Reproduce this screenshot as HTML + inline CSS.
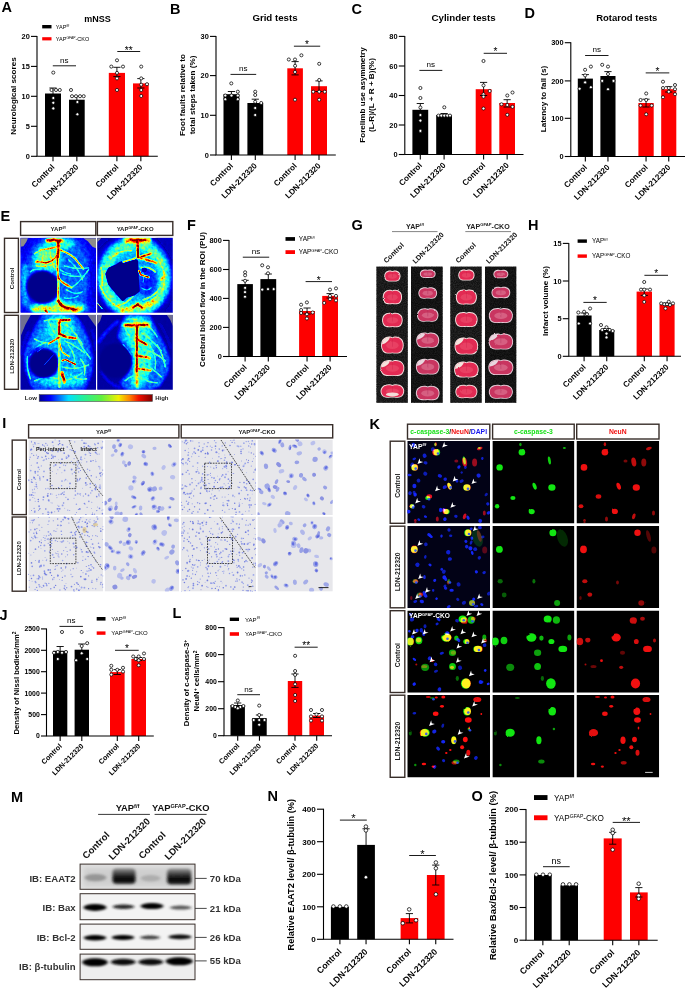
<!DOCTYPE html>
<html lang="en"><head><meta charset="utf-8"><title>Figure</title>
<style>
html,body{margin:0;padding:0;background:#fff;}
svg{display:block;}
svg text{font-family:"Liberation Sans",sans-serif;}
</style></head><body>
<svg width="685" height="990" viewBox="0 0 685 990">
<rect width="685" height="990" fill="#fff"/>
<defs>
<filter id="b03" filterUnits="userSpaceOnUse" x="-20" y="-20" width="740" height="1040"><feGaussianBlur stdDeviation="0.3"/></filter>
<filter id="b05" filterUnits="userSpaceOnUse" x="-20" y="-20" width="740" height="1040"><feGaussianBlur stdDeviation="0.45"/></filter>
<filter id="b08" filterUnits="userSpaceOnUse" x="-20" y="-20" width="740" height="1040"><feGaussianBlur stdDeviation="0.7"/></filter>
<filter id="b1" filterUnits="userSpaceOnUse" x="-20" y="-20" width="740" height="1040"><feGaussianBlur stdDeviation="1"/></filter>
<filter id="b12" filterUnits="userSpaceOnUse" x="-20" y="-20" width="740" height="1040"><feGaussianBlur stdDeviation="1.4 1.0"/></filter>
<filter id="b2" filterUnits="userSpaceOnUse" x="-20" y="-20" width="740" height="1040"><feGaussianBlur stdDeviation="2"/></filter>
<filter id="b3" filterUnits="userSpaceOnUse" x="-20" y="-20" width="740" height="1040"><feGaussianBlur stdDeviation="3.5"/></filter>
<filter id="jetmap" filterUnits="userSpaceOnUse" x="0" y="0" width="76" height="75" color-interpolation-filters="sRGB">
<feTurbulence type="fractalNoise" baseFrequency="0.33" numOctaves="2" seed="3" result="n"/>
<feColorMatrix in="n" type="matrix" values="1 0 0 0 0  1 0 0 0 0  1 0 0 0 0  0 0 0 0 1" result="ng"/>
<feComposite in="SourceGraphic" in2="ng" operator="arithmetic" k1="0.8" k2="0.61" k3="0" k4="0" result="m"/>
<feComponentTransfer in="m">
<feFuncR type="table" tableValues="0 0 0 0 0.5 1 1 1 0.5"/>
<feFuncG type="table" tableValues="0 0 0.5 1 1 1 0.5 0 0"/>
<feFuncB type="table" tableValues="0.55 1 1 1 0.5 0 0 0 0"/>
</feComponentTransfer>
</filter>
<filter id="speck" filterUnits="userSpaceOnUse" x="370" y="260" width="150" height="150" color-interpolation-filters="sRGB">
<feTurbulence type="fractalNoise" baseFrequency="0.9" numOctaves="2" seed="5" result="n"/>
<feColorMatrix in="n" type="matrix" values="0 0 0 0 0  0 0 0 0 0  0 0 0 0 0  2.2 0 0 0 -0.6"/>
<feComposite in2="SourceGraphic" operator="in"/>
</filter>
<linearGradient id="jet" x1="0" x2="1" y1="0" y2="0">
<stop offset="0" stop-color="#000090"/><stop offset="0.10" stop-color="#0000ff"/><stop offset="0.26" stop-color="#00e0ff"/>
<stop offset="0.38" stop-color="#20f0a0"/><stop offset="0.55" stop-color="#60f040"/><stop offset="0.70" stop-color="#f0f000"/>
<stop offset="0.80" stop-color="#ff8000"/><stop offset="0.88" stop-color="#f01000"/><stop offset="1" stop-color="#800000"/>
</linearGradient>
<filter id="cellf" filterUnits="userSpaceOnUse" x="-10" y="-10" width="110" height="110" color-interpolation-filters="sRGB">
<feGaussianBlur in="SourceGraphic" stdDeviation="0.7" result="bl"/>
<feTurbulence type="fractalNoise" baseFrequency="0.18" numOctaves="1" seed="8" result="t"/>
<feDisplacementMap in="bl" in2="t" scale="2.0" xChannelSelector="R" yChannelSelector="G"/>
</filter>
<filter id="slicef" filterUnits="userSpaceOnUse" x="370" y="260" width="150" height="150">
<feTurbulence type="fractalNoise" baseFrequency="0.3" numOctaves="2" seed="4" result="t"/>
<feDisplacementMap in="SourceGraphic" in2="t" scale="1.8" xChannelSelector="R" yChannelSelector="G" result="d"/>
<feGaussianBlur in="d" stdDeviation="0.35"/>
</filter>
<linearGradient id="eaat" x1="0" x2="0" y1="0" y2="1"><stop offset="0" stop-color="#9a9a9a"/><stop offset="0.35" stop-color="#3c3c3c"/><stop offset="0.6" stop-color="#0a0a0a"/><stop offset="0.82" stop-color="#080808"/><stop offset="1" stop-color="#555"/></linearGradient>
<linearGradient id="strip0" x1="0" x2="1" y1="0" y2="1"><stop offset="0" stop-color="#3a3a3a"/><stop offset="0.5" stop-color="#101010"/><stop offset="1" stop-color="#2a2a2a"/></linearGradient>
<linearGradient id="strip1" x1="0" x2="1" y1="0" y2="1"><stop offset="0" stop-color="#101010"/><stop offset="0.5" stop-color="#222"/><stop offset="1" stop-color="#080808"/></linearGradient>
</defs>
<text x="1.50" y="12.20" font-size="14.5" font-weight="bold" text-anchor="start" fill="#000">A</text>
<text x="97.50" y="21.60" font-size="9.0" font-weight="bold" text-anchor="middle" fill="#000">mNSS</text>
<rect x="42.20" y="25.00" width="9.30" height="3.40" fill="#000"/>
<rect x="42.20" y="37.20" width="9.30" height="3.20" fill="#fe0000"/>
<text x="55.80" y="28.68" font-size="5.5" font-weight="normal" text-anchor="start" fill="#000">YAP<tspan font-size="3.41" dy="-1.98">f/f</tspan></text>
<text x="55.80" y="40.78" font-size="5.5" font-weight="normal" text-anchor="start" fill="#000">YAP<tspan font-size="3.41" dy="-1.98">GFAP</tspan><tspan dy="1.98">-CKO</tspan></text>
<text x="16.24" y="96.00" font-size="8.1" font-weight="bold" text-anchor="middle" fill="#000" transform="rotate(-90 16.24 96.00)">Neurological scores</text>
<rect x="45.00" y="93.50" width="16.00" height="62.80" fill="#000"/>
<rect x="69.00" y="99.70" width="15.70" height="56.60" fill="#000"/>
<rect x="108.80" y="72.90" width="16.20" height="83.40" fill="#fe0000"/>
<rect x="133.00" y="83.40" width="15.70" height="72.90" fill="#fe0000"/>
<path d="M53.00 88.00V99.00M49.40 88.00H56.60M49.40 99.00H56.60" stroke="#000" stroke-width="0.9" fill="none"/>
<path d="M76.85 96.50V103.00M73.25 96.50H80.45M73.25 103.00H80.45" stroke="#000" stroke-width="0.9" fill="none"/>
<path d="M116.90 67.30V76.60M113.30 67.30H120.50M113.30 76.60H120.50" stroke="#000" stroke-width="0.9" fill="none"/>
<path d="M140.85 78.60V88.00M137.25 78.60H144.45M137.25 88.00H144.45" stroke="#000" stroke-width="0.9" fill="none"/>
<path d="M37.00 35.90V156.30H157.80" stroke="#000" stroke-width="1.1" fill="none"/>
<path d="M31.00 36.40H37.00" stroke="#000" stroke-width="1.1"/>
<text x="29.80" y="39.06" font-size="7.4" font-weight="bold" text-anchor="end" fill="#000">20</text>
<path d="M31.00 66.40H37.00" stroke="#000" stroke-width="1.1"/>
<text x="29.80" y="69.06" font-size="7.4" font-weight="bold" text-anchor="end" fill="#000">15</text>
<path d="M31.00 96.30H37.00" stroke="#000" stroke-width="1.1"/>
<text x="29.80" y="98.96" font-size="7.4" font-weight="bold" text-anchor="end" fill="#000">10</text>
<path d="M31.00 126.30H37.00" stroke="#000" stroke-width="1.1"/>
<text x="29.80" y="128.96" font-size="7.4" font-weight="bold" text-anchor="end" fill="#000">5</text>
<path d="M31.00 156.30H37.00" stroke="#000" stroke-width="1.1"/>
<text x="29.80" y="158.96" font-size="7.4" font-weight="bold" text-anchor="end" fill="#000">0</text>
<path d="M53.00 156.30v5" stroke="#000" stroke-width="1.1"/>
<text x="55.20" y="167.60" font-size="8.1" font-weight="bold" text-anchor="end" fill="#000" transform="rotate(-45 55.20 167.60)">Control</text>
<path d="M76.85 156.30v5" stroke="#000" stroke-width="1.1"/>
<text x="79.05" y="167.60" font-size="8.1" font-weight="bold" text-anchor="end" fill="#000" transform="rotate(-45 79.05 167.60)">LDN-212320</text>
<path d="M116.90 156.30v5" stroke="#000" stroke-width="1.1"/>
<text x="119.10" y="167.60" font-size="8.1" font-weight="bold" text-anchor="end" fill="#000" transform="rotate(-45 119.10 167.60)">Control</text>
<path d="M140.85 156.30v5" stroke="#000" stroke-width="1.1"/>
<text x="143.05" y="167.60" font-size="8.1" font-weight="bold" text-anchor="end" fill="#000" transform="rotate(-45 143.05 167.60)">LDN-212320</text>
<circle cx="53.30" cy="72.60" r="1.55" fill="#fff" stroke="#000" stroke-width="0.75"/>
<circle cx="51.50" cy="90.00" r="1.55" fill="#fff" stroke="#000" stroke-width="0.75"/>
<circle cx="56.00" cy="90.00" r="1.55" fill="#fff" stroke="#000" stroke-width="0.75"/>
<circle cx="59.80" cy="90.00" r="1.55" fill="#fff" stroke="#000" stroke-width="0.75"/>
<circle cx="53.30" cy="98.00" r="1.55" fill="#fff" stroke="#000" stroke-width="0.75"/>
<circle cx="53.30" cy="102.80" r="1.55" fill="#fff" stroke="#000" stroke-width="0.75"/>
<circle cx="53.30" cy="108.40" r="1.55" fill="#fff" stroke="#000" stroke-width="0.75"/>
<circle cx="71.00" cy="90.00" r="1.55" fill="#fff" stroke="#000" stroke-width="0.75"/>
<circle cx="72.00" cy="96.20" r="1.55" fill="#fff" stroke="#000" stroke-width="0.75"/>
<circle cx="76.00" cy="96.20" r="1.55" fill="#fff" stroke="#000" stroke-width="0.75"/>
<circle cx="80.00" cy="96.20" r="1.55" fill="#fff" stroke="#000" stroke-width="0.75"/>
<circle cx="83.70" cy="96.20" r="1.55" fill="#fff" stroke="#000" stroke-width="0.75"/>
<circle cx="77.40" cy="102.00" r="1.55" fill="#fff" stroke="#000" stroke-width="0.75"/>
<circle cx="77.40" cy="114.30" r="1.55" fill="#fff" stroke="#000" stroke-width="0.75"/>
<circle cx="117.00" cy="60.30" r="1.55" fill="#fff" stroke="#000" stroke-width="0.75"/>
<circle cx="111.30" cy="66.60" r="1.55" fill="#fff" stroke="#000" stroke-width="0.75"/>
<circle cx="123.00" cy="66.60" r="1.55" fill="#fff" stroke="#000" stroke-width="0.75"/>
<circle cx="117.00" cy="72.90" r="1.55" fill="#fff" stroke="#000" stroke-width="0.75"/>
<circle cx="117.00" cy="78.40" r="1.55" fill="#fff" stroke="#000" stroke-width="0.75"/>
<circle cx="117.00" cy="90.00" r="1.55" fill="#fff" stroke="#000" stroke-width="0.75"/>
<circle cx="141.20" cy="66.60" r="1.55" fill="#fff" stroke="#000" stroke-width="0.75"/>
<circle cx="141.20" cy="78.40" r="1.55" fill="#fff" stroke="#000" stroke-width="0.75"/>
<circle cx="147.00" cy="84.20" r="1.55" fill="#fff" stroke="#000" stroke-width="0.75"/>
<circle cx="141.20" cy="84.70" r="1.55" fill="#fff" stroke="#000" stroke-width="0.75"/>
<circle cx="141.20" cy="90.00" r="1.55" fill="#fff" stroke="#000" stroke-width="0.75"/>
<circle cx="141.20" cy="96.00" r="1.55" fill="#fff" stroke="#000" stroke-width="0.75"/>
<path d="M52.80 65.80H76.00" stroke="#000" stroke-width="0.9"/>
<text x="64.40" y="62.60" font-size="8.1" font-weight="normal" text-anchor="middle" fill="#000">ns</text>
<path d="M117.30 51.50H140.20" stroke="#000" stroke-width="0.9"/>
<text x="128.75" y="53.50" font-size="10.125" font-weight="normal" text-anchor="middle" fill="#000">**</text>
<text x="170.00" y="13.80" font-size="14.5" font-weight="bold" text-anchor="start" fill="#000">B</text>
<text x="275.00" y="20.80" font-size="9.7" font-weight="bold" text-anchor="middle" fill="#000">Grid tests</text>
<text x="184.74" y="95.00" font-size="8.1" font-weight="bold" text-anchor="middle" fill="#000" transform="rotate(-90 184.74 95.00)">Foot faults relative to</text>
<text x="194.53" y="95.00" font-size="8.1" font-weight="bold" text-anchor="middle" fill="#000" transform="rotate(-90 194.53 95.00)">total steps taken (%)</text>
<rect x="223.50" y="94.20" width="15.80" height="60.80" fill="#000"/>
<rect x="247.40" y="103.00" width="15.80" height="52.00" fill="#000"/>
<rect x="287.30" y="68.30" width="15.60" height="86.70" fill="#fe0000"/>
<rect x="311.00" y="86.20" width="16.00" height="68.80" fill="#fe0000"/>
<path d="M231.40 91.50V97.00M227.80 91.50H235.00M227.80 97.00H235.00" stroke="#000" stroke-width="0.9" fill="none"/>
<path d="M255.30 99.20V107.00M251.70 99.20H258.90M251.70 107.00H258.90" stroke="#000" stroke-width="0.9" fill="none"/>
<path d="M295.10 61.60V74.90M291.50 61.60H298.70M291.50 74.90H298.70" stroke="#000" stroke-width="0.9" fill="none"/>
<path d="M319.00 80.90V91.50M315.40 80.90H322.60M315.40 91.50H322.60" stroke="#000" stroke-width="0.9" fill="none"/>
<path d="M216.00 35.90V155.00H335.80" stroke="#000" stroke-width="1.1" fill="none"/>
<path d="M210.00 36.40H216.00" stroke="#000" stroke-width="1.1"/>
<text x="208.80" y="39.06" font-size="7.4" font-weight="bold" text-anchor="end" fill="#000">30</text>
<path d="M210.00 75.60H216.00" stroke="#000" stroke-width="1.1"/>
<text x="208.80" y="78.26" font-size="7.4" font-weight="bold" text-anchor="end" fill="#000">20</text>
<path d="M210.00 115.30H216.00" stroke="#000" stroke-width="1.1"/>
<text x="208.80" y="117.96" font-size="7.4" font-weight="bold" text-anchor="end" fill="#000">10</text>
<path d="M210.00 155.00H216.00" stroke="#000" stroke-width="1.1"/>
<text x="208.80" y="157.66" font-size="7.4" font-weight="bold" text-anchor="end" fill="#000">0</text>
<path d="M231.40 155.00v5" stroke="#000" stroke-width="1.1"/>
<text x="233.60" y="166.30" font-size="8.1" font-weight="bold" text-anchor="end" fill="#000" transform="rotate(-45 233.60 166.30)">Control</text>
<path d="M255.30 155.00v5" stroke="#000" stroke-width="1.1"/>
<text x="257.50" y="166.30" font-size="8.1" font-weight="bold" text-anchor="end" fill="#000" transform="rotate(-45 257.50 166.30)">LDN-212320</text>
<path d="M295.10 155.00v5" stroke="#000" stroke-width="1.1"/>
<text x="297.30" y="166.30" font-size="8.1" font-weight="bold" text-anchor="end" fill="#000" transform="rotate(-45 297.30 166.30)">Control</text>
<path d="M319.00 155.00v5" stroke="#000" stroke-width="1.1"/>
<text x="321.20" y="166.30" font-size="8.1" font-weight="bold" text-anchor="end" fill="#000" transform="rotate(-45 321.20 166.30)">LDN-212320</text>
<circle cx="231.30" cy="83.40" r="1.55" fill="#fff" stroke="#000" stroke-width="0.75"/>
<circle cx="237.80" cy="91.70" r="1.55" fill="#fff" stroke="#000" stroke-width="0.75"/>
<circle cx="225.30" cy="95.50" r="1.55" fill="#fff" stroke="#000" stroke-width="0.75"/>
<circle cx="231.50" cy="95.50" r="1.55" fill="#fff" stroke="#000" stroke-width="0.75"/>
<circle cx="237.80" cy="95.50" r="1.55" fill="#fff" stroke="#000" stroke-width="0.75"/>
<circle cx="225.30" cy="99.20" r="1.55" fill="#fff" stroke="#000" stroke-width="0.75"/>
<circle cx="237.80" cy="99.20" r="1.55" fill="#fff" stroke="#000" stroke-width="0.75"/>
<circle cx="255.20" cy="91.70" r="1.55" fill="#fff" stroke="#000" stroke-width="0.75"/>
<circle cx="255.20" cy="95.00" r="1.55" fill="#fff" stroke="#000" stroke-width="0.75"/>
<circle cx="255.20" cy="101.80" r="1.55" fill="#fff" stroke="#000" stroke-width="0.75"/>
<circle cx="261.20" cy="103.00" r="1.55" fill="#fff" stroke="#000" stroke-width="0.75"/>
<circle cx="255.20" cy="108.00" r="1.55" fill="#fff" stroke="#000" stroke-width="0.75"/>
<circle cx="255.20" cy="115.00" r="1.55" fill="#fff" stroke="#000" stroke-width="0.75"/>
<circle cx="301.40" cy="55.30" r="1.55" fill="#fff" stroke="#000" stroke-width="0.75"/>
<circle cx="288.80" cy="59.50" r="1.55" fill="#fff" stroke="#000" stroke-width="0.75"/>
<circle cx="295.00" cy="59.50" r="1.55" fill="#fff" stroke="#000" stroke-width="0.75"/>
<circle cx="295.10" cy="65.80" r="1.55" fill="#fff" stroke="#000" stroke-width="0.75"/>
<circle cx="295.00" cy="72.00" r="1.55" fill="#fff" stroke="#000" stroke-width="0.75"/>
<circle cx="295.00" cy="99.70" r="1.55" fill="#fff" stroke="#000" stroke-width="0.75"/>
<circle cx="319.20" cy="63.80" r="1.55" fill="#fff" stroke="#000" stroke-width="0.75"/>
<circle cx="319.20" cy="80.00" r="1.55" fill="#fff" stroke="#000" stroke-width="0.75"/>
<circle cx="313.20" cy="91.70" r="1.55" fill="#fff" stroke="#000" stroke-width="0.75"/>
<circle cx="319.20" cy="91.70" r="1.55" fill="#fff" stroke="#000" stroke-width="0.75"/>
<circle cx="324.80" cy="91.70" r="1.55" fill="#fff" stroke="#000" stroke-width="0.75"/>
<circle cx="319.20" cy="99.70" r="1.55" fill="#fff" stroke="#000" stroke-width="0.75"/>
<path d="M230.50 74.40H256.20" stroke="#000" stroke-width="0.9"/>
<text x="243.35" y="71.20" font-size="8.1" font-weight="normal" text-anchor="middle" fill="#000">ns</text>
<path d="M293.90 46.20H320.20" stroke="#000" stroke-width="0.9"/>
<text x="307.05" y="48.20" font-size="10.125" font-weight="normal" text-anchor="middle" fill="#000">*</text>
<text x="351.50" y="14.20" font-size="14.5" font-weight="bold" text-anchor="start" fill="#000">C</text>
<text x="463.60" y="20.80" font-size="9.7" font-weight="bold" text-anchor="middle" fill="#000">Cylinder tests</text>
<text x="364.54" y="95.00" font-size="8.1" font-weight="bold" text-anchor="middle" fill="#000" transform="rotate(-90 364.54 95.00)">Forelimb use asymmetry</text>
<text x="374.13" y="95.00" font-size="8.1" font-weight="bold" text-anchor="middle" fill="#000" transform="rotate(-90 374.13 95.00)">(L-R)/(L + R + B)(%)</text>
<rect x="412.40" y="109.80" width="15.80" height="44.70" fill="#000"/>
<rect x="436.20" y="115.00" width="15.80" height="39.50" fill="#000"/>
<rect x="475.70" y="89.20" width="15.80" height="65.30" fill="#fe0000"/>
<rect x="499.30" y="103.00" width="15.70" height="51.50" fill="#fe0000"/>
<path d="M420.30 103.50V116.00M416.70 103.50H423.90M416.70 116.00H423.90" stroke="#000" stroke-width="0.9" fill="none"/>
<path d="M444.10 113.50V116.50M440.50 113.50H447.70M440.50 116.50H447.70" stroke="#000" stroke-width="0.9" fill="none"/>
<path d="M483.60 82.40V95.50M480.00 82.40H487.20M480.00 95.50H487.20" stroke="#000" stroke-width="0.9" fill="none"/>
<path d="M507.15 99.70V107.00M503.55 99.70H510.75M503.55 107.00H510.75" stroke="#000" stroke-width="0.9" fill="none"/>
<path d="M404.80 35.90V154.50H523.50" stroke="#000" stroke-width="1.1" fill="none"/>
<path d="M398.80 36.40H404.80" stroke="#000" stroke-width="1.1"/>
<text x="397.60" y="39.06" font-size="7.4" font-weight="bold" text-anchor="end" fill="#000">80</text>
<path d="M398.80 66.00H404.80" stroke="#000" stroke-width="1.1"/>
<text x="397.60" y="68.66" font-size="7.4" font-weight="bold" text-anchor="end" fill="#000">60</text>
<path d="M398.80 95.50H404.80" stroke="#000" stroke-width="1.1"/>
<text x="397.60" y="98.16" font-size="7.4" font-weight="bold" text-anchor="end" fill="#000">40</text>
<path d="M398.80 125.00H404.80" stroke="#000" stroke-width="1.1"/>
<text x="397.60" y="127.66" font-size="7.4" font-weight="bold" text-anchor="end" fill="#000">20</text>
<path d="M398.80 154.50H404.80" stroke="#000" stroke-width="1.1"/>
<text x="397.60" y="157.16" font-size="7.4" font-weight="bold" text-anchor="end" fill="#000">0</text>
<path d="M420.30 154.50v5" stroke="#000" stroke-width="1.1"/>
<text x="422.50" y="165.80" font-size="8.1" font-weight="bold" text-anchor="end" fill="#000" transform="rotate(-45 422.50 165.80)">Control</text>
<path d="M444.10 154.50v5" stroke="#000" stroke-width="1.1"/>
<text x="446.30" y="165.80" font-size="8.1" font-weight="bold" text-anchor="end" fill="#000" transform="rotate(-45 446.30 165.80)">LDN-212320</text>
<path d="M483.60 154.50v5" stroke="#000" stroke-width="1.1"/>
<text x="485.80" y="165.80" font-size="8.1" font-weight="bold" text-anchor="end" fill="#000" transform="rotate(-45 485.80 165.80)">Control</text>
<path d="M507.15 154.50v5" stroke="#000" stroke-width="1.1"/>
<text x="509.35" y="165.80" font-size="8.1" font-weight="bold" text-anchor="end" fill="#000" transform="rotate(-45 509.35 165.80)">LDN-212320</text>
<circle cx="420.40" cy="88.00" r="1.55" fill="#fff" stroke="#000" stroke-width="0.75"/>
<circle cx="420.40" cy="98.00" r="1.55" fill="#fff" stroke="#000" stroke-width="0.75"/>
<circle cx="420.40" cy="107.50" r="1.55" fill="#fff" stroke="#000" stroke-width="0.75"/>
<circle cx="420.40" cy="115.00" r="1.55" fill="#fff" stroke="#000" stroke-width="0.75"/>
<circle cx="420.40" cy="120.60" r="1.55" fill="#fff" stroke="#000" stroke-width="0.75"/>
<circle cx="420.40" cy="130.90" r="1.55" fill="#fff" stroke="#000" stroke-width="0.75"/>
<circle cx="444.30" cy="107.30" r="1.55" fill="#fff" stroke="#000" stroke-width="0.75"/>
<circle cx="438.50" cy="115.60" r="1.55" fill="#fff" stroke="#000" stroke-width="0.75"/>
<circle cx="441.30" cy="115.60" r="1.55" fill="#fff" stroke="#000" stroke-width="0.75"/>
<circle cx="444.30" cy="115.60" r="1.55" fill="#fff" stroke="#000" stroke-width="0.75"/>
<circle cx="447.30" cy="115.60" r="1.55" fill="#fff" stroke="#000" stroke-width="0.75"/>
<circle cx="450.00" cy="115.60" r="1.55" fill="#fff" stroke="#000" stroke-width="0.75"/>
<circle cx="483.50" cy="61.00" r="1.55" fill="#fff" stroke="#000" stroke-width="0.75"/>
<circle cx="483.50" cy="85.40" r="1.55" fill="#fff" stroke="#000" stroke-width="0.75"/>
<circle cx="489.70" cy="91.00" r="1.55" fill="#fff" stroke="#000" stroke-width="0.75"/>
<circle cx="483.50" cy="94.20" r="1.55" fill="#fff" stroke="#000" stroke-width="0.75"/>
<circle cx="483.50" cy="96.70" r="1.55" fill="#fff" stroke="#000" stroke-width="0.75"/>
<circle cx="483.50" cy="108.50" r="1.55" fill="#fff" stroke="#000" stroke-width="0.75"/>
<circle cx="507.30" cy="95.50" r="1.55" fill="#fff" stroke="#000" stroke-width="0.75"/>
<circle cx="512.50" cy="92.50" r="1.55" fill="#fff" stroke="#000" stroke-width="0.75"/>
<circle cx="501.50" cy="104.30" r="1.55" fill="#fff" stroke="#000" stroke-width="0.75"/>
<circle cx="507.30" cy="105.00" r="1.55" fill="#fff" stroke="#000" stroke-width="0.75"/>
<circle cx="512.50" cy="106.80" r="1.55" fill="#fff" stroke="#000" stroke-width="0.75"/>
<circle cx="507.30" cy="114.80" r="1.55" fill="#fff" stroke="#000" stroke-width="0.75"/>
<path d="M419.40 70.40H442.30" stroke="#000" stroke-width="0.9"/>
<text x="430.85" y="67.20" font-size="8.1" font-weight="normal" text-anchor="middle" fill="#000">ns</text>
<path d="M483.70 53.30H507.00" stroke="#000" stroke-width="0.9"/>
<text x="495.35" y="55.30" font-size="10.125" font-weight="normal" text-anchor="middle" fill="#000">*</text>
<text x="524.50" y="17.60" font-size="14.5" font-weight="bold" text-anchor="start" fill="#000">D</text>
<text x="626.80" y="20.80" font-size="9.5" font-weight="bold" text-anchor="middle" fill="#000">Rotarod tests</text>
<text x="545.64" y="99.00" font-size="8.1" font-weight="bold" text-anchor="middle" fill="#000" transform="rotate(-90 545.64 99.00)">Latency to fall (s)</text>
<rect x="577.80" y="78.60" width="15.10" height="77.90" fill="#000"/>
<rect x="600.40" y="76.00" width="15.10" height="80.50" fill="#000"/>
<rect x="638.40" y="103.00" width="15.30" height="53.50" fill="#fe0000"/>
<rect x="661.20" y="89.20" width="15.10" height="67.30" fill="#fe0000"/>
<path d="M585.35 74.60V83.00M581.75 74.60H588.95M581.75 83.00H588.95" stroke="#000" stroke-width="0.9" fill="none"/>
<path d="M607.95 71.60V80.50M604.35 71.60H611.55M604.35 80.50H611.55" stroke="#000" stroke-width="0.9" fill="none"/>
<path d="M646.05 99.20V107.00M642.45 99.20H649.65M642.45 107.00H649.65" stroke="#000" stroke-width="0.9" fill="none"/>
<path d="M668.75 86.70V92.00M665.15 86.70H672.35M665.15 92.00H672.35" stroke="#000" stroke-width="0.9" fill="none"/>
<path d="M570.80 42.20V156.50H686.00" stroke="#000" stroke-width="1.1" fill="none"/>
<path d="M564.80 42.70H570.80" stroke="#000" stroke-width="1.1"/>
<text x="563.60" y="45.36" font-size="7.4" font-weight="bold" text-anchor="end" fill="#000">300</text>
<path d="M564.80 80.90H570.80" stroke="#000" stroke-width="1.1"/>
<text x="563.60" y="83.56" font-size="7.4" font-weight="bold" text-anchor="end" fill="#000">200</text>
<path d="M564.80 118.30H570.80" stroke="#000" stroke-width="1.1"/>
<text x="563.60" y="120.96" font-size="7.4" font-weight="bold" text-anchor="end" fill="#000">100</text>
<path d="M564.80 156.50H570.80" stroke="#000" stroke-width="1.1"/>
<text x="563.60" y="159.16" font-size="7.4" font-weight="bold" text-anchor="end" fill="#000">0</text>
<path d="M585.35 156.50v5" stroke="#000" stroke-width="1.1"/>
<text x="587.55" y="167.80" font-size="8.1" font-weight="bold" text-anchor="end" fill="#000" transform="rotate(-45 587.55 167.80)">Control</text>
<path d="M607.95 156.50v5" stroke="#000" stroke-width="1.1"/>
<text x="610.15" y="167.80" font-size="8.1" font-weight="bold" text-anchor="end" fill="#000" transform="rotate(-45 610.15 167.80)">LDN-212320</text>
<path d="M646.05 156.50v5" stroke="#000" stroke-width="1.1"/>
<text x="648.25" y="167.80" font-size="8.1" font-weight="bold" text-anchor="end" fill="#000" transform="rotate(-45 648.25 167.80)">Control</text>
<path d="M668.75 156.50v5" stroke="#000" stroke-width="1.1"/>
<text x="670.95" y="167.80" font-size="8.1" font-weight="bold" text-anchor="end" fill="#000" transform="rotate(-45 670.95 167.80)">LDN-212320</text>
<circle cx="590.90" cy="66.60" r="1.55" fill="#fff" stroke="#000" stroke-width="0.75"/>
<circle cx="585.10" cy="69.80" r="1.55" fill="#fff" stroke="#000" stroke-width="0.75"/>
<circle cx="585.10" cy="75.40" r="1.55" fill="#fff" stroke="#000" stroke-width="0.75"/>
<circle cx="585.10" cy="82.40" r="1.55" fill="#fff" stroke="#000" stroke-width="0.75"/>
<circle cx="579.60" cy="88.70" r="1.55" fill="#fff" stroke="#000" stroke-width="0.75"/>
<circle cx="590.90" cy="87.20" r="1.55" fill="#fff" stroke="#000" stroke-width="0.75"/>
<circle cx="602.20" cy="64.80" r="1.55" fill="#fff" stroke="#000" stroke-width="0.75"/>
<circle cx="608.00" cy="66.60" r="1.55" fill="#fff" stroke="#000" stroke-width="0.75"/>
<circle cx="608.00" cy="74.00" r="1.55" fill="#fff" stroke="#000" stroke-width="0.75"/>
<circle cx="602.20" cy="80.90" r="1.55" fill="#fff" stroke="#000" stroke-width="0.75"/>
<circle cx="613.50" cy="80.90" r="1.55" fill="#fff" stroke="#000" stroke-width="0.75"/>
<circle cx="608.00" cy="89.20" r="1.55" fill="#fff" stroke="#000" stroke-width="0.75"/>
<circle cx="646.20" cy="93.50" r="1.55" fill="#fff" stroke="#000" stroke-width="0.75"/>
<circle cx="640.60" cy="100.00" r="1.55" fill="#fff" stroke="#000" stroke-width="0.75"/>
<circle cx="646.20" cy="100.00" r="1.55" fill="#fff" stroke="#000" stroke-width="0.75"/>
<circle cx="640.60" cy="105.50" r="1.55" fill="#fff" stroke="#000" stroke-width="0.75"/>
<circle cx="651.70" cy="105.50" r="1.55" fill="#fff" stroke="#000" stroke-width="0.75"/>
<circle cx="646.20" cy="114.30" r="1.55" fill="#fff" stroke="#000" stroke-width="0.75"/>
<circle cx="663.00" cy="81.70" r="1.55" fill="#fff" stroke="#000" stroke-width="0.75"/>
<circle cx="675.00" cy="85.00" r="1.55" fill="#fff" stroke="#000" stroke-width="0.75"/>
<circle cx="663.00" cy="88.00" r="1.55" fill="#fff" stroke="#000" stroke-width="0.75"/>
<circle cx="668.80" cy="88.00" r="1.55" fill="#fff" stroke="#000" stroke-width="0.75"/>
<circle cx="675.00" cy="89.20" r="1.55" fill="#fff" stroke="#000" stroke-width="0.75"/>
<circle cx="668.80" cy="91.70" r="1.55" fill="#fff" stroke="#000" stroke-width="0.75"/>
<circle cx="675.00" cy="94.20" r="1.55" fill="#fff" stroke="#000" stroke-width="0.75"/>
<circle cx="663.00" cy="97.20" r="1.55" fill="#fff" stroke="#000" stroke-width="0.75"/>
<path d="M585.10 55.50H608.50" stroke="#000" stroke-width="0.9"/>
<text x="596.80" y="52.30" font-size="8.1" font-weight="normal" text-anchor="middle" fill="#000">ns</text>
<path d="M645.70 72.90H669.30" stroke="#000" stroke-width="0.9"/>
<text x="657.50" y="74.90" font-size="10.125" font-weight="normal" text-anchor="middle" fill="#000">*</text>
<text x="187.00" y="229.50" font-size="14.5" font-weight="bold" text-anchor="start" fill="#000">F</text>
<rect x="285.50" y="237.10" width="9.50" height="3.70" fill="#000"/>
<rect x="285.50" y="250.20" width="9.50" height="3.80" fill="#fe0000"/>
<text x="298.80" y="241.29" font-size="6.5" font-weight="normal" text-anchor="start" fill="#000">YAP<tspan font-size="4.03" dy="-2.34">f/f</tspan></text>
<text x="298.80" y="254.44" font-size="6.5" font-weight="normal" text-anchor="start" fill="#000">YAP<tspan font-size="4.03" dy="-2.34">GFAP</tspan><tspan dy="2.34">-CKO</tspan></text>
<text x="204.53" y="299.50" font-size="8.1" font-weight="bold" text-anchor="middle" fill="#000" transform="rotate(-90 204.53 299.50)">Cerebral blood flow in the ROI (PU)</text>
<rect x="237.30" y="284.10" width="15.60" height="72.40" fill="#000"/>
<rect x="260.40" y="279.10" width="15.80" height="77.40" fill="#000"/>
<rect x="299.10" y="311.00" width="15.90" height="45.50" fill="#fe0000"/>
<rect x="322.20" y="295.90" width="15.80" height="60.60" fill="#fe0000"/>
<path d="M245.10 280.30V288.00M241.50 280.30H248.70M241.50 288.00H248.70" stroke="#000" stroke-width="0.9" fill="none"/>
<path d="M268.30 274.00V284.00M264.70 274.00H271.90M264.70 284.00H271.90" stroke="#000" stroke-width="0.9" fill="none"/>
<path d="M307.05 308.00V314.00M303.45 308.00H310.65M303.45 314.00H310.65" stroke="#000" stroke-width="0.9" fill="none"/>
<path d="M330.10 293.60V298.00M326.50 293.60H333.70M326.50 298.00H333.70" stroke="#000" stroke-width="0.9" fill="none"/>
<path d="M229.00 239.90V356.50H347.00" stroke="#000" stroke-width="1.1" fill="none"/>
<path d="M223.00 240.40H229.00" stroke="#000" stroke-width="1.1"/>
<text x="221.80" y="243.06" font-size="7.4" font-weight="bold" text-anchor="end" fill="#000">800</text>
<path d="M223.00 269.50H229.00" stroke="#000" stroke-width="1.1"/>
<text x="221.80" y="272.16" font-size="7.4" font-weight="bold" text-anchor="end" fill="#000">600</text>
<path d="M223.00 298.40H229.00" stroke="#000" stroke-width="1.1"/>
<text x="221.80" y="301.06" font-size="7.4" font-weight="bold" text-anchor="end" fill="#000">400</text>
<path d="M223.00 327.40H229.00" stroke="#000" stroke-width="1.1"/>
<text x="221.80" y="330.06" font-size="7.4" font-weight="bold" text-anchor="end" fill="#000">200</text>
<path d="M223.00 356.50H229.00" stroke="#000" stroke-width="1.1"/>
<text x="221.80" y="359.16" font-size="7.4" font-weight="bold" text-anchor="end" fill="#000">0</text>
<path d="M245.10 356.50v5" stroke="#000" stroke-width="1.1"/>
<text x="247.30" y="367.80" font-size="8.1" font-weight="bold" text-anchor="end" fill="#000" transform="rotate(-45 247.30 367.80)">Control</text>
<path d="M268.30 356.50v5" stroke="#000" stroke-width="1.1"/>
<text x="270.50" y="367.80" font-size="8.1" font-weight="bold" text-anchor="end" fill="#000" transform="rotate(-45 270.50 367.80)">LDN-212320</text>
<path d="M307.05 356.50v5" stroke="#000" stroke-width="1.1"/>
<text x="309.25" y="367.80" font-size="8.1" font-weight="bold" text-anchor="end" fill="#000" transform="rotate(-45 309.25 367.80)">Control</text>
<path d="M330.10 356.50v5" stroke="#000" stroke-width="1.1"/>
<text x="332.30" y="367.80" font-size="8.1" font-weight="bold" text-anchor="end" fill="#000" transform="rotate(-45 332.30 367.80)">LDN-212320</text>
<circle cx="245.10" cy="272.30" r="1.55" fill="#fff" stroke="#000" stroke-width="0.75"/>
<circle cx="245.10" cy="275.30" r="1.55" fill="#fff" stroke="#000" stroke-width="0.75"/>
<circle cx="245.10" cy="280.80" r="1.55" fill="#fff" stroke="#000" stroke-width="0.75"/>
<circle cx="245.10" cy="287.90" r="1.55" fill="#fff" stroke="#000" stroke-width="0.75"/>
<circle cx="245.00" cy="292.10" r="1.55" fill="#fff" stroke="#000" stroke-width="0.75"/>
<circle cx="245.00" cy="296.70" r="1.55" fill="#fff" stroke="#000" stroke-width="0.75"/>
<circle cx="262.20" cy="265.30" r="1.55" fill="#fff" stroke="#000" stroke-width="0.75"/>
<circle cx="268.00" cy="267.30" r="1.55" fill="#fff" stroke="#000" stroke-width="0.75"/>
<circle cx="268.00" cy="273.30" r="1.55" fill="#fff" stroke="#000" stroke-width="0.75"/>
<circle cx="262.20" cy="289.60" r="1.55" fill="#fff" stroke="#000" stroke-width="0.75"/>
<circle cx="268.00" cy="289.10" r="1.55" fill="#fff" stroke="#000" stroke-width="0.75"/>
<circle cx="273.70" cy="289.10" r="1.55" fill="#fff" stroke="#000" stroke-width="0.75"/>
<circle cx="306.90" cy="302.40" r="1.55" fill="#fff" stroke="#000" stroke-width="0.75"/>
<circle cx="301.10" cy="304.70" r="1.55" fill="#fff" stroke="#000" stroke-width="0.75"/>
<circle cx="301.10" cy="310.00" r="1.55" fill="#fff" stroke="#000" stroke-width="0.75"/>
<circle cx="301.10" cy="313.00" r="1.55" fill="#fff" stroke="#000" stroke-width="0.75"/>
<circle cx="306.90" cy="314.20" r="1.55" fill="#fff" stroke="#000" stroke-width="0.75"/>
<circle cx="312.70" cy="312.50" r="1.55" fill="#fff" stroke="#000" stroke-width="0.75"/>
<circle cx="306.90" cy="318.50" r="1.55" fill="#fff" stroke="#000" stroke-width="0.75"/>
<circle cx="330.00" cy="289.60" r="1.55" fill="#fff" stroke="#000" stroke-width="0.75"/>
<circle cx="336.00" cy="288.40" r="1.55" fill="#fff" stroke="#000" stroke-width="0.75"/>
<circle cx="330.00" cy="295.90" r="1.55" fill="#fff" stroke="#000" stroke-width="0.75"/>
<circle cx="336.00" cy="295.90" r="1.55" fill="#fff" stroke="#000" stroke-width="0.75"/>
<circle cx="324.20" cy="302.90" r="1.55" fill="#fff" stroke="#000" stroke-width="0.75"/>
<circle cx="330.00" cy="299.20" r="1.55" fill="#fff" stroke="#000" stroke-width="0.75"/>
<circle cx="336.00" cy="300.40" r="1.55" fill="#fff" stroke="#000" stroke-width="0.75"/>
<path d="M242.80 257.20H269.20" stroke="#000" stroke-width="0.9"/>
<text x="256.00" y="254.00" font-size="8.1" font-weight="normal" text-anchor="middle" fill="#000">ns</text>
<path d="M305.60 281.60H332.00" stroke="#000" stroke-width="0.9"/>
<text x="318.80" y="283.60" font-size="10.125" font-weight="normal" text-anchor="middle" fill="#000">*</text>
<text x="528.00" y="229.50" font-size="14.5" font-weight="bold" text-anchor="start" fill="#000">H</text>
<rect x="577.60" y="239.40" width="9.30" height="3.40" fill="#000"/>
<rect x="577.60" y="254.40" width="9.30" height="3.40" fill="#fe0000"/>
<text x="592.10" y="243.37" font-size="6.3" font-weight="normal" text-anchor="start" fill="#000">YAP<tspan font-size="3.91" dy="-2.27">f/f</tspan></text>
<text x="592.10" y="258.37" font-size="6.3" font-weight="normal" text-anchor="start" fill="#000">YAP<tspan font-size="3.91" dy="-2.27">GFAP</tspan><tspan dy="2.27">-CKO</tspan></text>
<text x="548.34" y="301.00" font-size="8.1" font-weight="bold" text-anchor="middle" fill="#000" transform="rotate(-90 548.34 301.00)">Infarct volume (%)</text>
<rect x="576.60" y="315.50" width="15.00" height="40.80" fill="#000"/>
<rect x="599.20" y="330.00" width="15.10" height="26.30" fill="#000"/>
<rect x="636.60" y="291.60" width="15.40" height="64.70" fill="#fe0000"/>
<rect x="659.50" y="304.20" width="15.10" height="52.10" fill="#fe0000"/>
<path d="M584.10 313.00V318.00M580.50 313.00H587.70M580.50 318.00H587.70" stroke="#000" stroke-width="0.9" fill="none"/>
<path d="M606.75 328.50V331.50M603.15 328.50H610.35M603.15 331.50H610.35" stroke="#000" stroke-width="0.9" fill="none"/>
<path d="M644.30 289.00V295.40M640.70 289.00H647.90M640.70 295.40H647.90" stroke="#000" stroke-width="0.9" fill="none"/>
<path d="M667.05 303.00V305.50M663.45 303.00H670.65M663.45 305.50H670.65" stroke="#000" stroke-width="0.9" fill="none"/>
<path d="M568.80 242.90V356.30H681.00" stroke="#000" stroke-width="1.1" fill="none"/>
<path d="M562.80 243.40H568.80" stroke="#000" stroke-width="1.1"/>
<text x="561.60" y="246.06" font-size="7.4" font-weight="bold" text-anchor="end" fill="#000">15</text>
<path d="M562.80 281.00H568.80" stroke="#000" stroke-width="1.1"/>
<text x="561.60" y="283.66" font-size="7.4" font-weight="bold" text-anchor="end" fill="#000">10</text>
<path d="M562.80 318.70H568.80" stroke="#000" stroke-width="1.1"/>
<text x="561.60" y="321.36" font-size="7.4" font-weight="bold" text-anchor="end" fill="#000">5</text>
<path d="M562.80 356.30H568.80" stroke="#000" stroke-width="1.1"/>
<text x="561.60" y="358.96" font-size="7.4" font-weight="bold" text-anchor="end" fill="#000">0</text>
<path d="M584.10 356.30v5" stroke="#000" stroke-width="1.1"/>
<text x="586.30" y="367.60" font-size="8.1" font-weight="bold" text-anchor="end" fill="#000" transform="rotate(-45 586.30 367.60)">Control</text>
<path d="M606.75 356.30v5" stroke="#000" stroke-width="1.1"/>
<text x="608.95" y="367.60" font-size="8.1" font-weight="bold" text-anchor="end" fill="#000" transform="rotate(-45 608.95 367.60)">LDN-212320</text>
<path d="M644.30 356.30v5" stroke="#000" stroke-width="1.1"/>
<text x="646.50" y="367.60" font-size="8.1" font-weight="bold" text-anchor="end" fill="#000" transform="rotate(-45 646.50 367.60)">Control</text>
<path d="M667.05 356.30v5" stroke="#000" stroke-width="1.1"/>
<text x="669.25" y="367.60" font-size="8.1" font-weight="bold" text-anchor="end" fill="#000" transform="rotate(-45 669.25 367.60)">LDN-212320</text>
<circle cx="590.10" cy="308.50" r="1.55" fill="#fff" stroke="#000" stroke-width="0.75"/>
<circle cx="578.30" cy="312.50" r="1.55" fill="#fff" stroke="#000" stroke-width="0.75"/>
<circle cx="584.10" cy="311.70" r="1.55" fill="#fff" stroke="#000" stroke-width="0.75"/>
<circle cx="587.00" cy="314.20" r="1.55" fill="#fff" stroke="#000" stroke-width="0.75"/>
<circle cx="578.80" cy="323.50" r="1.55" fill="#fff" stroke="#000" stroke-width="0.75"/>
<circle cx="590.10" cy="323.50" r="1.55" fill="#fff" stroke="#000" stroke-width="0.75"/>
<circle cx="601.00" cy="325.00" r="1.55" fill="#fff" stroke="#000" stroke-width="0.75"/>
<circle cx="606.50" cy="327.30" r="1.55" fill="#fff" stroke="#000" stroke-width="0.75"/>
<circle cx="602.20" cy="330.00" r="1.55" fill="#fff" stroke="#000" stroke-width="0.75"/>
<circle cx="609.70" cy="330.00" r="1.55" fill="#fff" stroke="#000" stroke-width="0.75"/>
<circle cx="612.70" cy="331.00" r="1.55" fill="#fff" stroke="#000" stroke-width="0.75"/>
<circle cx="606.50" cy="333.60" r="1.55" fill="#fff" stroke="#000" stroke-width="0.75"/>
<circle cx="606.50" cy="337.40" r="1.55" fill="#fff" stroke="#000" stroke-width="0.75"/>
<circle cx="644.20" cy="282.00" r="1.55" fill="#fff" stroke="#000" stroke-width="0.75"/>
<circle cx="641.00" cy="289.60" r="1.55" fill="#fff" stroke="#000" stroke-width="0.75"/>
<circle cx="644.20" cy="289.60" r="1.55" fill="#fff" stroke="#000" stroke-width="0.75"/>
<circle cx="650.00" cy="289.60" r="1.55" fill="#fff" stroke="#000" stroke-width="0.75"/>
<circle cx="644.20" cy="295.40" r="1.55" fill="#fff" stroke="#000" stroke-width="0.75"/>
<circle cx="644.20" cy="301.90" r="1.55" fill="#fff" stroke="#000" stroke-width="0.75"/>
<circle cx="668.80" cy="301.70" r="1.55" fill="#fff" stroke="#000" stroke-width="0.75"/>
<circle cx="661.20" cy="303.40" r="1.55" fill="#fff" stroke="#000" stroke-width="0.75"/>
<circle cx="664.30" cy="304.20" r="1.55" fill="#fff" stroke="#000" stroke-width="0.75"/>
<circle cx="667.00" cy="304.20" r="1.55" fill="#fff" stroke="#000" stroke-width="0.75"/>
<circle cx="670.00" cy="305.00" r="1.55" fill="#fff" stroke="#000" stroke-width="0.75"/>
<circle cx="673.00" cy="303.40" r="1.55" fill="#fff" stroke="#000" stroke-width="0.75"/>
<circle cx="665.50" cy="308.50" r="1.55" fill="#fff" stroke="#000" stroke-width="0.75"/>
<path d="M583.40 302.40H606.70" stroke="#000" stroke-width="0.9"/>
<text x="595.05" y="304.40" font-size="10.125" font-weight="normal" text-anchor="middle" fill="#000">*</text>
<path d="M644.40 275.30H668.00" stroke="#000" stroke-width="0.9"/>
<text x="656.20" y="277.30" font-size="10.125" font-weight="normal" text-anchor="middle" fill="#000">*</text>
<text x="-0.50" y="619.80" font-size="14.5" font-weight="bold" text-anchor="start" fill="#000">J</text>
<rect x="96.70" y="617.00" width="8.80" height="3.60" fill="#000"/>
<rect x="96.70" y="631.40" width="8.80" height="3.40" fill="#fe0000"/>
<text x="111.30" y="620.96" font-size="6.0" font-weight="normal" text-anchor="start" fill="#000">YAP<tspan font-size="3.72" dy="-2.16">f/f</tspan></text>
<text x="111.30" y="635.26" font-size="6.0" font-weight="normal" text-anchor="start" fill="#000">YAP<tspan font-size="3.72" dy="-2.16">GFAP</tspan><tspan dy="2.16">-CKO</tspan></text>
<text x="18.80" y="683.00" font-size="7.7" font-weight="bold" text-anchor="middle" fill="#000" transform="rotate(-90 18.80 683.00)">Density of Nissl bodies/mm<tspan font-size="5" dy="-2.5">2</tspan></text>
<rect x="53.00" y="650.80" width="14.30" height="85.20" fill="#000"/>
<rect x="74.60" y="649.70" width="14.40" height="86.30" fill="#000"/>
<rect x="110.00" y="672.10" width="14.60" height="63.90" fill="#fe0000"/>
<rect x="131.40" y="659.00" width="14.60" height="77.00" fill="#fe0000"/>
<path d="M60.15 646.50V655.00M56.55 646.50H63.75M56.55 655.00H63.75" stroke="#000" stroke-width="0.9" fill="none"/>
<path d="M81.80 644.00V655.00M78.20 644.00H85.40M78.20 655.00H85.40" stroke="#000" stroke-width="0.9" fill="none"/>
<path d="M117.30 669.60V674.50M113.70 669.60H120.90M113.70 674.50H120.90" stroke="#000" stroke-width="0.9" fill="none"/>
<path d="M138.70 657.50V660.50M135.10 657.50H142.30M135.10 660.50H142.30" stroke="#000" stroke-width="0.9" fill="none"/>
<path d="M46.50 628.40V736.00H153.80" stroke="#000" stroke-width="1.1" fill="none"/>
<path d="M41.00 628.90H46.50" stroke="#000" stroke-width="1.1"/>
<text x="39.80" y="631.38" font-size="6.9" font-weight="bold" text-anchor="end" fill="#000">2500</text>
<path d="M41.00 650.30H46.50" stroke="#000" stroke-width="1.1"/>
<text x="39.80" y="652.78" font-size="6.9" font-weight="bold" text-anchor="end" fill="#000">2000</text>
<path d="M41.00 671.70H46.50" stroke="#000" stroke-width="1.1"/>
<text x="39.80" y="674.18" font-size="6.9" font-weight="bold" text-anchor="end" fill="#000">1500</text>
<path d="M41.00 693.10H46.50" stroke="#000" stroke-width="1.1"/>
<text x="39.80" y="695.58" font-size="6.9" font-weight="bold" text-anchor="end" fill="#000">1000</text>
<path d="M41.00 714.60H46.50" stroke="#000" stroke-width="1.1"/>
<text x="39.80" y="717.08" font-size="6.9" font-weight="bold" text-anchor="end" fill="#000">500</text>
<path d="M41.00 736.00H46.50" stroke="#000" stroke-width="1.1"/>
<text x="39.80" y="738.48" font-size="6.9" font-weight="bold" text-anchor="end" fill="#000">0</text>
<path d="M60.15 736.00v5" stroke="#000" stroke-width="1.1"/>
<text x="62.35" y="746.60" font-size="7.2" font-weight="bold" text-anchor="end" fill="#000" transform="rotate(-45 62.35 746.60)">Control</text>
<path d="M81.80 736.00v5" stroke="#000" stroke-width="1.1"/>
<text x="84.00" y="746.60" font-size="7.2" font-weight="bold" text-anchor="end" fill="#000" transform="rotate(-45 84.00 746.60)">LDN-212320</text>
<path d="M117.30 736.00v5" stroke="#000" stroke-width="1.1"/>
<text x="119.50" y="746.60" font-size="7.2" font-weight="bold" text-anchor="end" fill="#000" transform="rotate(-45 119.50 746.60)">Control</text>
<path d="M138.70 736.00v5" stroke="#000" stroke-width="1.1"/>
<text x="140.90" y="746.60" font-size="7.2" font-weight="bold" text-anchor="end" fill="#000" transform="rotate(-45 140.90 746.60)">LDN-212320</text>
<circle cx="62.00" cy="632.00" r="1.55" fill="#fff" stroke="#000" stroke-width="0.75"/>
<circle cx="54.00" cy="652.80" r="1.55" fill="#fff" stroke="#000" stroke-width="0.75"/>
<circle cx="57.80" cy="652.00" r="1.55" fill="#fff" stroke="#000" stroke-width="0.75"/>
<circle cx="62.00" cy="652.80" r="1.55" fill="#fff" stroke="#000" stroke-width="0.75"/>
<circle cx="66.00" cy="652.00" r="1.55" fill="#fff" stroke="#000" stroke-width="0.75"/>
<circle cx="57.80" cy="659.00" r="1.55" fill="#fff" stroke="#000" stroke-width="0.75"/>
<circle cx="81.70" cy="632.00" r="1.55" fill="#fff" stroke="#000" stroke-width="0.75"/>
<circle cx="87.20" cy="643.20" r="1.55" fill="#fff" stroke="#000" stroke-width="0.75"/>
<circle cx="81.70" cy="646.00" r="1.55" fill="#fff" stroke="#000" stroke-width="0.75"/>
<circle cx="81.70" cy="653.30" r="1.55" fill="#fff" stroke="#000" stroke-width="0.75"/>
<circle cx="76.10" cy="660.30" r="1.55" fill="#fff" stroke="#000" stroke-width="0.75"/>
<circle cx="87.20" cy="659.00" r="1.55" fill="#fff" stroke="#000" stroke-width="0.75"/>
<circle cx="111.30" cy="665.80" r="1.55" fill="#fff" stroke="#000" stroke-width="0.75"/>
<circle cx="123.00" cy="667.80" r="1.55" fill="#fff" stroke="#000" stroke-width="0.75"/>
<circle cx="111.30" cy="669.80" r="1.55" fill="#fff" stroke="#000" stroke-width="0.75"/>
<circle cx="117.30" cy="669.80" r="1.55" fill="#fff" stroke="#000" stroke-width="0.75"/>
<circle cx="123.00" cy="671.60" r="1.55" fill="#fff" stroke="#000" stroke-width="0.75"/>
<circle cx="111.30" cy="674.60" r="1.55" fill="#fff" stroke="#000" stroke-width="0.75"/>
<circle cx="144.00" cy="653.50" r="1.55" fill="#fff" stroke="#000" stroke-width="0.75"/>
<circle cx="133.20" cy="656.50" r="1.55" fill="#fff" stroke="#000" stroke-width="0.75"/>
<circle cx="138.70" cy="656.50" r="1.55" fill="#fff" stroke="#000" stroke-width="0.75"/>
<circle cx="135.70" cy="659.00" r="1.55" fill="#fff" stroke="#000" stroke-width="0.75"/>
<circle cx="144.00" cy="659.00" r="1.55" fill="#fff" stroke="#000" stroke-width="0.75"/>
<circle cx="138.70" cy="660.30" r="1.55" fill="#fff" stroke="#000" stroke-width="0.75"/>
<circle cx="138.70" cy="665.30" r="1.55" fill="#fff" stroke="#000" stroke-width="0.75"/>
<path d="M59.50 626.40H82.90" stroke="#000" stroke-width="0.9"/>
<text x="71.20" y="623.20" font-size="8.1" font-weight="normal" text-anchor="middle" fill="#000">ns</text>
<path d="M115.00 650.30H138.70" stroke="#000" stroke-width="0.9"/>
<text x="126.85" y="652.30" font-size="10.125" font-weight="normal" text-anchor="middle" fill="#000">*</text>
<text x="172.50" y="617.80" font-size="14.5" font-weight="bold" text-anchor="start" fill="#000">L</text>
<rect x="229.80" y="617.60" width="9.20" height="3.40" fill="#000"/>
<rect x="229.80" y="632.20" width="9.20" height="3.60" fill="#fe0000"/>
<text x="244.90" y="621.50" font-size="6.1" font-weight="normal" text-anchor="start" fill="#000">YAP<tspan font-size="3.78" dy="-2.2">f/f</tspan></text>
<text x="244.90" y="636.20" font-size="6.1" font-weight="normal" text-anchor="start" fill="#000">YAP<tspan font-size="3.78" dy="-2.2">GFAP</tspan><tspan dy="2.2">-CKO</tspan></text>
<text x="189.39" y="683.00" font-size="7.7" font-weight="bold" text-anchor="middle" fill="#000" transform="rotate(-90 189.39 683.00)">Density of c-caspase-3<tspan font-size="5" dy="-2.5">+</tspan></text>
<text x="199.39" y="681.00" font-size="7.7" font-weight="bold" text-anchor="middle" fill="#000" transform="rotate(-90 199.39 681.00)">NeuN<tspan font-size="5" dy="-2.5">+</tspan><tspan dy="2.5"> cells/mm</tspan><tspan font-size="5" dy="-2.5">2</tspan></text>
<rect x="230.50" y="705.00" width="14.40" height="30.70" fill="#000"/>
<rect x="252.20" y="718.10" width="14.50" height="17.60" fill="#000"/>
<rect x="287.80" y="681.00" width="14.40" height="54.70" fill="#fe0000"/>
<rect x="309.40" y="715.60" width="14.60" height="20.10" fill="#fe0000"/>
<path d="M237.70 703.00V707.00M234.10 703.00H241.30M234.10 707.00H241.30" stroke="#000" stroke-width="0.9" fill="none"/>
<path d="M259.45 715.00V721.00M255.85 715.00H263.05M255.85 721.00H263.05" stroke="#000" stroke-width="0.9" fill="none"/>
<path d="M295.00 674.00V687.40M291.40 674.00H298.60M291.40 687.40H298.60" stroke="#000" stroke-width="0.9" fill="none"/>
<path d="M316.70 713.50V717.50M313.10 713.50H320.30M313.10 717.50H320.30" stroke="#000" stroke-width="0.9" fill="none"/>
<path d="M224.00 627.10V735.70H332.00" stroke="#000" stroke-width="1.1" fill="none"/>
<path d="M218.00 627.60H224.00" stroke="#000" stroke-width="1.1"/>
<text x="216.80" y="630.08" font-size="6.9" font-weight="bold" text-anchor="end" fill="#000">800</text>
<path d="M218.00 654.60H224.00" stroke="#000" stroke-width="1.1"/>
<text x="216.80" y="657.08" font-size="6.9" font-weight="bold" text-anchor="end" fill="#000">600</text>
<path d="M218.00 681.70H224.00" stroke="#000" stroke-width="1.1"/>
<text x="216.80" y="684.18" font-size="6.9" font-weight="bold" text-anchor="end" fill="#000">400</text>
<path d="M218.00 708.70H224.00" stroke="#000" stroke-width="1.1"/>
<text x="216.80" y="711.18" font-size="6.9" font-weight="bold" text-anchor="end" fill="#000">200</text>
<path d="M218.00 735.70H224.00" stroke="#000" stroke-width="1.1"/>
<text x="216.80" y="738.18" font-size="6.9" font-weight="bold" text-anchor="end" fill="#000">0</text>
<path d="M237.70 735.70v5" stroke="#000" stroke-width="1.1"/>
<text x="239.90" y="746.30" font-size="7.2" font-weight="bold" text-anchor="end" fill="#000" transform="rotate(-45 239.90 746.30)">Control</text>
<path d="M259.45 735.70v5" stroke="#000" stroke-width="1.1"/>
<text x="261.65" y="746.30" font-size="7.2" font-weight="bold" text-anchor="end" fill="#000" transform="rotate(-45 261.65 746.30)">LDN-212320</text>
<path d="M295.00 735.70v5" stroke="#000" stroke-width="1.1"/>
<text x="297.20" y="746.30" font-size="7.2" font-weight="bold" text-anchor="end" fill="#000" transform="rotate(-45 297.20 746.30)">Control</text>
<path d="M316.70 735.70v5" stroke="#000" stroke-width="1.1"/>
<text x="318.90" y="746.30" font-size="7.2" font-weight="bold" text-anchor="end" fill="#000" transform="rotate(-45 318.90 746.30)">LDN-212320</text>
<circle cx="237.80" cy="700.50" r="1.55" fill="#fff" stroke="#000" stroke-width="0.75"/>
<circle cx="232.50" cy="706.00" r="1.55" fill="#fff" stroke="#000" stroke-width="0.75"/>
<circle cx="243.40" cy="706.00" r="1.55" fill="#fff" stroke="#000" stroke-width="0.75"/>
<circle cx="235.30" cy="707.00" r="1.55" fill="#fff" stroke="#000" stroke-width="0.75"/>
<circle cx="240.30" cy="707.00" r="1.55" fill="#fff" stroke="#000" stroke-width="0.75"/>
<circle cx="237.80" cy="708.30" r="1.55" fill="#fff" stroke="#000" stroke-width="0.75"/>
<circle cx="259.20" cy="705.60" r="1.55" fill="#fff" stroke="#000" stroke-width="0.75"/>
<circle cx="259.20" cy="715.00" r="1.55" fill="#fff" stroke="#000" stroke-width="0.75"/>
<circle cx="253.70" cy="720.00" r="1.55" fill="#fff" stroke="#000" stroke-width="0.75"/>
<circle cx="259.20" cy="720.00" r="1.55" fill="#fff" stroke="#000" stroke-width="0.75"/>
<circle cx="264.50" cy="720.00" r="1.55" fill="#fff" stroke="#000" stroke-width="0.75"/>
<circle cx="259.20" cy="724.70" r="1.55" fill="#fff" stroke="#000" stroke-width="0.75"/>
<circle cx="295.10" cy="655.80" r="1.55" fill="#fff" stroke="#000" stroke-width="0.75"/>
<circle cx="295.10" cy="671.00" r="1.55" fill="#fff" stroke="#000" stroke-width="0.75"/>
<circle cx="295.10" cy="674.90" r="1.55" fill="#fff" stroke="#000" stroke-width="0.75"/>
<circle cx="295.10" cy="684.20" r="1.55" fill="#fff" stroke="#000" stroke-width="0.75"/>
<circle cx="295.10" cy="695.00" r="1.55" fill="#fff" stroke="#000" stroke-width="0.75"/>
<circle cx="295.10" cy="701.00" r="1.55" fill="#fff" stroke="#000" stroke-width="0.75"/>
<circle cx="311.00" cy="710.00" r="1.55" fill="#fff" stroke="#000" stroke-width="0.75"/>
<circle cx="322.00" cy="710.00" r="1.55" fill="#fff" stroke="#000" stroke-width="0.75"/>
<circle cx="316.50" cy="714.40" r="1.55" fill="#fff" stroke="#000" stroke-width="0.75"/>
<circle cx="311.00" cy="716.40" r="1.55" fill="#fff" stroke="#000" stroke-width="0.75"/>
<circle cx="322.00" cy="716.40" r="1.55" fill="#fff" stroke="#000" stroke-width="0.75"/>
<circle cx="311.00" cy="720.60" r="1.55" fill="#fff" stroke="#000" stroke-width="0.75"/>
<circle cx="322.00" cy="720.60" r="1.55" fill="#fff" stroke="#000" stroke-width="0.75"/>
<path d="M237.30 694.70H260.00" stroke="#000" stroke-width="0.9"/>
<text x="248.65" y="691.50" font-size="8.1" font-weight="normal" text-anchor="middle" fill="#000">ns</text>
<path d="M294.60 647.20H317.70" stroke="#000" stroke-width="0.9"/>
<text x="306.15" y="649.20" font-size="10.125" font-weight="normal" text-anchor="middle" fill="#000">**</text>
<text x="267.50" y="801.20" font-size="14.5" font-weight="bold" text-anchor="start" fill="#000">N</text>
<text x="293.72" y="874.70" font-size="9.2" font-weight="bold" text-anchor="middle" fill="#000" transform="rotate(-90 293.72 874.70)">Relative EAAT2 level/ &#946;-tubulin (%)</text>
<rect x="330.90" y="906.80" width="18.00" height="32.50" fill="#000"/>
<rect x="357.20" y="844.90" width="17.70" height="94.40" fill="#000"/>
<rect x="400.60" y="918.10" width="17.60" height="21.20" fill="#fe0000"/>
<rect x="426.90" y="875.00" width="17.70" height="64.30" fill="#fe0000"/>
<path d="M366.05 828.80V861.00M362.45 828.80H369.65M362.45 861.00H369.65" stroke="#000" stroke-width="0.9" fill="none"/>
<path d="M409.40 913.60V922.90M405.80 913.60H413.00M405.80 922.90H413.00" stroke="#000" stroke-width="0.9" fill="none"/>
<path d="M435.75 865.10V885.00M432.15 865.10H439.35M432.15 885.00H439.35" stroke="#000" stroke-width="0.9" fill="none"/>
<path d="M323.50 808.70V939.30H453.50" stroke="#000" stroke-width="1.1" fill="none"/>
<path d="M317.00 809.20H323.50" stroke="#000" stroke-width="1.1"/>
<text x="315.80" y="812.12" font-size="8.1" font-weight="bold" text-anchor="end" fill="#000">400</text>
<path d="M317.00 841.70H323.50" stroke="#000" stroke-width="1.1"/>
<text x="315.80" y="844.62" font-size="8.1" font-weight="bold" text-anchor="end" fill="#000">300</text>
<path d="M317.00 874.30H323.50" stroke="#000" stroke-width="1.1"/>
<text x="315.80" y="877.22" font-size="8.1" font-weight="bold" text-anchor="end" fill="#000">200</text>
<path d="M317.00 906.80H323.50" stroke="#000" stroke-width="1.1"/>
<text x="315.80" y="909.72" font-size="8.1" font-weight="bold" text-anchor="end" fill="#000">100</text>
<path d="M317.00 939.30H323.50" stroke="#000" stroke-width="1.1"/>
<text x="315.80" y="942.22" font-size="8.1" font-weight="bold" text-anchor="end" fill="#000">0</text>
<path d="M339.90 939.30v5" stroke="#000" stroke-width="1.1"/>
<text x="342.10" y="952.30" font-size="8.7" font-weight="bold" text-anchor="end" fill="#000" transform="rotate(-45 342.10 952.30)">Control</text>
<path d="M366.05 939.30v5" stroke="#000" stroke-width="1.1"/>
<text x="368.25" y="952.30" font-size="8.7" font-weight="bold" text-anchor="end" fill="#000" transform="rotate(-45 368.25 952.30)">LDN-212320</text>
<path d="M409.40 939.30v5" stroke="#000" stroke-width="1.1"/>
<text x="411.60" y="952.30" font-size="8.7" font-weight="bold" text-anchor="end" fill="#000" transform="rotate(-45 411.60 952.30)">Control</text>
<path d="M435.75 939.30v5" stroke="#000" stroke-width="1.1"/>
<text x="437.95" y="952.30" font-size="8.7" font-weight="bold" text-anchor="end" fill="#000" transform="rotate(-45 437.95 952.30)">LDN-212320</text>
<circle cx="333.40" cy="906.50" r="1.8" fill="#fff" stroke="#000" stroke-width="0.75"/>
<circle cx="339.90" cy="906.50" r="1.8" fill="#fff" stroke="#000" stroke-width="0.75"/>
<circle cx="346.30" cy="906.50" r="1.8" fill="#fff" stroke="#000" stroke-width="0.75"/>
<circle cx="365.90" cy="826.60" r="1.8" fill="#fff" stroke="#000" stroke-width="0.75"/>
<circle cx="365.90" cy="830.40" r="1.8" fill="#fff" stroke="#000" stroke-width="0.75"/>
<circle cx="365.90" cy="877.30" r="1.8" fill="#fff" stroke="#000" stroke-width="0.75"/>
<circle cx="409.20" cy="909.40" r="1.8" fill="#fff" stroke="#000" stroke-width="0.75"/>
<circle cx="402.80" cy="923.20" r="1.8" fill="#fff" stroke="#000" stroke-width="0.75"/>
<circle cx="416.00" cy="920.30" r="1.8" fill="#fff" stroke="#000" stroke-width="0.75"/>
<circle cx="435.90" cy="862.50" r="1.8" fill="#fff" stroke="#000" stroke-width="0.75"/>
<circle cx="435.90" cy="868.30" r="1.8" fill="#fff" stroke="#000" stroke-width="0.75"/>
<circle cx="435.90" cy="894.30" r="1.8" fill="#fff" stroke="#000" stroke-width="0.75"/>
<path d="M339.90 820.10H366.80" stroke="#000" stroke-width="0.9"/>
<text x="353.35" y="822.32" font-size="11.25" font-weight="normal" text-anchor="middle" fill="#000">*</text>
<path d="M409.20 855.50H435.90" stroke="#000" stroke-width="0.9"/>
<text x="422.55" y="857.72" font-size="11.25" font-weight="normal" text-anchor="middle" fill="#000">*</text>
<text x="471.50" y="801.20" font-size="14.5" font-weight="bold" text-anchor="start" fill="#000">O</text>
<rect x="534.00" y="795.10" width="13.50" height="4.90" fill="#000"/>
<rect x="534.00" y="815.30" width="13.50" height="4.90" fill="#fe0000"/>
<text x="554.00" y="800.50" font-size="8.2" font-weight="normal" text-anchor="start" fill="#000">YAP<tspan font-size="5.08" dy="-2.95">f/f</tspan></text>
<text x="554.00" y="820.70" font-size="8.2" font-weight="normal" text-anchor="start" fill="#000">YAP<tspan font-size="5.08" dy="-2.95">GFAP</tspan><tspan dy="2.95">-CKO</tspan></text>
<text x="496.32" y="875.50" font-size="9.5" font-weight="bold" text-anchor="middle" fill="#000" transform="rotate(-90 496.32 875.50)">Relative Bax/Bcl-2 level/ &#946;-tubulin (%)</text>
<rect x="534.00" y="875.00" width="17.70" height="65.20" fill="#000"/>
<rect x="560.40" y="885.30" width="17.60" height="54.90" fill="#000"/>
<rect x="603.70" y="838.40" width="18.00" height="101.80" fill="#fe0000"/>
<rect x="630.00" y="892.40" width="17.70" height="47.80" fill="#fe0000"/>
<path d="M612.70 832.30V844.20M609.10 832.30H616.30M609.10 844.20H616.30" stroke="#000" stroke-width="0.9" fill="none"/>
<path d="M638.85 887.60V897.00M635.25 887.60H642.45M635.25 897.00H642.45" stroke="#000" stroke-width="0.9" fill="none"/>
<path d="M526.00 809.00V940.20H657.70" stroke="#000" stroke-width="1.1" fill="none"/>
<path d="M519.50 809.50H526.00" stroke="#000" stroke-width="1.1"/>
<text x="518.30" y="812.42" font-size="8.1" font-weight="bold" text-anchor="end" fill="#000">200</text>
<path d="M519.50 842.20H526.00" stroke="#000" stroke-width="1.1"/>
<text x="518.30" y="845.12" font-size="8.1" font-weight="bold" text-anchor="end" fill="#000">150</text>
<path d="M519.50 874.90H526.00" stroke="#000" stroke-width="1.1"/>
<text x="518.30" y="877.82" font-size="8.1" font-weight="bold" text-anchor="end" fill="#000">100</text>
<path d="M519.50 907.50H526.00" stroke="#000" stroke-width="1.1"/>
<text x="518.30" y="910.42" font-size="8.1" font-weight="bold" text-anchor="end" fill="#000">50</text>
<path d="M519.50 940.20H526.00" stroke="#000" stroke-width="1.1"/>
<text x="518.30" y="943.12" font-size="8.1" font-weight="bold" text-anchor="end" fill="#000">0</text>
<path d="M542.85 940.20v5" stroke="#000" stroke-width="1.1"/>
<text x="545.05" y="953.20" font-size="8.7" font-weight="bold" text-anchor="end" fill="#000" transform="rotate(-45 545.05 953.20)">Control</text>
<path d="M569.20 940.20v5" stroke="#000" stroke-width="1.1"/>
<text x="571.40" y="953.20" font-size="8.7" font-weight="bold" text-anchor="end" fill="#000" transform="rotate(-45 571.40 953.20)">LDN-212320</text>
<path d="M612.70 940.20v5" stroke="#000" stroke-width="1.1"/>
<text x="614.90" y="953.20" font-size="8.7" font-weight="bold" text-anchor="end" fill="#000" transform="rotate(-45 614.90 953.20)">Control</text>
<path d="M638.85 940.20v5" stroke="#000" stroke-width="1.1"/>
<text x="641.05" y="953.20" font-size="8.7" font-weight="bold" text-anchor="end" fill="#000" transform="rotate(-45 641.05 953.20)">LDN-212320</text>
<circle cx="536.30" cy="874.70" r="1.8" fill="#fff" stroke="#000" stroke-width="0.75"/>
<circle cx="543.00" cy="874.70" r="1.8" fill="#fff" stroke="#000" stroke-width="0.75"/>
<circle cx="549.80" cy="874.70" r="1.8" fill="#fff" stroke="#000" stroke-width="0.75"/>
<circle cx="563.00" cy="884.40" r="1.8" fill="#fff" stroke="#000" stroke-width="0.75"/>
<circle cx="569.40" cy="884.40" r="1.8" fill="#fff" stroke="#000" stroke-width="0.75"/>
<circle cx="576.10" cy="884.40" r="1.8" fill="#fff" stroke="#000" stroke-width="0.75"/>
<circle cx="612.70" cy="829.80" r="1.8" fill="#fff" stroke="#000" stroke-width="0.75"/>
<circle cx="612.70" cy="833.00" r="1.8" fill="#fff" stroke="#000" stroke-width="0.75"/>
<circle cx="612.70" cy="849.70" r="1.8" fill="#fff" stroke="#000" stroke-width="0.75"/>
<circle cx="638.70" cy="883.70" r="1.8" fill="#fff" stroke="#000" stroke-width="0.75"/>
<circle cx="638.70" cy="895.60" r="1.8" fill="#fff" stroke="#000" stroke-width="0.75"/>
<circle cx="638.70" cy="898.80" r="1.8" fill="#fff" stroke="#000" stroke-width="0.75"/>
<path d="M543.00 866.70H569.70" stroke="#000" stroke-width="0.9"/>
<text x="556.35" y="863.50" font-size="9" font-weight="normal" text-anchor="middle" fill="#000">ns</text>
<path d="M612.70 822.40H640.00" stroke="#000" stroke-width="0.9"/>
<text x="626.35" y="824.62" font-size="11.25" font-weight="normal" text-anchor="middle" fill="#000">**</text>
<text x="0.50" y="220.90" font-size="14.5" font-weight="bold" text-anchor="start" fill="#000">E</text>
<rect x="20.60" y="221.60" width="75.20" height="13.80" fill="#fff" stroke="#382e2a" stroke-width="1.4"/>
<rect x="97.40" y="221.60" width="75.40" height="13.80" fill="#fff" stroke="#382e2a" stroke-width="1.4"/>
<text x="58.20" y="230.80" font-size="6.0" font-weight="bold" text-anchor="middle" fill="#222">YAP<tspan font-size="3.6" dy="-2.0">f/f</tspan></text>
<text x="135.10" y="230.80" font-size="6.0" font-weight="bold" text-anchor="middle" fill="#222">YAP<tspan font-size="3.6" dy="-2.0">GFAP</tspan><tspan dy="2.0">-CKO</tspan></text>
<rect x="4.50" y="238.30" width="13.90" height="74.20" fill="#fff" stroke="#382e2a" stroke-width="1.4"/>
<rect x="4.50" y="315.30" width="13.90" height="74.00" fill="#fff" stroke="#382e2a" stroke-width="1.4"/>
<text x="13.60" y="278.30" font-size="6.1" font-weight="bold" text-anchor="middle" fill="#222" transform="rotate(-90 13.60 278.30)">Control</text>
<text x="13.60" y="356.20" font-size="6.1" font-weight="bold" text-anchor="middle" fill="#222" transform="rotate(-90 13.60 356.20)">LDN-212320</text>
<svg x="20.4" y="237.8" width="75.6" height="75.0" viewBox="0 0 75.6 75.0" overflow="hidden">
<g filter="url(#jetmap)"><rect width="76" height="75" fill="#1f1f1f"/><ellipse cx="39" cy="38" rx="32" ry="42" fill="#383838" filter="url(#b3)"/><ellipse cx="27" cy="21" rx="13" ry="13" fill="#787878" filter="url(#b3)"/><path d="M5 26 Q2 46 6 68" stroke="#616161" stroke-width="4.5" fill="none" filter="url(#b2)"/><ellipse cx="38" cy="70" rx="30" ry="6" fill="#6b6b6b" filter="url(#b2)"/><ellipse cx="39" cy="6" rx="15" ry="6" fill="#6b6b6b" filter="url(#b2)"/><path d="M76 12 L69 30 L71 60 L76 75Z M0 0 L10 0 L0 16Z" fill="#121212" filter="url(#b2)"/><path d="M44 28 Q55 32 68 30" stroke="#6b6b6b" stroke-width="1.3" fill="none" stroke-linecap="round" stroke-linejoin="round" filter="url(#b05)"/><path d="M42 36 Q54 40 64 38" stroke="#6b6b6b" stroke-width="1.3" fill="none" stroke-linecap="round" stroke-linejoin="round" filter="url(#b05)"/><path d="M48 22 Q58 30 62 42" stroke="#6b6b6b" stroke-width="1.3" fill="none" stroke-linecap="round" stroke-linejoin="round" filter="url(#b05)"/><path d="M51 50 Q60 44 68 32" stroke="#6b6b6b" stroke-width="1.3" fill="none" stroke-linecap="round" stroke-linejoin="round" filter="url(#b05)"/><path d="M40 32 Q46 36 50 36" stroke="#6b6b6b" stroke-width="1.3" fill="none" stroke-linecap="round" stroke-linejoin="round" filter="url(#b05)"/><path d="M46 52 Q56 58 62 54" stroke="#6b6b6b" stroke-width="1.3" fill="none" stroke-linecap="round" stroke-linejoin="round" filter="url(#b05)"/><path d="M44 60 Q52 62 58 58" stroke="#6b6b6b" stroke-width="1.3" fill="none" stroke-linecap="round" stroke-linejoin="round" filter="url(#b05)"/><path d="M10 34 Q14 30 22 32" stroke="#6b6b6b" stroke-width="1.3" fill="none" stroke-linecap="round" stroke-linejoin="round" filter="url(#b05)"/><path d="M32 34 Q30 38 26 36" stroke="#6b6b6b" stroke-width="1.3" fill="none" stroke-linecap="round" stroke-linejoin="round" filter="url(#b05)"/><path d="M14 16 Q22 10 30 12" stroke="#999999" stroke-width="1.3" fill="none" stroke-linecap="round" stroke-linejoin="round" filter="url(#b05)"/><path d="M16 28 Q24 30 34 26" stroke="#999999" stroke-width="1.3" fill="none" stroke-linecap="round" stroke-linejoin="round" filter="url(#b05)"/><path d="M22 12 Q24 20 20 28" stroke="#999999" stroke-width="1.3" fill="none" stroke-linecap="round" stroke-linejoin="round" filter="url(#b05)"/><path d="M30 14 Q30 22 34 30" stroke="#999999" stroke-width="1.3" fill="none" stroke-linecap="round" stroke-linejoin="round" filter="url(#b05)"/><ellipse cx="22.3" cy="49.3" rx="16.2" ry="16.6" fill="#000000" filter="url(#b1)"/><path d="M14 72 Q26 69.5 38 71.5 T60 71.5" stroke="#999999" stroke-width="5.0" fill="none" stroke-linecap="round" stroke-linejoin="round" filter="url(#b1)"/><path d="M25 73 L27 74.5 M46 71 L57 72.5" stroke="#ebebeb" stroke-width="1.8" fill="none" stroke-linecap="round" stroke-linejoin="round" filter="url(#b05)"/><path d="M38 40 V64" stroke="#808080" stroke-width="2.8" fill="none" stroke-linecap="round" stroke-linejoin="round" filter="url(#b08)"/><path d="M38 40 V64" stroke="#a8a8a8" stroke-width="1.2" fill="none" stroke-linecap="round" stroke-linejoin="round" filter="url(#b03)"/><path d="M27 2.8 Q33 1.6 41 3 M37.8 3 Q38.6 12 37 20" stroke="#a8a8a8" stroke-width="4.0" fill="none" stroke-linecap="round" stroke-linejoin="round" filter="url(#b08)"/><path d="M37 20 Q36.5 30 38 40 Q40 44 50.5 49.5" stroke="#999999" stroke-width="2.6" fill="none" stroke-linecap="round" stroke-linejoin="round" filter="url(#b08)"/><path d="M37 9 Q30 11 20 12.5" stroke="#949494" stroke-width="2.2" fill="none" stroke-linecap="round" stroke-linejoin="round" filter="url(#b05)"/><path d="M37 17 Q33 24 25 25 L16 24" stroke="#9e9e9e" stroke-width="2.6" fill="none" stroke-linecap="round" stroke-linejoin="round" filter="url(#b05)"/><path d="M39.5 12 Q48 15 55 21 L63 31" stroke="#8c8c8c" stroke-width="2.0" fill="none" stroke-linecap="round" stroke-linejoin="round" filter="url(#b05)"/><path d="M38 63 Q40 68 46 70 L56 72" stroke="#adadad" stroke-width="4.8" fill="none" stroke-linecap="round" stroke-linejoin="round" filter="url(#b1)"/><path d="M27.5 2.6 Q33 1.8 40.5 2.8 M37.8 3 Q38.6 12 37 20" stroke="#ffffff" stroke-width="1.9" fill="none" stroke-linecap="round" stroke-linejoin="round" filter="url(#b03)"/><path d="M37 20 Q36.5 30 38 40 Q40 44 50.5 49.5" stroke="#e0e0e0" stroke-width="1.0" fill="none" stroke-linecap="round" stroke-linejoin="round" filter="url(#b03)"/><path d="M37 9 Q30 11 20 12.5" stroke="#d6d6d6" stroke-width="0.8" fill="none" stroke-linecap="round" stroke-linejoin="round" filter="url(#b03)"/><path d="M37 17 Q33 24 25 25 L17 24" stroke="#f5f5f5" stroke-width="1.1" fill="none" stroke-linecap="round" stroke-linejoin="round" filter="url(#b03)"/><path d="M39.5 12 Q48 15 55 21 L62 30" stroke="#cccccc" stroke-width="0.8" fill="none" stroke-linecap="round" stroke-linejoin="round" filter="url(#b03)"/><path d="M38 63 Q40 68 46 70 L55 71.8" stroke="#ffffff" stroke-width="2.4" fill="none" stroke-linecap="round" stroke-linejoin="round" filter="url(#b05)"/></g>
<path d="M0 0.5H7.5L6 4L3 8.5L0 9Z M63 0.5H76V10.5L72 9L67.5 3.5Z" fill="#8c8c8c"/>
</svg>
<svg x="97.2" y="237.8" width="75.6" height="75.0" viewBox="0 0 75.6 75.0" overflow="hidden">
<g filter="url(#jetmap)"><rect width="76" height="75" fill="#0d0d0d"/><ellipse cx="37" cy="39" rx="37" ry="41" fill="#4c4c4c" filter="url(#b2)"/><ellipse cx="37" cy="40" rx="30" ry="33" fill="none" stroke="#737373" stroke-width="9" filter="url(#b2)"/><ellipse cx="50" cy="44" rx="9.5" ry="15" fill="#262626" filter="url(#b2)"/><path d="M58 0H76V26Q70 10 58 0Z M66 75H76V58Q73 68 66 75Z M0 62V75H11Q4 70 0 62Z M0 1H15Q4 6 0 15Z" fill="#080808" filter="url(#b1)"/><path d="M3 48 Q8 62 22 70" stroke="#949494" stroke-width="1.7" fill="none" stroke-linecap="round" stroke-linejoin="round" filter="url(#b05)"/><path d="M60 20 Q70 34 66 52" stroke="#949494" stroke-width="1.7" fill="none" stroke-linecap="round" stroke-linejoin="round" filter="url(#b05)"/><path d="M14 20 Q24 11 34 13" stroke="#949494" stroke-width="1.7" fill="none" stroke-linecap="round" stroke-linejoin="round" filter="url(#b05)"/><path d="M46 62 Q56 60 63 50" stroke="#949494" stroke-width="1.7" fill="none" stroke-linecap="round" stroke-linejoin="round" filter="url(#b05)"/><path d="M44 30 Q52 28 58 34" stroke="#949494" stroke-width="1.7" fill="none" stroke-linecap="round" stroke-linejoin="round" filter="url(#b05)"/><path d="M20 68 Q30 66 36 58" stroke="#949494" stroke-width="1.7" fill="none" stroke-linecap="round" stroke-linejoin="round" filter="url(#b05)"/><path d="M4 30 Q6 40 5 48" stroke="#949494" stroke-width="1.7" fill="none" stroke-linecap="round" stroke-linejoin="round" filter="url(#b05)"/><path d="M48 66 Q56 64 60 58" stroke="#949494" stroke-width="1.7" fill="none" stroke-linecap="round" stroke-linejoin="round" filter="url(#b05)"/><path d="M0 65 L5 71" stroke="#9e9e9e" stroke-width="1.0" fill="none" stroke-linecap="round" stroke-linejoin="round" filter="url(#b05)"/><path d="M42 28 Q48 36 46 44" stroke="#575757" stroke-width="1.2" fill="none" stroke-linecap="round" stroke-linejoin="round" filter="url(#b05)"/><path d="M44 50 Q50 54 54 50" stroke="#575757" stroke-width="1.2" fill="none" stroke-linecap="round" stroke-linejoin="round" filter="url(#b05)"/><path d="M9.3 36.3 L12.1 30.7 L20 27.3 L23.4 25 L36.9 21.7 L39.7 23.4 L40.2 37.4 L41.4 53.1 L36.9 56.5 L29 58.8 L25.6 62.1 L17.8 53.1 L12.1 46.4Z" fill="#000000" stroke="#000000" stroke-width="2.4" stroke-linejoin="round" filter="url(#b08)"/><ellipse cx="47" cy="32" rx="2.6" ry="2.4" fill="#080808" filter="url(#b08)"/><path d="M30 2.5 H51" stroke="#b2b2b2" stroke-width="6.0" fill="none" stroke-linecap="round" stroke-linejoin="round" filter="url(#b1)"/><path d="M40.4 4 L40.8 19.5 M42 19.5 L53.5 16 M44 20.5 L59 25" stroke="#a8a8a8" stroke-width="3.0" fill="none" stroke-linecap="round" stroke-linejoin="round" filter="url(#b08)"/><path d="M38 20.5 L26 24" stroke="#9e9e9e" stroke-width="1.8" fill="none" stroke-linecap="round" stroke-linejoin="round" filter="url(#b05)"/><path d="M42 33 L43.5 37 L51.5 39.5 M64 42 L67 37.5" stroke="#a3a3a3" stroke-width="2.2" fill="none" stroke-linecap="round" stroke-linejoin="round" filter="url(#b05)"/><path d="M25 73.5 L36 70 L40.5 66 L45 70 L58 63" stroke="#a8a8a8" stroke-width="4.2" fill="none" stroke-linecap="round" stroke-linejoin="round" filter="url(#b1)"/><path d="M34 2.2 H48" stroke="#ffffff" stroke-width="2.6" fill="none" stroke-linecap="round" stroke-linejoin="round" filter="url(#b05)"/><path d="M40.4 3 L40.8 19.5" stroke="#ffffff" stroke-width="2.2" fill="none" stroke-linecap="round" stroke-linejoin="round" filter="url(#b03)"/><path d="M42 19.5 L53.5 16" stroke="#f2f2f2" stroke-width="1.0" fill="none" stroke-linecap="round" stroke-linejoin="round" filter="url(#b03)"/><path d="M44 20.5 L59 25" stroke="#d1d1d1" stroke-width="1.0" fill="none" stroke-linecap="round" stroke-linejoin="round" filter="url(#b03)"/><path d="M42 33 L43.5 37 L51.5 39.5" stroke="#ebebeb" stroke-width="1.1" fill="none" stroke-linecap="round" stroke-linejoin="round" filter="url(#b03)"/><path d="M36 70 L40.5 66.5 L45 70" stroke="#f2f2f2" stroke-width="2.0" fill="none" stroke-linecap="round" stroke-linejoin="round" filter="url(#b05)"/></g>
<path d="M0 0.5H4L0 4.5Z" fill="#8c8c8c"/>
</svg>
<svg x="20.4" y="314.8" width="75.6" height="75.0" viewBox="0 0 75.6 75.0" overflow="hidden">
<g filter="url(#jetmap)"><rect width="76" height="75" fill="#080808"/><path d="M1 40 Q3 26 9 16 M71 14 Q75 24 75.5 36" stroke="#1f1f1f" stroke-width="2" fill="none" filter="url(#b1)"/><path d="M22.5 -2 H54 L63 11 L70 28 L73 43 L72 58 L67.4 70 L63 78 H14.6 L10 70 L4.5 56 L3.4 39 L6.7 28 L14.6 11Z" fill="#333333" filter="url(#b1)"/><path d="M28 0 H50 L58 14 L65 32 L67 50 L62 68 H18 L10 54 L10 38 L18 18Z" fill="#4a4a4a" filter="url(#b2)"/><ellipse cx="40" cy="14" rx="13" ry="13" fill="#666666" filter="url(#b2)"/><ellipse cx="42" cy="66" rx="22" ry="6" fill="#5e5e5e" filter="url(#b2)"/><path d="M44 26 Q54 30 64 38" stroke="#787878" stroke-width="1.4" fill="none" stroke-linecap="round" stroke-linejoin="round" filter="url(#b05)"/><path d="M42 52 Q54 56 68 50" stroke="#787878" stroke-width="1.4" fill="none" stroke-linecap="round" stroke-linejoin="round" filter="url(#b05)"/><path d="M48 30 Q56 40 54 54" stroke="#787878" stroke-width="1.4" fill="none" stroke-linecap="round" stroke-linejoin="round" filter="url(#b05)"/><path d="M14 24 Q24 30 34 27" stroke="#787878" stroke-width="1.4" fill="none" stroke-linecap="round" stroke-linejoin="round" filter="url(#b05)"/><path d="M28 6 Q32 16 36 20" stroke="#787878" stroke-width="1.4" fill="none" stroke-linecap="round" stroke-linejoin="round" filter="url(#b05)"/><path d="M14 66 Q26 60 38 64" stroke="#787878" stroke-width="1.4" fill="none" stroke-linecap="round" stroke-linejoin="round" filter="url(#b05)"/><path d="M44 66 Q54 64 62 58" stroke="#787878" stroke-width="1.4" fill="none" stroke-linecap="round" stroke-linejoin="round" filter="url(#b05)"/><path d="M7 42 Q6 54 10 64" stroke="#787878" stroke-width="1.4" fill="none" stroke-linecap="round" stroke-linejoin="round" filter="url(#b05)"/><path d="M46 10 Q56 18 62 30" stroke="#787878" stroke-width="1.4" fill="none" stroke-linecap="round" stroke-linejoin="round" filter="url(#b05)"/><path d="M24 28 Q14 32 10 40" stroke="#787878" stroke-width="1.4" fill="none" stroke-linecap="round" stroke-linejoin="round" filter="url(#b05)"/><path d="M50 60 Q58 66 66 64" stroke="#787878" stroke-width="1.4" fill="none" stroke-linecap="round" stroke-linejoin="round" filter="url(#b05)"/><path d="M56 22 Q62 34 70 44" stroke="#787878" stroke-width="1.4" fill="none" stroke-linecap="round" stroke-linejoin="round" filter="url(#b05)"/><path d="M24 6 Q36 3 50 6" stroke="#787878" stroke-width="1.4" fill="none" stroke-linecap="round" stroke-linejoin="round" filter="url(#b05)"/><path d="M60 44 Q66 50 64 60" stroke="#787878" stroke-width="1.4" fill="none" stroke-linecap="round" stroke-linejoin="round" filter="url(#b05)"/><ellipse cx="23.3" cy="48.6" rx="15" ry="15" fill="#060606" filter="url(#b1)"/><path d="M9 40 Q12 34 20 33" stroke="#1f1f1f" stroke-width="3" fill="none" filter="url(#b1)"/><path d="M17 37 L27 30 M24 50 L33 40" stroke="#424242" stroke-width="0.9" fill="none" stroke-linecap="round" stroke-linejoin="round" filter="url(#b05)"/><path d="M38.8 6 V72" stroke="#858585" stroke-width="2.6" fill="none" stroke-linecap="round" stroke-linejoin="round" filter="url(#b08)"/><path d="M49 5 L40 6 L38.8 8 V19 L47 22.5 L55 23.6" stroke="#b2b2b2" stroke-width="3.0" fill="none" stroke-linecap="round" stroke-linejoin="round" filter="url(#b08)"/><path d="M49.5 5 L40 5.6 L38.8 8 V19 L47 22.5" stroke="#ffffff" stroke-width="1.6" fill="none" stroke-linecap="round" stroke-linejoin="round" filter="url(#b03)"/><path d="M47 22.5 L55 23.6" stroke="#d9d9d9" stroke-width="1.0" fill="none" stroke-linecap="round" stroke-linejoin="round" filter="url(#b03)"/><path d="M38.8 22.5 L28 29" stroke="#cccccc" stroke-width="1.8" fill="none" stroke-linecap="round" stroke-linejoin="round" filter="url(#b05)"/><path d="M39.3 29 L41.6 37 L48.3 41.6" stroke="#b2b2b2" stroke-width="1.5" fill="none" stroke-linecap="round" stroke-linejoin="round" filter="url(#b05)"/><path d="M41.6 46 Q45 43.5 49.4 47 L55 49.4" stroke="#dbdbdb" stroke-width="1.5" fill="none" stroke-linecap="round" stroke-linejoin="round" filter="url(#b05)"/><path d="M41.5 58 L44 67" stroke="#bdbdbd" stroke-width="3.6" fill="none" stroke-linecap="round" stroke-linejoin="round" filter="url(#b08)"/><path d="M42 59.5 L43.6 65.5" stroke="#f5f5f5" stroke-width="1.4" fill="none" stroke-linecap="round" stroke-linejoin="round" filter="url(#b05)"/></g>
<path d="M0 0H10.5L5 10L0 22Z M67 0H76V12.5Z" fill="#8c8c8c" opacity="0.8"/>
</svg>
<svg x="97.2" y="314.8" width="75.6" height="75.0" viewBox="0 0 75.6 75.0" overflow="hidden">
<g filter="url(#jetmap)"><rect width="76" height="75" fill="#060606"/><path d="M22 6 Q10 14 1 28" stroke="#292929" stroke-width="3.5" fill="none" filter="url(#b1)"/><path d="M4 56 Q10 70 24 73" stroke="#242424" stroke-width="2.5" fill="none" filter="url(#b1)"/><path d="M62 8 Q70 20 74 34" stroke="#1a1a1a" stroke-width="1.5" fill="none" filter="url(#b1)"/><path d="M28 0 H53 L60.7 17 L68.5 31.5 L73 45 L70.8 58.4 L63 72 L50 76 H28 L22.5 67.4 L28 60.7 L34.8 49.4 L33.7 39 L27 31.5 L20 22.5 L22.5 11Z" fill="#383838" filter="url(#b1)"/><path d="M32 2 H48 L54 18 L56 40 L52 62 L44 72 H34 L36 50 L34 34 L26 22Z" fill="#666666" filter="url(#b2)"/><path d="M44 18 Q54 24 64 36" stroke="#757575" stroke-width="1.4" fill="none" stroke-linecap="round" stroke-linejoin="round" filter="url(#b05)"/><path d="M44 34 Q56 36 68 46" stroke="#757575" stroke-width="1.4" fill="none" stroke-linecap="round" stroke-linejoin="round" filter="url(#b05)"/><path d="M44 48 Q54 52 64 62" stroke="#757575" stroke-width="1.4" fill="none" stroke-linecap="round" stroke-linejoin="round" filter="url(#b05)"/><path d="M28 14 Q32 22 38 26" stroke="#757575" stroke-width="1.4" fill="none" stroke-linecap="round" stroke-linejoin="round" filter="url(#b05)"/><path d="M28 66 Q34 60 40 62" stroke="#757575" stroke-width="1.4" fill="none" stroke-linecap="round" stroke-linejoin="round" filter="url(#b05)"/><path d="M30 5 Q34 3 38 5" stroke="#757575" stroke-width="1.4" fill="none" stroke-linecap="round" stroke-linejoin="round" filter="url(#b05)"/><path d="M46 8 Q54 12 60 22" stroke="#757575" stroke-width="1.4" fill="none" stroke-linecap="round" stroke-linejoin="round" filter="url(#b05)"/><path d="M34 40 Q30 34 26 30" stroke="#757575" stroke-width="1.4" fill="none" stroke-linecap="round" stroke-linejoin="round" filter="url(#b05)"/><path d="M44 62 Q50 68 60 68" stroke="#757575" stroke-width="1.4" fill="none" stroke-linecap="round" stroke-linejoin="round" filter="url(#b05)"/><path d="M52 30 Q60 40 58 54" stroke="#757575" stroke-width="1.4" fill="none" stroke-linecap="round" stroke-linejoin="round" filter="url(#b05)"/><path d="M60 30 Q66 40 68 52" stroke="#757575" stroke-width="1.4" fill="none" stroke-linecap="round" stroke-linejoin="round" filter="url(#b05)"/><ellipse cx="18" cy="46" rx="16.5" ry="17.5" fill="#000000" filter="url(#b1)"/><path d="M39.6 6 V72" stroke="#949494" stroke-width="3.2" fill="none" stroke-linecap="round" stroke-linejoin="round" filter="url(#b1)"/><path d="M39.6 58 V70" stroke="#b2b2b2" stroke-width="1.4" fill="none" stroke-linecap="round" stroke-linejoin="round" filter="url(#b05)"/><path d="M27.5 10.6 L51.5 10" stroke="#adadad" stroke-width="4.6" fill="none" stroke-linecap="round" stroke-linejoin="round" filter="url(#b1)"/><path d="M39.6 11 V58 M39.6 24 L49.5 30 M39.6 41 L52.5 43.2 M41 54 L53 55.6" stroke="#adadad" stroke-width="2.8" fill="none" stroke-linecap="round" stroke-linejoin="round" filter="url(#b08)"/><path d="M28.5 10.6 L50.5 10 M39.6 11 V57" stroke="#ffffff" stroke-width="1.7" fill="none" stroke-linecap="round" stroke-linejoin="round" filter="url(#b03)"/><path d="M39.6 24 L49 29.8" stroke="#ffffff" stroke-width="1.6" fill="none" stroke-linecap="round" stroke-linejoin="round" filter="url(#b03)"/><path d="M39.6 41 L49 42.6 M41 54 L48 55" stroke="#f2f2f2" stroke-width="1.1" fill="none" stroke-linecap="round" stroke-linejoin="round" filter="url(#b03)"/><path d="M49 42.6 L53 43.4 M48 55 L53 55.7" stroke="#c7c7c7" stroke-width="1.0" fill="none" stroke-linecap="round" stroke-linejoin="round" filter="url(#b03)"/></g>
<path d="M69.5 0H76V12L73 5Z M0 0H5L3 6L0 10Z" fill="#8c8c8c" opacity="0.8"/>
</svg>
<rect x="39.2" y="394.6" width="113.2" height="6.8" fill="url(#jet)" stroke="#444" stroke-width="0.6"/>
<text x="24.80" y="400.30" font-size="6.0" font-weight="bold" text-anchor="start" fill="#222">Low</text>
<text x="155.20" y="400.30" font-size="6.0" font-weight="bold" text-anchor="start" fill="#222">High</text>
<text x="351.50" y="229.50" font-size="14.5" font-weight="bold" text-anchor="start" fill="#000">G</text>
<text x="415.00" y="228.60" font-size="7.1" font-weight="bold" text-anchor="middle" fill="#222">YAP<tspan font-size="4.2" dy="-2.3">f/f</tspan></text>
<text x="488.00" y="228.60" font-size="7.1" font-weight="bold" text-anchor="middle" fill="#222">YAP<tspan font-size="4.2" dy="-2.3">GFAP</tspan><tspan dy="2.3">-CKO</tspan></text>
<path d="M392 231.6H437.5M465.3 231.6H511" stroke="#777" stroke-width="0.9"/>
<text x="386.50" y="263.50" font-size="7.1" font-weight="bold" text-anchor="start" fill="#111" transform="rotate(-45 386.50 263.50)">Control</text>
<text x="415.50" y="264.00" font-size="7.1" font-weight="bold" text-anchor="start" fill="#111" transform="rotate(-45 415.50 264.00)">LDN-212320</text>
<text x="458.50" y="263.50" font-size="7.1" font-weight="bold" text-anchor="start" fill="#111" transform="rotate(-45 458.50 263.50)">Control</text>
<text x="489.00" y="264.00" font-size="7.1" font-weight="bold" text-anchor="start" fill="#111" transform="rotate(-45 489.00 264.00)">LDN-212320</text>
<rect x="376.4" y="266.6" width="31.40" height="136.2" fill="#262626"/>
<rect x="376.4" y="266.6" width="31.40" height="136.2" fill="#000" filter="url(#speck)" opacity="0.55"/>
<g filter="url(#slicef)">
<path d="M392.40 271.06 C393.38 270.13 397.45 269.90 399.41 272.44 C401.04 274.56 400.96 278.19 399.08 280.37 C397.45 281.98 394.44 281.63 392.40 281.46 C390.36 281.63 387.35 281.98 385.72 280.37 C383.84 278.19 383.76 274.56 385.39 272.44 C387.35 269.90 391.42 270.13 392.40 271.06Z" fill="#f6e2e2"/>
<path d="M392.40 271.93 C393.27 271.15 396.90 270.96 398.64 273.09 C400.09 274.89 400.01 277.94 398.35 279.79 C396.90 281.14 394.21 280.85 392.40 280.71 C390.59 280.85 387.91 281.14 386.46 279.79 C384.79 277.94 384.72 274.89 386.17 273.09 C387.91 270.96 391.53 271.15 392.40 271.93Z" fill="#e22a52"/>
<ellipse cx="392.40" cy="276.30" rx="4.48" ry="2.42" fill="#f2647e" opacity="0.4"/>
<path d="M392.40 271.69V277.15" stroke="#c41c44" stroke-width="0.6" opacity="0.55"/>
<path d="M392.40 290.55 C393.56 289.35 398.38 289.05 400.70 292.35 C402.63 295.12 402.53 299.85 400.31 302.70 C398.38 304.80 394.81 304.35 392.40 304.12 C389.99 304.35 386.42 304.80 384.49 302.70 C382.27 299.85 382.17 295.12 384.10 292.35 C386.42 289.05 391.24 289.35 392.40 290.55Z" fill="#f6e2e2"/>
<path d="M392.40 291.42 C393.45 290.37 397.83 290.10 399.93 293.01 C401.68 295.45 401.59 299.61 399.58 302.12 C397.83 303.96 394.59 303.57 392.40 303.37 C390.21 303.57 386.98 303.96 385.23 302.12 C383.21 299.61 383.13 295.45 384.88 293.01 C386.98 290.10 391.35 290.37 392.40 291.42Z" fill="#e22a52"/>
<ellipse cx="392.40" cy="297.30" rx="5.31" ry="3.15" fill="#f2647e" opacity="0.4"/>
<path d="M392.40 291.38V298.50" stroke="#c41c44" stroke-width="0.6" opacity="0.55"/>
<path d="M392.40 313.55 C393.64 312.35 398.79 312.05 401.26 315.35 C403.32 318.12 403.22 322.85 400.85 325.70 C398.79 327.80 394.98 327.35 392.40 327.12 C389.83 327.35 386.01 327.80 383.95 325.70 C381.59 322.85 381.48 318.12 383.54 315.35 C386.01 312.05 391.16 312.35 392.40 313.55Z" fill="#f6e2e2"/>
<path d="M392.40 314.42 C393.53 313.37 398.23 313.10 400.48 316.01 C402.36 318.45 402.27 322.61 400.11 325.12 C398.23 326.96 394.75 326.57 392.40 326.37 C390.05 326.57 386.57 326.96 384.69 325.12 C382.53 322.61 382.44 318.45 384.32 316.01 C386.57 313.10 391.27 313.37 392.40 314.42Z" fill="#e22a52"/>
<ellipse cx="392.40" cy="320.30" rx="5.67" ry="3.15" fill="#f2647e" opacity="0.4"/>
<path d="M392.40 314.38V321.50" stroke="#c41c44" stroke-width="0.6" opacity="0.55"/>
<path d="M392.40 337.43 C393.76 336.02 399.41 335.67 402.12 339.54 C404.38 342.80 404.27 348.34 401.67 351.69 C399.41 354.15 395.23 353.62 392.40 353.36 C389.58 353.62 385.39 354.15 383.13 351.69 C380.54 348.34 380.42 342.80 382.68 339.54 C385.39 335.67 391.04 336.02 392.40 337.43Z" fill="#f6e2e2"/>
<path d="M392.40 338.31 C393.65 337.04 398.85 336.73 401.34 340.20 C403.42 343.12 403.32 348.10 400.93 351.10 C398.85 353.32 395.00 352.84 392.40 352.61 C389.80 352.84 385.95 353.32 383.87 351.10 C381.48 348.10 381.38 343.12 383.46 340.20 C385.95 336.73 391.15 337.04 392.40 338.31Z" fill="#e22a52"/>
<ellipse cx="392.40" cy="345.30" rx="6.22" ry="3.70" fill="#f2647e" opacity="0.4"/>
<path d="M392.40 338.40V346.76" stroke="#c41c44" stroke-width="0.6" opacity="0.55"/>
<path d="M381.90 344.50 Q382.30 337.40 389.90 336.80 Q389.40 342.36 381.90 344.50Z" fill="#f4e4de"/>
<path d="M392.40 360.99 C393.83 359.69 399.81 359.36 402.68 362.95 C405.07 365.96 404.95 371.10 402.20 374.19 C399.81 376.48 395.39 375.99 392.40 375.74 C389.41 375.99 384.99 376.48 382.60 374.19 C379.85 371.10 379.73 365.96 382.12 362.95 C384.99 359.36 390.97 359.69 392.40 360.99Z" fill="#f6e2e2"/>
<path d="M392.40 361.87 C393.73 360.71 399.25 360.42 401.90 363.61 C404.11 366.29 404.00 370.86 401.46 373.61 C399.25 375.64 395.16 375.21 392.40 374.99 C389.64 375.21 385.55 375.64 383.34 373.61 C380.80 370.86 380.69 366.29 382.90 363.61 C385.55 360.42 391.07 360.71 392.40 361.87Z" fill="#e22a52"/>
<ellipse cx="392.40" cy="368.30" rx="6.57" ry="3.42" fill="#f2647e" opacity="0.4"/>
<path d="M392.40 361.89V369.63" stroke="#c41c44" stroke-width="0.6" opacity="0.55"/>
<path d="M381.25 367.50 Q381.65 361.05 389.90 360.45 Q389.40 365.56 381.25 367.50Z" fill="#f4e4de"/>
<path d="M392.40 385.07 C393.82 383.96 399.72 383.69 402.55 386.72 C404.91 389.27 404.79 393.62 402.08 396.24 C399.72 398.18 395.35 397.76 392.40 397.56 C389.45 397.76 385.08 398.18 382.72 396.24 C380.01 393.62 379.89 389.27 382.25 386.72 C385.08 383.69 390.98 383.96 392.40 385.07Z" fill="#f6e2e2"/>
<path d="M392.40 385.94 C393.71 384.98 399.16 384.74 401.77 387.38 C403.95 389.60 403.85 393.38 401.34 395.66 C399.16 397.34 395.13 396.98 392.40 396.80 C389.68 396.98 385.64 397.34 383.46 395.66 C380.96 393.38 380.85 389.60 383.03 387.38 C385.64 384.74 391.09 384.98 392.40 385.94Z" fill="#e22a52"/>
<ellipse cx="392.40" cy="391.30" rx="6.49" ry="2.90" fill="#f2647e" opacity="0.4"/>
<path d="M392.40 385.82V392.38" stroke="#c41c44" stroke-width="0.6" opacity="0.55"/>
<ellipse cx="392.40" cy="394.40" rx="6.5" ry="2.0" fill="#f2dcd8"/>
</g>
<rect x="411" y="266.6" width="31.70" height="136.2" fill="#1b1b1b"/>
<rect x="411" y="266.6" width="31.70" height="136.2" fill="#000" filter="url(#speck)" opacity="0.55"/>
<g filter="url(#slicef)">
<path d="M427.75 269.92 C428.70 269.21 432.65 269.04 434.54 270.97 C436.12 272.60 436.05 275.37 434.23 277.04 C432.65 278.28 429.73 278.01 427.75 277.88 C425.77 278.01 422.85 278.28 421.27 277.04 C419.45 275.37 419.38 272.60 420.96 270.97 C422.85 269.04 426.80 269.21 427.75 269.92Z" fill="#e6d2dc"/>
<path d="M427.75 270.79 C428.59 270.23 432.09 270.09 433.77 271.63 C435.17 272.93 435.10 275.13 433.49 276.46 C432.09 277.44 429.50 277.23 427.75 277.12 C426.00 277.23 423.41 277.44 422.01 276.46 C420.40 275.13 420.33 272.93 421.73 271.63 C423.41 270.09 426.91 270.23 427.75 270.79Z" fill="#c93660"/>
<ellipse cx="427.75" cy="274.00" rx="4.35" ry="1.85" fill="#e0809c" opacity="0.55"/>
<path d="M427.75 270.40V274.58" stroke="#a82a54" stroke-width="0.6" opacity="0.55"/>
<path d="M427.75 287.93 C428.88 286.98 433.58 286.75 435.83 289.34 C437.71 291.52 437.62 295.24 435.46 297.48 C433.58 299.14 430.10 298.78 427.75 298.61 C425.40 298.78 421.92 299.14 420.04 297.48 C417.88 295.24 417.79 291.52 419.67 289.34 C421.92 286.75 426.62 286.98 427.75 287.93Z" fill="#e6d2dc"/>
<path d="M427.75 288.80 C428.77 288.00 433.02 287.80 435.06 290.00 C436.76 291.85 436.68 295.00 434.72 296.90 C433.02 298.30 429.88 298.00 427.75 297.85 C425.62 298.00 422.48 298.30 420.78 296.90 C418.82 295.00 418.74 291.85 420.44 290.00 C422.48 287.80 426.73 288.00 427.75 288.80Z" fill="#c93660"/>
<ellipse cx="427.75" cy="293.30" rx="5.17" ry="2.48" fill="#e0809c" opacity="0.55"/>
<path d="M427.75 288.57V294.18" stroke="#a82a54" stroke-width="0.6" opacity="0.55"/>
<path d="M427.75 309.07 C429.03 307.96 434.38 307.69 436.95 310.72 C439.09 313.27 438.99 317.62 436.52 320.24 C434.38 322.18 430.43 321.76 427.75 321.56 C425.07 321.76 421.12 322.18 418.98 320.24 C416.51 317.62 416.41 313.27 418.55 310.72 C421.12 307.69 426.47 307.96 427.75 309.07Z" fill="#e6d2dc"/>
<path d="M427.75 309.94 C428.93 308.98 433.83 308.74 436.18 311.38 C438.14 313.60 438.04 317.38 435.79 319.66 C433.83 321.34 430.20 320.98 427.75 320.80 C425.30 320.98 421.67 321.34 419.71 319.66 C417.46 317.38 417.36 313.60 419.32 311.38 C421.67 308.74 426.57 308.98 427.75 309.94Z" fill="#c93660"/>
<ellipse cx="427.75" cy="315.30" rx="5.88" ry="2.90" fill="#e0809c" opacity="0.55"/>
<path d="M427.75 309.82V316.38" stroke="#a82a54" stroke-width="0.6" opacity="0.55"/>
<path d="M427.75 333.49 C429.13 332.24 434.88 331.93 437.64 335.36 C439.94 338.25 439.82 343.16 437.18 346.13 C434.88 348.31 430.62 347.84 427.75 347.61 C424.88 347.84 420.62 348.31 418.32 346.13 C415.68 343.16 415.56 338.25 417.86 335.36 C420.62 331.93 426.37 332.24 427.75 333.49Z" fill="#e6d2dc"/>
<path d="M427.75 334.37 C429.02 333.26 434.32 332.99 436.87 336.02 C438.99 338.57 438.88 342.92 436.44 345.54 C434.32 347.48 430.40 347.06 427.75 346.86 C425.10 347.06 421.18 347.48 419.06 345.54 C416.62 342.92 416.51 338.57 418.63 336.02 C421.18 332.99 426.48 333.26 427.75 334.37Z" fill="#c93660"/>
<ellipse cx="427.75" cy="340.50" rx="6.33" ry="3.28" fill="#e0809c" opacity="0.55"/>
<path d="M427.75 334.35V341.76" stroke="#a82a54" stroke-width="0.6" opacity="0.55"/>
<path d="M417.05 339.70 Q417.45 333.60 425.25 333.00 Q424.75 337.86 417.05 339.70Z" fill="#e8d6de"/>
<path d="M427.75 359.59 C429.17 358.29 435.07 357.96 437.90 361.55 C440.26 364.56 440.14 369.70 437.43 372.79 C435.07 375.08 430.70 374.59 427.75 374.34 C424.80 374.59 420.43 375.08 418.07 372.79 C415.36 369.70 415.24 364.56 417.60 361.55 C420.43 357.96 426.33 358.29 427.75 359.59Z" fill="#e6d2dc"/>
<path d="M427.75 360.47 C429.06 359.31 434.51 359.02 437.12 362.21 C439.30 364.89 439.19 369.46 436.69 372.21 C434.51 374.24 430.48 373.81 427.75 373.59 C425.02 373.81 420.99 374.24 418.81 372.21 C416.31 369.46 416.20 364.89 418.38 362.21 C420.99 359.02 426.44 359.31 427.75 360.47Z" fill="#c93660"/>
<ellipse cx="427.75" cy="366.90" rx="6.49" ry="3.42" fill="#e0809c" opacity="0.55"/>
<path d="M427.75 360.49V368.23" stroke="#a82a54" stroke-width="0.6" opacity="0.55"/>
<path d="M416.75 366.10 Q417.15 359.65 425.25 359.05 Q424.75 364.16 416.75 366.10Z" fill="#e8d6de"/>
<path d="M427.75 386.55 C429.17 385.35 435.07 385.05 437.90 388.35 C440.26 391.12 440.14 395.85 437.43 398.70 C435.07 400.80 430.70 400.35 427.75 400.12 C424.80 400.35 420.43 400.80 418.07 398.70 C415.36 395.85 415.24 391.12 417.60 388.35 C420.43 385.05 426.33 385.35 427.75 386.55Z" fill="#e6d2dc"/>
<path d="M427.75 387.42 C429.06 386.37 434.51 386.10 437.12 389.01 C439.30 391.45 439.19 395.61 436.69 398.12 C434.51 399.96 430.48 399.57 427.75 399.37 C425.02 399.57 420.99 399.96 418.81 398.12 C416.31 395.61 416.20 391.45 418.38 389.01 C420.99 386.10 426.44 386.37 427.75 387.42Z" fill="#c93660"/>
<ellipse cx="427.75" cy="393.30" rx="6.49" ry="3.15" fill="#e0809c" opacity="0.55"/>
<path d="M427.75 387.38V394.50" stroke="#a82a54" stroke-width="0.6" opacity="0.55"/>
</g>
<rect x="450.3" y="266.6" width="31.40" height="136.2" fill="#262626"/>
<rect x="450.3" y="266.6" width="31.40" height="136.2" fill="#000" filter="url(#speck)" opacity="0.55"/>
<g filter="url(#slicef)">
<path d="M466.40 270.06 C467.38 269.13 471.45 268.90 473.41 271.44 C475.04 273.56 474.96 277.19 473.08 279.37 C471.45 280.98 468.44 280.63 466.40 280.46 C464.36 280.63 461.35 280.98 459.72 279.37 C457.84 277.19 457.76 273.56 459.39 271.44 C461.35 268.90 465.42 269.13 466.40 270.06Z" fill="#f6e2e2"/>
<path d="M466.40 270.93 C467.27 270.15 470.89 269.96 472.63 272.09 C474.08 273.89 474.01 276.94 472.34 278.79 C470.89 280.14 468.21 279.85 466.40 279.71 C464.59 279.85 461.90 280.14 460.45 278.79 C458.79 276.94 458.71 273.89 460.16 272.09 C461.90 269.96 465.53 270.15 466.40 270.93Z" fill="#e22a52"/>
<ellipse cx="466.40" cy="275.30" rx="4.48" ry="2.42" fill="#f2647e" opacity="0.4"/>
<path d="M466.40 270.69V276.15" stroke="#c41c44" stroke-width="0.6" opacity="0.55"/>
<path d="M466.40 290.33 C467.66 289.10 472.91 288.79 475.43 292.19 C477.53 295.06 477.42 299.94 475.01 302.89 C472.91 305.06 469.02 304.60 466.40 304.36 C463.77 304.60 459.89 305.06 457.79 302.89 C455.38 299.94 455.27 295.06 457.37 292.19 C459.89 288.79 465.14 289.10 466.40 290.33Z" fill="#f6e2e2"/>
<path d="M466.40 291.21 C467.55 290.11 472.35 289.84 474.66 292.85 C476.58 295.39 476.48 299.70 474.27 302.31 C472.35 304.22 468.80 303.81 466.40 303.61 C464.00 303.81 460.45 304.22 458.53 302.31 C456.32 299.70 456.22 295.39 458.14 292.85 C460.45 289.84 465.25 290.11 466.40 291.21Z" fill="#e22a52"/>
<ellipse cx="466.40" cy="297.30" rx="5.78" ry="3.25" fill="#f2647e" opacity="0.4"/>
<path d="M466.40 291.19V298.55" stroke="#c41c44" stroke-width="0.6" opacity="0.55"/>
<path d="M466.40 312.83 C467.75 311.60 473.38 311.29 476.07 314.69 C478.32 317.56 478.21 322.44 475.62 325.39 C473.38 327.56 469.21 327.10 466.40 326.86 C463.59 327.10 459.42 327.56 457.17 325.39 C454.59 322.44 454.47 317.56 456.72 314.69 C459.42 311.29 465.05 311.60 466.40 312.83Z" fill="#f6e2e2"/>
<path d="M466.40 313.71 C467.64 312.61 472.82 312.34 475.30 315.35 C477.37 317.89 477.27 322.20 474.89 324.81 C472.82 326.72 468.99 326.31 466.40 326.11 C463.81 326.31 459.98 326.72 457.91 324.81 C455.53 322.20 455.43 317.89 457.50 315.35 C459.98 312.34 465.16 312.61 466.40 313.71Z" fill="#e22a52"/>
<ellipse cx="466.40" cy="319.80" rx="6.19" ry="3.25" fill="#f2647e" opacity="0.4"/>
<path d="M466.40 313.69V321.05" stroke="#c41c44" stroke-width="0.6" opacity="0.55"/>
<path d="M466.40 338.43 C467.82 337.02 473.72 336.67 476.55 340.54 C478.91 343.80 478.79 349.34 476.08 352.69 C473.72 355.15 469.35 354.62 466.40 354.36 C463.45 354.62 459.08 355.15 456.72 352.69 C454.01 349.34 453.89 343.80 456.25 340.54 C459.08 336.67 464.98 337.02 466.40 338.43Z" fill="#f6e2e2"/>
<path d="M466.40 339.31 C467.71 338.04 473.16 337.73 475.77 341.20 C477.95 344.12 477.84 349.10 475.34 352.10 C473.16 354.32 469.12 353.84 466.40 353.61 C463.67 353.84 459.64 354.32 457.46 352.10 C454.95 349.10 454.85 344.12 457.03 341.20 C459.64 337.73 465.09 338.04 466.40 339.31Z" fill="#e22a52"/>
<ellipse cx="466.40" cy="346.30" rx="6.49" ry="3.70" fill="#f2647e" opacity="0.4"/>
<path d="M466.40 339.40V347.76" stroke="#c41c44" stroke-width="0.6" opacity="0.55"/>
<path d="M455.40 345.50 Q455.80 338.40 463.90 337.80 Q463.40 343.36 455.40 345.50Z" fill="#f4e4de"/>
<path d="M466.40 362.49 C467.87 361.19 474.00 360.86 476.94 364.45 C479.38 367.46 479.26 372.60 476.44 375.69 C474.00 377.98 469.46 377.49 466.40 377.24 C463.34 377.49 458.80 377.98 456.35 375.69 C453.54 372.60 453.41 367.46 455.86 364.45 C458.80 360.86 464.93 361.19 466.40 362.49Z" fill="#f6e2e2"/>
<path d="M466.40 363.37 C467.76 362.21 473.44 361.92 476.16 365.11 C478.43 367.79 478.32 372.36 475.71 375.11 C473.44 377.14 469.24 376.71 466.40 376.49 C463.56 376.71 459.36 377.14 457.09 375.11 C454.48 372.36 454.37 367.79 456.64 365.11 C459.36 361.92 465.04 362.21 466.40 363.37Z" fill="#e22a52"/>
<ellipse cx="466.40" cy="369.80" rx="6.74" ry="3.42" fill="#f2647e" opacity="0.4"/>
<path d="M466.40 363.39V371.13" stroke="#c41c44" stroke-width="0.6" opacity="0.55"/>
<path d="M454.95 369.00 Q455.35 362.55 463.90 361.95 Q463.40 367.06 454.95 369.00Z" fill="#f4e4de"/>
<path d="M466.40 385.57 C467.72 384.46 473.22 384.19 475.86 387.22 C478.06 389.77 477.95 394.12 475.42 396.74 C473.22 398.68 469.15 398.26 466.40 398.06 C463.65 398.26 459.58 398.68 457.38 396.74 C454.85 394.12 454.74 389.77 456.94 387.22 C459.58 384.19 465.08 384.46 466.40 385.57Z" fill="#f6e2e2"/>
<path d="M466.40 386.44 C467.61 385.48 472.66 385.24 475.09 387.88 C477.11 390.10 477.00 393.88 474.68 396.16 C472.66 397.84 468.92 397.48 466.40 397.30 C463.88 397.48 460.14 397.84 458.12 396.16 C455.79 393.88 455.69 390.10 457.71 387.88 C460.14 385.24 465.19 385.48 466.40 386.44Z" fill="#e22a52"/>
<ellipse cx="466.40" cy="391.80" rx="6.05" ry="2.90" fill="#f2647e" opacity="0.4"/>
<path d="M466.40 386.32V392.88" stroke="#c41c44" stroke-width="0.6" opacity="0.55"/>
</g>
<rect x="485" y="266.6" width="31.30" height="136.2" fill="#1b1b1b"/>
<rect x="485" y="266.6" width="31.30" height="136.2" fill="#000" filter="url(#speck)" opacity="0.55"/>
<g filter="url(#slicef)">
<path d="M500.85 270.22 C501.75 269.51 505.50 269.34 507.30 271.27 C508.80 272.90 508.72 275.67 507.00 277.34 C505.50 278.58 502.72 278.31 500.85 278.18 C498.97 278.31 496.20 278.58 494.70 277.34 C492.97 275.67 492.90 272.90 494.40 271.27 C496.20 269.34 499.95 269.51 500.85 270.22Z" fill="#e6d2dc"/>
<path d="M500.85 271.09 C501.64 270.53 504.94 270.39 506.53 271.93 C507.85 273.23 507.78 275.43 506.26 276.76 C504.94 277.74 502.50 277.53 500.85 277.43 C499.20 277.53 496.76 277.74 495.44 276.76 C493.92 275.43 493.85 273.23 495.17 271.93 C496.76 270.39 500.06 270.53 500.85 271.09Z" fill="#c93660"/>
<ellipse cx="500.85" cy="274.30" rx="4.12" ry="1.85" fill="#e0809c" opacity="0.55"/>
<path d="M500.85 270.70V274.88" stroke="#a82a54" stroke-width="0.6" opacity="0.55"/>
<path d="M500.85 287.33 C501.98 286.38 506.68 286.15 508.93 288.74 C510.81 290.92 510.72 294.64 508.56 296.88 C506.68 298.54 503.20 298.18 500.85 298.00 C498.50 298.18 495.02 298.54 493.14 296.88 C490.98 294.64 490.89 290.92 492.77 288.74 C495.02 286.15 499.72 286.38 500.85 287.33Z" fill="#e6d2dc"/>
<path d="M500.85 288.20 C501.87 287.40 506.12 287.20 508.16 289.40 C509.86 291.25 509.77 294.40 507.82 296.30 C506.12 297.70 502.97 297.40 500.85 297.25 C498.72 297.40 495.58 297.70 493.88 296.30 C491.92 294.40 491.84 291.25 493.54 289.40 C495.58 287.20 499.83 287.40 500.85 288.20Z" fill="#c93660"/>
<ellipse cx="500.85" cy="292.70" rx="5.17" ry="2.48" fill="#e0809c" opacity="0.55"/>
<path d="M500.85 287.97V293.58" stroke="#a82a54" stroke-width="0.6" opacity="0.55"/>
<path d="M500.85 308.83 C502.29 307.60 508.29 307.29 511.17 310.69 C513.57 313.56 513.45 318.44 510.69 321.39 C508.29 323.56 503.85 323.10 500.85 322.86 C497.85 323.10 493.41 323.56 491.01 321.39 C488.25 318.44 488.13 313.56 490.53 310.69 C493.41 307.29 499.41 307.60 500.85 308.83Z" fill="#e6d2dc"/>
<path d="M500.85 309.71 C502.18 308.61 507.73 308.34 510.40 311.35 C512.62 313.89 512.50 318.20 509.95 320.81 C507.73 322.72 503.62 322.31 500.85 322.11 C498.07 322.31 493.97 322.72 491.75 320.81 C489.19 318.20 489.08 313.89 491.30 311.35 C493.97 308.34 499.52 308.61 500.85 309.71Z" fill="#c93660"/>
<ellipse cx="500.85" cy="315.80" rx="6.60" ry="3.25" fill="#e0809c" opacity="0.55"/>
<path d="M500.85 309.69V317.05" stroke="#a82a54" stroke-width="0.6" opacity="0.55"/>
<path d="M500.85 334.40 C502.32 333.08 508.44 332.75 511.38 336.38 C513.83 339.44 513.71 344.63 510.89 347.77 C508.44 350.08 503.91 349.58 500.85 349.34 C497.79 349.58 493.25 350.08 490.80 347.77 C487.99 344.63 487.86 339.44 490.31 336.38 C493.25 332.75 499.38 333.08 500.85 334.40Z" fill="#e6d2dc"/>
<path d="M500.85 335.28 C502.21 334.10 507.89 333.81 510.61 337.04 C512.88 339.76 512.77 344.39 510.16 347.19 C507.89 349.24 503.69 348.80 500.85 348.58 C498.01 348.80 493.81 349.24 491.54 347.19 C488.93 344.39 488.82 339.76 491.09 337.04 C493.81 333.81 499.49 334.10 500.85 335.28Z" fill="#c93660"/>
<ellipse cx="500.85" cy="341.80" rx="6.74" ry="3.46" fill="#e0809c" opacity="0.55"/>
<path d="M500.85 335.31V343.15" stroke="#a82a54" stroke-width="0.6" opacity="0.55"/>
<path d="M489.40 341.00 Q489.80 334.45 498.35 333.85 Q497.85 339.02 489.40 341.00Z" fill="#e8d6de"/>
<path d="M500.85 360.42 C502.35 359.14 508.60 358.82 511.60 362.34 C514.10 365.30 513.97 370.34 511.10 373.38 C508.60 375.62 503.97 375.14 500.85 374.90 C497.72 375.14 493.10 375.62 490.60 373.38 C487.72 370.34 487.60 365.30 490.10 362.34 C493.10 358.82 499.35 359.14 500.85 360.42Z" fill="#e6d2dc"/>
<path d="M500.85 361.29 C502.24 360.16 508.04 359.87 510.83 363.00 C513.15 365.63 513.03 370.10 510.36 372.80 C508.04 374.78 503.75 374.36 500.85 374.15 C497.95 374.36 493.66 374.78 491.34 372.80 C488.67 370.10 488.55 365.63 490.87 363.00 C493.66 359.87 499.46 360.16 500.85 361.29Z" fill="#c93660"/>
<ellipse cx="500.85" cy="367.60" rx="6.88" ry="3.36" fill="#e0809c" opacity="0.55"/>
<path d="M500.85 361.30V368.90" stroke="#a82a54" stroke-width="0.6" opacity="0.55"/>
<path d="M489.15 366.80 Q489.55 360.50 498.35 359.90 Q497.85 364.90 489.15 366.80Z" fill="#e8d6de"/>
<path d="M500.85 385.46 C502.29 384.31 508.29 384.01 511.17 387.20 C513.57 389.89 513.45 394.45 510.69 397.21 C508.29 399.24 503.85 398.81 500.85 398.59 C497.85 398.81 493.41 399.24 491.01 397.21 C488.25 394.45 488.13 389.89 490.53 387.20 C493.41 384.01 499.41 384.31 500.85 385.46Z" fill="#e6d2dc"/>
<path d="M500.85 386.34 C502.18 385.32 507.73 385.07 510.40 387.86 C512.62 390.21 512.50 394.21 509.95 396.63 C507.73 398.40 503.62 398.02 500.85 397.83 C498.07 398.02 493.97 398.40 491.75 396.63 C489.19 394.21 489.08 390.21 491.30 387.86 C493.97 385.07 499.52 385.32 500.85 386.34Z" fill="#c93660"/>
<ellipse cx="500.85" cy="392.00" rx="6.60" ry="3.04" fill="#e0809c" opacity="0.55"/>
<path d="M500.85 386.26V393.15" stroke="#a82a54" stroke-width="0.6" opacity="0.55"/>
</g>
<text x="2.20" y="428.30" font-size="14.5" font-weight="bold" text-anchor="start" fill="#000">I</text>
<rect x="28.60" y="424.70" width="150.30" height="13.20" fill="#fff" stroke="#382e2a" stroke-width="1.4"/>
<rect x="181.20" y="424.70" width="151.50" height="13.20" fill="#fff" stroke="#382e2a" stroke-width="1.4"/>
<text x="103.70" y="433.50" font-size="6.0" font-weight="bold" text-anchor="middle" fill="#222">YAP<tspan font-size="3.6" dy="-2.0">f/f</tspan></text>
<text x="257.00" y="433.50" font-size="6.0" font-weight="bold" text-anchor="middle" fill="#222">YAP<tspan font-size="3.6" dy="-2.0">GFAP</tspan><tspan dy="2.0">-CKO</tspan></text>
<rect x="12.20" y="440.10" width="14.10" height="74.50" fill="#fff" stroke="#382e2a" stroke-width="1.4"/>
<rect x="12.20" y="517.00" width="14.10" height="74.20" fill="#fff" stroke="#382e2a" stroke-width="1.4"/>
<text x="21.40" y="479.70" font-size="6.0" font-weight="bold" text-anchor="middle" fill="#222" transform="rotate(-90 21.40 479.70)">Control</text>
<text x="21.40" y="558.40" font-size="6.0" font-weight="bold" text-anchor="middle" fill="#222" transform="rotate(-90 21.40 558.40)">LDN-212320</text>
<svg x="28.4" y="439.6" width="74.90" height="75.50" viewBox="0 0 74.90 75.50" overflow="hidden">
<rect width="74.90" height="75.50" fill="#e7e7eb"/>
<g opacity="0.72" filter="url(#b03)"><circle cx="24.3" cy="11.4" r="0.78" fill="#5868e0"/><circle cx="61.5" cy="7.1" r="0.74" fill="#7484e8"/><circle cx="16.1" cy="6.5" r="0.66" fill="#6a78e6"/><circle cx="6.8" cy="32.1" r="0.86" fill="#5868e0"/><circle cx="71.0" cy="47.6" r="0.74" fill="#5868e0"/><circle cx="43.2" cy="29.9" r="0.94" fill="#5868e0"/><circle cx="41.7" cy="10.1" r="0.66" fill="#7484e8"/><circle cx="8.8" cy="23.3" r="0.86" fill="#6a78e6"/><circle cx="7.7" cy="43.1" r="0.54" fill="#5868e0"/><circle cx="41.0" cy="4.7" r="0.48" fill="#6a78e6"/><circle cx="37.2" cy="40.1" r="0.84" fill="#8090ea"/><circle cx="43.9" cy="34.2" r="0.60" fill="#6a78e6"/><circle cx="52.4" cy="18.4" r="0.74" fill="#7484e8"/><circle cx="37.1" cy="25.9" r="0.67" fill="#7484e8"/><circle cx="73.4" cy="8.9" r="0.66" fill="#4858d8"/><circle cx="11.4" cy="36.9" r="0.47" fill="#5868e0"/><circle cx="57.3" cy="43.3" r="0.89" fill="#4858d8"/><circle cx="25.5" cy="26.4" r="0.70" fill="#8090ea"/><circle cx="5.2" cy="7.1" r="0.58" fill="#5868e0"/><circle cx="4.5" cy="53.0" r="0.77" fill="#8090ea"/><circle cx="21.3" cy="29.1" r="0.78" fill="#5868e0"/><circle cx="70.5" cy="26.8" r="0.76" fill="#8090ea"/><circle cx="4.4" cy="58.0" r="0.51" fill="#6a78e6"/><circle cx="29.8" cy="69.2" r="0.70" fill="#6a78e6"/><circle cx="33.6" cy="41.5" r="0.89" fill="#8090ea"/><circle cx="64.7" cy="21.0" r="0.66" fill="#4858d8"/><circle cx="51.1" cy="28.7" r="0.57" fill="#5868e0"/><circle cx="13.2" cy="17.5" r="0.57" fill="#8090ea"/><circle cx="62.2" cy="13.8" r="0.59" fill="#6a78e6"/><circle cx="31.4" cy="27.9" r="0.73" fill="#6a78e6"/><circle cx="51.7" cy="38.9" r="0.76" fill="#5868e0"/><circle cx="34.2" cy="65.8" r="0.93" fill="#7484e8"/><circle cx="29.4" cy="30.1" r="0.50" fill="#8090ea"/><circle cx="4.7" cy="5.1" r="0.55" fill="#6a78e6"/><circle cx="8.2" cy="45.4" r="0.50" fill="#7484e8"/><circle cx="11.3" cy="7.7" r="0.63" fill="#5868e0"/><circle cx="5.3" cy="15.7" r="0.64" fill="#4858d8"/><circle cx="71.6" cy="45.5" r="0.69" fill="#5868e0"/><circle cx="63.6" cy="75.0" r="0.68" fill="#8090ea"/><circle cx="23.4" cy="10.9" r="0.82" fill="#4858d8"/><circle cx="35.8" cy="52.3" r="0.71" fill="#6a78e6"/><circle cx="71.2" cy="39.9" r="0.52" fill="#7484e8"/><circle cx="68.5" cy="57.2" r="0.60" fill="#5868e0"/><circle cx="52.1" cy="19.7" r="0.63" fill="#6a78e6"/><circle cx="26.6" cy="16.8" r="0.72" fill="#7484e8"/><circle cx="24.7" cy="16.8" r="0.86" fill="#6a78e6"/><circle cx="60.4" cy="61.8" r="0.82" fill="#6a78e6"/><circle cx="15.0" cy="37.2" r="0.82" fill="#5868e0"/><circle cx="59.2" cy="35.7" r="0.55" fill="#7484e8"/><circle cx="71.6" cy="33.8" r="0.92" fill="#4858d8"/><circle cx="71.5" cy="27.5" r="0.56" fill="#6a78e6"/><circle cx="35.2" cy="25.5" r="0.69" fill="#7484e8"/><circle cx="62.9" cy="36.2" r="0.78" fill="#5868e0"/><circle cx="62.5" cy="9.1" r="0.64" fill="#6a78e6"/><circle cx="35.8" cy="13.5" r="0.84" fill="#4858d8"/><circle cx="6.5" cy="71.4" r="0.81" fill="#8090ea"/><circle cx="30.1" cy="71.5" r="0.81" fill="#6a78e6"/><circle cx="74.4" cy="2.1" r="0.75" fill="#8090ea"/><circle cx="60.4" cy="11.0" r="0.86" fill="#8090ea"/><circle cx="49.2" cy="26.5" r="0.72" fill="#6a78e6"/><circle cx="1.6" cy="60.4" r="0.81" fill="#5868e0"/><circle cx="39.4" cy="70.5" r="0.67" fill="#6a78e6"/><circle cx="61.9" cy="15.9" r="0.58" fill="#4858d8"/><circle cx="37.5" cy="57.7" r="0.61" fill="#7484e8"/><circle cx="31.4" cy="9.9" r="0.91" fill="#4858d8"/><circle cx="67.2" cy="50.0" r="0.86" fill="#7484e8"/><circle cx="31.5" cy="69.3" r="0.70" fill="#7484e8"/><circle cx="11.4" cy="38.5" r="0.89" fill="#6a78e6"/><circle cx="45.6" cy="58.6" r="0.52" fill="#6a78e6"/><circle cx="35.5" cy="54.8" r="0.73" fill="#4858d8"/><circle cx="51.1" cy="40.1" r="0.69" fill="#5868e0"/><circle cx="66.2" cy="4.3" r="0.55" fill="#5868e0"/><circle cx="57.8" cy="38.3" r="0.73" fill="#5868e0"/><circle cx="33.2" cy="46.2" r="0.70" fill="#7484e8"/><circle cx="14.9" cy="20.9" r="0.70" fill="#8090ea"/><circle cx="38.0" cy="18.7" r="0.71" fill="#4858d8"/><circle cx="69.1" cy="67.4" r="0.55" fill="#8090ea"/><circle cx="10.3" cy="9.2" r="0.67" fill="#5868e0"/><circle cx="50.3" cy="32.3" r="0.56" fill="#4858d8"/><circle cx="58.7" cy="67.7" r="0.53" fill="#4858d8"/><circle cx="10.7" cy="66.7" r="0.93" fill="#6a78e6"/><circle cx="55.9" cy="7.1" r="0.89" fill="#6a78e6"/><circle cx="74.1" cy="62.8" r="0.53" fill="#8090ea"/><circle cx="74.5" cy="30.5" r="0.66" fill="#4858d8"/><circle cx="23.9" cy="54.5" r="0.46" fill="#7484e8"/><circle cx="34.4" cy="53.1" r="0.64" fill="#7484e8"/><circle cx="46.7" cy="38.7" r="0.48" fill="#6a78e6"/><circle cx="72.8" cy="7.9" r="0.58" fill="#5868e0"/><circle cx="67.9" cy="13.7" r="0.83" fill="#8090ea"/><circle cx="63.6" cy="51.0" r="0.92" fill="#8090ea"/><circle cx="11.2" cy="69.4" r="0.74" fill="#4858d8"/><circle cx="6.7" cy="4.3" r="0.79" fill="#8090ea"/><circle cx="67.1" cy="20.3" r="0.46" fill="#5868e0"/><circle cx="60.0" cy="6.3" r="0.88" fill="#5868e0"/><circle cx="19.8" cy="9.2" r="0.46" fill="#7484e8"/><circle cx="31.3" cy="69.1" r="0.76" fill="#5868e0"/><circle cx="39.5" cy="18.0" r="0.50" fill="#6a78e6"/><circle cx="19.6" cy="13.7" r="0.92" fill="#4858d8"/><circle cx="39.8" cy="15.5" r="0.67" fill="#6a78e6"/><circle cx="20.3" cy="60.7" r="0.95" fill="#5868e0"/><circle cx="1.1" cy="55.3" r="0.73" fill="#6a78e6"/><circle cx="38.5" cy="18.5" r="0.67" fill="#8090ea"/><circle cx="49.2" cy="41.2" r="0.89" fill="#7484e8"/><circle cx="23.1" cy="16.2" r="0.56" fill="#6a78e6"/><circle cx="62.3" cy="53.4" r="0.77" fill="#8090ea"/><circle cx="74.1" cy="74.1" r="0.87" fill="#5868e0"/><circle cx="5.3" cy="55.9" r="0.58" fill="#6a78e6"/><circle cx="4.1" cy="50.2" r="0.64" fill="#7484e8"/><circle cx="50.2" cy="21.3" r="0.57" fill="#4858d8"/><circle cx="3.4" cy="14.0" r="0.58" fill="#5868e0"/><circle cx="19.7" cy="72.6" r="0.94" fill="#7484e8"/><circle cx="24.2" cy="2.6" r="0.89" fill="#6a78e6"/><circle cx="26.7" cy="0.1" r="0.64" fill="#8090ea"/><circle cx="20.9" cy="49.5" r="0.57" fill="#5868e0"/><circle cx="6.8" cy="61.7" r="0.52" fill="#7484e8"/><circle cx="3.1" cy="1.7" r="0.60" fill="#6a78e6"/><circle cx="6.3" cy="72.3" r="0.88" fill="#6a78e6"/><circle cx="49.3" cy="54.1" r="0.89" fill="#8090ea"/><circle cx="57.2" cy="54.4" r="0.70" fill="#4858d8"/><circle cx="54.2" cy="48.6" r="0.47" fill="#7484e8"/><circle cx="47.0" cy="55.4" r="0.86" fill="#6a78e6"/><circle cx="68.2" cy="56.8" r="0.73" fill="#5868e0"/><circle cx="61.9" cy="44.1" r="0.90" fill="#6a78e6"/><circle cx="6.4" cy="3.2" r="0.77" fill="#5868e0"/><circle cx="28.2" cy="34.1" r="0.48" fill="#5868e0"/><circle cx="46.9" cy="51.4" r="0.69" fill="#5868e0"/><circle cx="34.2" cy="5.3" r="0.92" fill="#7484e8"/><circle cx="6.9" cy="39.7" r="0.82" fill="#8090ea"/><circle cx="18.9" cy="5.6" r="0.58" fill="#6a78e6"/><circle cx="17.3" cy="49.1" r="0.68" fill="#8090ea"/><circle cx="5.7" cy="68.7" r="0.59" fill="#5868e0"/><circle cx="46.2" cy="48.5" r="0.49" fill="#6a78e6"/><circle cx="24.8" cy="49.2" r="0.80" fill="#7484e8"/><circle cx="42.5" cy="0.9" r="0.48" fill="#4858d8"/><circle cx="72.8" cy="7.5" r="0.56" fill="#8090ea"/><circle cx="21.8" cy="39.0" r="0.68" fill="#8090ea"/><circle cx="57.5" cy="75.0" r="0.72" fill="#4858d8"/><circle cx="73.3" cy="70.7" r="0.46" fill="#8090ea"/><circle cx="5.7" cy="38.2" r="0.95" fill="#4858d8"/><circle cx="29.0" cy="69.2" r="0.92" fill="#5868e0"/><circle cx="43.6" cy="10.7" r="0.71" fill="#4858d8"/><circle cx="9.9" cy="61.9" r="0.70" fill="#5868e0"/><circle cx="52.7" cy="17.5" r="0.90" fill="#8090ea"/><circle cx="29.5" cy="12.0" r="0.92" fill="#8090ea"/><circle cx="30.4" cy="54.9" r="0.66" fill="#8090ea"/><circle cx="23.7" cy="63.4" r="0.45" fill="#4858d8"/><circle cx="62.8" cy="9.1" r="0.91" fill="#5868e0"/><circle cx="67.5" cy="21.9" r="0.64" fill="#8090ea"/><circle cx="29.2" cy="65.7" r="0.49" fill="#8090ea"/><circle cx="56.6" cy="64.5" r="0.59" fill="#5868e0"/><circle cx="62.5" cy="21.6" r="0.92" fill="#6a78e6"/><circle cx="72.7" cy="32.9" r="0.61" fill="#4858d8"/><circle cx="58.8" cy="32.3" r="0.46" fill="#8090ea"/><circle cx="68.4" cy="71.0" r="0.72" fill="#5868e0"/><circle cx="3.7" cy="55.3" r="0.68" fill="#6a78e6"/><circle cx="48.3" cy="21.6" r="0.47" fill="#7484e8"/><circle cx="9.5" cy="35.6" r="0.62" fill="#4858d8"/><circle cx="19.2" cy="55.8" r="0.78" fill="#8090ea"/><circle cx="49.1" cy="22.7" r="0.73" fill="#8090ea"/><circle cx="9.0" cy="48.6" r="0.49" fill="#7484e8"/><circle cx="67.9" cy="37.5" r="0.56" fill="#4858d8"/><circle cx="74.6" cy="34.0" r="0.52" fill="#6a78e6"/><circle cx="18.3" cy="13.2" r="0.73" fill="#4858d8"/><circle cx="17.9" cy="19.5" r="0.73" fill="#5868e0"/><circle cx="56.1" cy="31.2" r="0.66" fill="#7484e8"/><circle cx="15.7" cy="20.4" r="0.83" fill="#8090ea"/><circle cx="20.8" cy="73.1" r="0.51" fill="#7484e8"/><circle cx="39.6" cy="59.7" r="0.87" fill="#5868e0"/><circle cx="20.3" cy="18.8" r="0.65" fill="#8090ea"/><circle cx="32.3" cy="23.6" r="0.86" fill="#5868e0"/><circle cx="9.5" cy="32.1" r="0.83" fill="#8090ea"/><circle cx="72.5" cy="37.0" r="0.49" fill="#7484e8"/><circle cx="64.1" cy="73.4" r="0.57" fill="#5868e0"/><circle cx="16.8" cy="11.5" r="0.94" fill="#5868e0"/><circle cx="70.5" cy="54.5" r="0.77" fill="#8090ea"/><circle cx="6.4" cy="58.7" r="0.45" fill="#6a78e6"/><circle cx="17.4" cy="69.5" r="0.77" fill="#4858d8"/><circle cx="72.1" cy="47.3" r="0.71" fill="#8090ea"/><circle cx="52.3" cy="8.5" r="0.49" fill="#7484e8"/><circle cx="70.7" cy="14.5" r="0.58" fill="#7484e8"/><circle cx="0.1" cy="40.6" r="0.95" fill="#4858d8"/><circle cx="71.8" cy="48.7" r="0.89" fill="#8090ea"/><circle cx="39.4" cy="41.3" r="0.46" fill="#8090ea"/><circle cx="52.8" cy="23.2" r="0.46" fill="#8090ea"/><circle cx="66.3" cy="48.9" r="0.49" fill="#6a78e6"/><circle cx="50.0" cy="69.8" r="0.56" fill="#5868e0"/><circle cx="52.1" cy="54.2" r="0.63" fill="#8090ea"/><circle cx="14.8" cy="60.2" r="0.82" fill="#7484e8"/><circle cx="5.1" cy="37.4" r="0.55" fill="#6a78e6"/><circle cx="17.3" cy="16.7" r="0.83" fill="#4858d8"/><circle cx="8.2" cy="47.1" r="0.76" fill="#6a78e6"/><circle cx="36.3" cy="68.7" r="0.48" fill="#7484e8"/><circle cx="11.0" cy="29.7" r="0.56" fill="#7484e8"/><circle cx="10.6" cy="3.9" r="0.48" fill="#8090ea"/><circle cx="33.7" cy="53.8" r="0.61" fill="#5868e0"/><circle cx="74.7" cy="70.3" r="0.61" fill="#6a78e6"/><circle cx="48.9" cy="39.6" r="0.68" fill="#4858d8"/><circle cx="49.8" cy="28.6" r="0.64" fill="#4858d8"/><circle cx="33.1" cy="8.2" r="0.49" fill="#5868e0"/><circle cx="26.3" cy="72.1" r="0.51" fill="#6a78e6"/><circle cx="28.5" cy="58.0" r="0.60" fill="#8090ea"/><circle cx="6.6" cy="53.2" r="0.55" fill="#7484e8"/><circle cx="68.9" cy="14.6" r="0.63" fill="#8090ea"/><circle cx="2.3" cy="31.0" r="0.86" fill="#8090ea"/><circle cx="3.0" cy="2.6" r="0.48" fill="#5868e0"/><circle cx="19.3" cy="56.4" r="0.90" fill="#4858d8"/><circle cx="27.2" cy="25.3" r="0.93" fill="#5868e0"/><circle cx="19.6" cy="54.1" r="0.61" fill="#4858d8"/><circle cx="22.3" cy="54.5" r="0.75" fill="#5868e0"/><circle cx="1.8" cy="17.7" r="0.69" fill="#8090ea"/><circle cx="71.4" cy="29.2" r="0.58" fill="#8090ea"/><circle cx="61.0" cy="10.0" r="0.70" fill="#5868e0"/><circle cx="60.1" cy="55.8" r="0.86" fill="#6a78e6"/><circle cx="45.5" cy="24.7" r="0.61" fill="#4858d8"/><circle cx="58.7" cy="45.0" r="0.71" fill="#8090ea"/><circle cx="56.4" cy="18.7" r="0.48" fill="#5868e0"/><circle cx="36.1" cy="41.1" r="0.53" fill="#8090ea"/><circle cx="66.2" cy="74.6" r="0.58" fill="#5868e0"/><circle cx="15.6" cy="31.8" r="0.94" fill="#8090ea"/><circle cx="13.0" cy="10.0" r="0.68" fill="#6a78e6"/><circle cx="56.0" cy="63.9" r="0.78" fill="#5868e0"/><circle cx="58.4" cy="22.2" r="0.59" fill="#4858d8"/><circle cx="27.9" cy="55.7" r="0.55" fill="#6a78e6"/><circle cx="13.9" cy="17.8" r="0.59" fill="#7484e8"/><circle cx="14.1" cy="4.9" r="0.58" fill="#6a78e6"/><circle cx="38.0" cy="17.5" r="0.85" fill="#8090ea"/><circle cx="74.2" cy="7.7" r="0.69" fill="#6a78e6"/><circle cx="63.0" cy="69.0" r="0.47" fill="#4858d8"/><circle cx="17.4" cy="3.8" r="0.75" fill="#7484e8"/><circle cx="14.5" cy="5.7" r="0.71" fill="#6a78e6"/><circle cx="33.6" cy="19.6" r="0.84" fill="#5868e0"/><circle cx="7.9" cy="45.0" r="0.76" fill="#6a78e6"/><circle cx="2.8" cy="25.7" r="0.47" fill="#4858d8"/><circle cx="2.9" cy="55.3" r="0.91" fill="#5868e0"/><circle cx="61.3" cy="30.9" r="0.64" fill="#7484e8"/><circle cx="23.4" cy="15.4" r="0.85" fill="#7484e8"/><circle cx="36.2" cy="30.8" r="0.85" fill="#7484e8"/><circle cx="11.6" cy="40.3" r="0.78" fill="#8090ea"/><circle cx="52.1" cy="30.9" r="0.59" fill="#4858d8"/><circle cx="31.3" cy="3.9" r="0.82" fill="#4858d8"/><circle cx="31.0" cy="1.4" r="0.83" fill="#4858d8"/><circle cx="48.3" cy="29.5" r="0.65" fill="#5868e0"/><circle cx="32.5" cy="11.8" r="0.51" fill="#5868e0"/><circle cx="30.4" cy="66.7" r="0.68" fill="#6a78e6"/><circle cx="9.7" cy="3.9" r="0.52" fill="#8090ea"/><circle cx="6.7" cy="47.0" r="0.64" fill="#7484e8"/><circle cx="12.9" cy="26.3" r="0.53" fill="#6a78e6"/><circle cx="69.3" cy="8.2" r="0.70" fill="#6a78e6"/><circle cx="22.6" cy="63.2" r="0.47" fill="#8090ea"/><circle cx="23.6" cy="45.9" r="0.77" fill="#5868e0"/><circle cx="67.7" cy="46.8" r="0.86" fill="#6a78e6"/><circle cx="48.0" cy="64.7" r="0.76" fill="#7484e8"/><circle cx="63.4" cy="62.6" r="0.54" fill="#6a78e6"/><circle cx="3.1" cy="70.9" r="0.53" fill="#4858d8"/><circle cx="9.2" cy="18.7" r="0.81" fill="#6a78e6"/><circle cx="3.1" cy="42.5" r="0.83" fill="#5868e0"/><circle cx="50.0" cy="24.5" r="0.64" fill="#8090ea"/><circle cx="41.2" cy="47.3" r="0.60" fill="#8090ea"/><circle cx="23.1" cy="18.8" r="0.64" fill="#4858d8"/><circle cx="33.5" cy="33.1" r="0.46" fill="#7484e8"/><circle cx="73.9" cy="35.1" r="0.67" fill="#7484e8"/><circle cx="58.4" cy="34.6" r="0.54" fill="#8090ea"/><circle cx="30.0" cy="5.1" r="0.63" fill="#4858d8"/><circle cx="6.9" cy="33.4" r="0.71" fill="#5868e0"/><circle cx="3.0" cy="9.8" r="0.91" fill="#4858d8"/><circle cx="58.2" cy="38.6" r="0.48" fill="#7484e8"/><circle cx="67.0" cy="49.3" r="0.84" fill="#5868e0"/><circle cx="64.2" cy="75.2" r="0.82" fill="#5868e0"/><circle cx="14.5" cy="74.1" r="0.70" fill="#6a78e6"/><circle cx="51.4" cy="54.4" r="0.56" fill="#4858d8"/><circle cx="45.7" cy="19.0" r="0.61" fill="#7484e8"/><circle cx="20.6" cy="61.6" r="0.52" fill="#7484e8"/><circle cx="72.2" cy="36.2" r="0.75" fill="#7484e8"/><circle cx="37.9" cy="24.1" r="0.47" fill="#6a78e6"/><circle cx="30.2" cy="48.1" r="0.59" fill="#4858d8"/><circle cx="67.1" cy="12.7" r="0.84" fill="#5868e0"/><circle cx="57.5" cy="3.7" r="0.88" fill="#8090ea"/><circle cx="41.6" cy="43.8" r="0.89" fill="#5868e0"/><circle cx="18.9" cy="40.4" r="0.88" fill="#4858d8"/><circle cx="19.8" cy="74.8" r="0.74" fill="#4858d8"/><circle cx="24.8" cy="6.1" r="0.57" fill="#7484e8"/><circle cx="55.7" cy="3.6" r="0.86" fill="#4858d8"/><circle cx="23.2" cy="72.9" r="0.89" fill="#4858d8"/><circle cx="54.9" cy="56.4" r="0.56" fill="#4858d8"/><circle cx="46.1" cy="32.6" r="0.71" fill="#5868e0"/><circle cx="9.9" cy="17.2" r="0.78" fill="#5868e0"/><circle cx="4.1" cy="42.8" r="0.60" fill="#7484e8"/><circle cx="26.8" cy="16.9" r="0.74" fill="#7484e8"/><circle cx="10.0" cy="27.7" r="0.86" fill="#6a78e6"/><circle cx="10.1" cy="70.7" r="0.57" fill="#6a78e6"/><circle cx="33.8" cy="4.8" r="0.52" fill="#4858d8"/><circle cx="30.1" cy="20.0" r="0.46" fill="#7484e8"/><circle cx="66.9" cy="44.9" r="0.74" fill="#7484e8"/><circle cx="70.2" cy="55.4" r="0.57" fill="#5868e0"/><circle cx="3.3" cy="40.1" r="0.65" fill="#6a78e6"/><circle cx="11.9" cy="68.8" r="0.50" fill="#7484e8"/><circle cx="41.3" cy="71.0" r="0.52" fill="#6a78e6"/><circle cx="38.8" cy="48.5" r="0.77" fill="#8090ea"/><circle cx="60.9" cy="13.2" r="0.60" fill="#4858d8"/><circle cx="46.9" cy="75.1" r="0.81" fill="#8090ea"/><circle cx="53.6" cy="0.5" r="0.87" fill="#8090ea"/><circle cx="6.0" cy="49.5" r="0.54" fill="#5868e0"/><circle cx="19.6" cy="48.6" r="0.51" fill="#4858d8"/><circle cx="53.3" cy="20.1" r="0.73" fill="#8090ea"/><circle cx="51.4" cy="69.3" r="0.94" fill="#4858d8"/><circle cx="48.1" cy="72.9" r="0.56" fill="#7484e8"/><circle cx="1.1" cy="19.7" r="0.57" fill="#6a78e6"/><circle cx="70.8" cy="56.3" r="0.61" fill="#8090ea"/><circle cx="24.6" cy="18.1" r="0.90" fill="#7484e8"/><circle cx="35.2" cy="63.4" r="0.80" fill="#5868e0"/><circle cx="32.7" cy="54.7" r="0.74" fill="#4858d8"/><circle cx="59.1" cy="29.6" r="0.74" fill="#7484e8"/><circle cx="68.2" cy="10.9" r="0.46" fill="#5868e0"/><circle cx="46.6" cy="12.2" r="0.94" fill="#5868e0"/><circle cx="2.3" cy="10.4" r="0.77" fill="#5868e0"/><circle cx="52.2" cy="55.6" r="0.48" fill="#7484e8"/><circle cx="57.1" cy="15.0" r="0.93" fill="#7484e8"/><circle cx="66.8" cy="5.0" r="0.88" fill="#8090ea"/><circle cx="8.0" cy="15.5" r="0.51" fill="#5868e0"/><circle cx="71.1" cy="68.8" r="0.83" fill="#5868e0"/><circle cx="61.8" cy="47.7" r="0.59" fill="#5868e0"/><circle cx="9.9" cy="59.8" r="0.77" fill="#4858d8"/><circle cx="23.9" cy="32.0" r="0.46" fill="#4858d8"/><circle cx="69.7" cy="3.7" r="0.83" fill="#4858d8"/><circle cx="57.6" cy="45.5" r="0.69" fill="#4858d8"/><circle cx="46.3" cy="2.3" r="0.66" fill="#8090ea"/><circle cx="38.8" cy="7.4" r="0.68" fill="#5868e0"/><circle cx="40.3" cy="16.4" r="0.88" fill="#5868e0"/><circle cx="43.0" cy="21.7" r="0.67" fill="#7484e8"/><circle cx="15.1" cy="57.5" r="0.94" fill="#5868e0"/></g>
</svg>
<svg x="104.6" y="439.6" width="74.40" height="75.50" viewBox="0 0 74.40 75.50" overflow="hidden">
<rect width="74.40" height="75.50" fill="#e7e7eb"/>
<g opacity="0.5" filter="url(#b08)"><ellipse cx="25.9" cy="7.2" rx="2.44" ry="2.64" fill="#8c98ee" transform="rotate(107 25.9 7.2)"/><ellipse cx="38.3" cy="43.6" rx="1.64" ry="2.62" fill="#3040d8" transform="rotate(42 38.3 43.6)"/><ellipse cx="36.5" cy="74.8" rx="2.24" ry="1.56" fill="#4c5ce0" transform="rotate(64 36.5 74.8)"/><ellipse cx="29.4" cy="67.2" rx="1.53" ry="2.73" fill="#6474e6" transform="rotate(67 29.4 67.2)"/><ellipse cx="12.7" cy="74.2" rx="2.35" ry="2.82" fill="#7a88ea" transform="rotate(96 12.7 74.2)"/><ellipse cx="56.0" cy="48.8" rx="1.92" ry="1.89" fill="#7a88ea" transform="rotate(156 56.0 48.8)"/><ellipse cx="41.2" cy="24.4" rx="2.09" ry="2.43" fill="#4c5ce0" transform="rotate(104 41.2 24.4)"/><ellipse cx="17.7" cy="14.5" rx="1.85" ry="2.45" fill="#5566e4" transform="rotate(28 17.7 14.5)"/><ellipse cx="38.9" cy="12.1" rx="1.89" ry="1.68" fill="#3040d8" transform="rotate(179 38.9 12.1)"/><ellipse cx="11.2" cy="11.2" rx="1.85" ry="1.85" fill="#4c5ce0" transform="rotate(35 11.2 11.2)"/><ellipse cx="8.0" cy="15.6" rx="1.98" ry="1.45" fill="#8c98ee" transform="rotate(154 8.0 15.6)"/><ellipse cx="16.6" cy="74.1" rx="1.84" ry="1.43" fill="#4c5ce0" transform="rotate(109 16.6 74.1)"/><ellipse cx="55.1" cy="68.6" rx="2.05" ry="2.26" fill="#3040d8" transform="rotate(116 55.1 68.6)"/><ellipse cx="49.7" cy="49.3" rx="2.72" ry="2.36" fill="#5566e4" transform="rotate(153 49.7 49.3)"/><ellipse cx="47.7" cy="34.3" rx="1.87" ry="2.34" fill="#6474e6" transform="rotate(161 47.7 34.3)"/><ellipse cx="11.6" cy="64.1" rx="2.12" ry="1.43" fill="#8c98ee" transform="rotate(93 11.6 64.1)"/><ellipse cx="65.0" cy="67.5" rx="1.89" ry="1.42" fill="#8c98ee" transform="rotate(163 65.0 67.5)"/><ellipse cx="53.3" cy="71.8" rx="1.70" ry="1.92" fill="#5566e4" transform="rotate(82 53.3 71.8)"/><ellipse cx="59.0" cy="27.9" rx="1.91" ry="2.51" fill="#8c98ee" transform="rotate(38 59.0 27.9)"/><ellipse cx="29.2" cy="57.6" rx="1.58" ry="2.88" fill="#4c5ce0" transform="rotate(115 29.2 57.6)"/><ellipse cx="5.6" cy="69.1" rx="2.34" ry="2.41" fill="#5566e4" transform="rotate(48 5.6 69.1)"/><ellipse cx="39.2" cy="16.5" rx="2.60" ry="1.99" fill="#7a88ea" transform="rotate(30 39.2 16.5)"/><ellipse cx="5.1" cy="60.3" rx="1.69" ry="2.36" fill="#3040d8" transform="rotate(41 5.1 60.3)"/><ellipse cx="26.3" cy="48.2" rx="2.63" ry="2.62" fill="#8c98ee" transform="rotate(179 26.3 48.2)"/><ellipse cx="48.3" cy="58.9" rx="2.10" ry="2.58" fill="#7a88ea" transform="rotate(48 48.3 58.9)"/><ellipse cx="13.8" cy="0.2" rx="2.48" ry="1.82" fill="#7a88ea" transform="rotate(118 13.8 0.2)"/><ellipse cx="6.4" cy="67.7" rx="1.63" ry="1.85" fill="#8c98ee" transform="rotate(10 6.4 67.7)"/><ellipse cx="67.4" cy="59.2" rx="1.61" ry="2.65" fill="#3040d8" transform="rotate(105 67.4 59.2)"/><ellipse cx="15.6" cy="5.4" rx="1.84" ry="2.31" fill="#5566e4" transform="rotate(26 15.6 5.4)"/><ellipse cx="11.4" cy="68.3" rx="2.59" ry="1.65" fill="#3040d8" transform="rotate(110 11.4 68.3)"/><ellipse cx="49.7" cy="67.5" rx="2.58" ry="2.66" fill="#7a88ea" transform="rotate(89 49.7 67.5)"/><ellipse cx="49.9" cy="8.8" rx="1.58" ry="2.03" fill="#7a88ea" transform="rotate(85 49.9 8.8)"/><ellipse cx="36.0" cy="68.4" rx="2.45" ry="1.77" fill="#7a88ea" transform="rotate(97 36.0 68.4)"/><ellipse cx="0.5" cy="63.5" rx="2.10" ry="2.24" fill="#3040d8" transform="rotate(53 0.5 63.5)"/><ellipse cx="31.7" cy="75.5" rx="2.41" ry="1.67" fill="#4c5ce0" transform="rotate(115 31.7 75.5)"/><ellipse cx="69.3" cy="24.9" rx="2.87" ry="2.17" fill="#8c98ee" transform="rotate(136 69.3 24.9)"/><ellipse cx="9.4" cy="7.1" rx="2.39" ry="1.91" fill="#5566e4" transform="rotate(100 9.4 7.1)"/><ellipse cx="21.1" cy="25.8" rx="1.78" ry="1.48" fill="#4c5ce0" transform="rotate(53 21.1 25.8)"/><ellipse cx="30.0" cy="38.0" rx="1.81" ry="2.16" fill="#7a88ea" transform="rotate(118 30.0 38.0)"/><ellipse cx="24.6" cy="23.9" rx="1.85" ry="2.28" fill="#3040d8" transform="rotate(16 24.6 23.9)"/><ellipse cx="29.7" cy="41.8" rx="2.01" ry="2.26" fill="#8c98ee" transform="rotate(54 29.7 41.8)"/><ellipse cx="45.3" cy="49.7" rx="2.58" ry="2.76" fill="#5566e4" transform="rotate(68 45.3 49.7)"/><ellipse cx="65.2" cy="6.3" rx="1.46" ry="2.35" fill="#3040d8" transform="rotate(137 65.2 6.3)"/><ellipse cx="57.6" cy="69.0" rx="2.38" ry="1.95" fill="#7a88ea" transform="rotate(142 57.6 69.0)"/><ellipse cx="19.2" cy="22.8" rx="2.03" ry="1.88" fill="#8c98ee" transform="rotate(102 19.2 22.8)"/><ellipse cx="68.0" cy="37.6" rx="2.18" ry="2.64" fill="#8c98ee" transform="rotate(104 68.0 37.6)"/></g>
<g opacity="0.6" filter="url(#b05)"><ellipse cx="38.9" cy="44.0" rx="0.82" ry="1.63" fill="#3a4ade" transform="rotate(42 38.3 43.6)"/><ellipse cx="29.3" cy="67.3" rx="0.76" ry="1.69" fill="#3a4ade" transform="rotate(67 29.4 67.2)"/><ellipse cx="41.2" cy="24.9" rx="1.05" ry="1.51" fill="#3a4ade" transform="rotate(104 41.2 24.4)"/><ellipse cx="17.4" cy="14.3" rx="0.93" ry="1.52" fill="#3a4ade" transform="rotate(28 17.7 14.5)"/><ellipse cx="39.0" cy="11.8" rx="0.95" ry="1.04" fill="#3a4ade" transform="rotate(179 38.9 12.1)"/><ellipse cx="47.6" cy="34.5" rx="0.93" ry="1.45" fill="#3a4ade" transform="rotate(161 47.7 34.3)"/><ellipse cx="64.7" cy="67.2" rx="0.95" ry="0.88" fill="#3a4ade" transform="rotate(163 65.0 67.5)"/><ellipse cx="53.3" cy="71.2" rx="0.85" ry="1.19" fill="#3a4ade" transform="rotate(82 53.3 71.8)"/><ellipse cx="29.1" cy="57.1" rx="0.79" ry="1.78" fill="#3a4ade" transform="rotate(115 29.2 57.6)"/><ellipse cx="5.9" cy="69.6" rx="1.17" ry="1.50" fill="#3a4ade" transform="rotate(48 5.6 69.1)"/><ellipse cx="48.0" cy="58.8" rx="1.05" ry="1.60" fill="#3a4ade" transform="rotate(48 48.3 58.9)"/><ellipse cx="13.8" cy="0.4" rx="1.24" ry="1.13" fill="#3a4ade" transform="rotate(118 13.8 0.2)"/><ellipse cx="15.9" cy="5.3" rx="0.92" ry="1.43" fill="#3a4ade" transform="rotate(26 15.6 5.4)"/><ellipse cx="49.2" cy="67.9" rx="1.29" ry="1.65" fill="#3a4ade" transform="rotate(89 49.7 67.5)"/><ellipse cx="31.8" cy="75.7" rx="1.21" ry="1.04" fill="#3a4ade" transform="rotate(115 31.7 75.5)"/><ellipse cx="69.0" cy="24.8" rx="1.44" ry="1.34" fill="#3a4ade" transform="rotate(136 69.3 24.9)"/><ellipse cx="29.3" cy="42.4" rx="1.00" ry="1.40" fill="#3a4ade" transform="rotate(54 29.7 41.8)"/><ellipse cx="45.5" cy="49.9" rx="1.29" ry="1.71" fill="#3a4ade" transform="rotate(68 45.3 49.7)"/><ellipse cx="64.8" cy="5.7" rx="0.73" ry="1.46" fill="#3a4ade" transform="rotate(137 65.2 6.3)"/></g>
</svg>
<svg x="181" y="439.6" width="75.10" height="75.50" viewBox="0 0 75.10 75.50" overflow="hidden">
<rect width="75.10" height="75.50" fill="#e7e7eb"/>
<g opacity="0.72" filter="url(#b03)"><circle cx="33.5" cy="1.1" r="0.64" fill="#7484e8"/><circle cx="74.6" cy="49.8" r="0.53" fill="#8090ea"/><circle cx="41.2" cy="6.3" r="0.69" fill="#6a78e6"/><circle cx="47.1" cy="32.2" r="0.45" fill="#5868e0"/><circle cx="74.1" cy="64.8" r="0.56" fill="#5868e0"/><circle cx="9.7" cy="1.3" r="0.81" fill="#6a78e6"/><circle cx="33.9" cy="56.2" r="0.91" fill="#4858d8"/><circle cx="58.1" cy="53.9" r="0.88" fill="#5868e0"/><circle cx="22.0" cy="42.1" r="0.70" fill="#4858d8"/><circle cx="68.6" cy="4.0" r="0.47" fill="#5868e0"/><circle cx="1.1" cy="49.1" r="0.86" fill="#5868e0"/><circle cx="29.2" cy="23.6" r="0.75" fill="#8090ea"/><circle cx="45.7" cy="23.9" r="0.92" fill="#8090ea"/><circle cx="35.3" cy="12.6" r="0.93" fill="#5868e0"/><circle cx="27.3" cy="48.7" r="0.76" fill="#8090ea"/><circle cx="35.8" cy="58.7" r="0.68" fill="#4858d8"/><circle cx="58.9" cy="42.8" r="0.60" fill="#5868e0"/><circle cx="46.7" cy="49.1" r="0.85" fill="#7484e8"/><circle cx="24.9" cy="45.7" r="0.94" fill="#6a78e6"/><circle cx="45.1" cy="23.3" r="0.66" fill="#6a78e6"/><circle cx="28.3" cy="51.7" r="0.75" fill="#6a78e6"/><circle cx="60.6" cy="21.4" r="0.45" fill="#4858d8"/><circle cx="20.1" cy="11.9" r="0.91" fill="#5868e0"/><circle cx="21.7" cy="10.6" r="0.90" fill="#7484e8"/><circle cx="11.0" cy="73.6" r="0.85" fill="#7484e8"/><circle cx="51.4" cy="69.0" r="0.62" fill="#5868e0"/><circle cx="40.6" cy="36.6" r="0.64" fill="#6a78e6"/><circle cx="23.2" cy="4.3" r="0.65" fill="#6a78e6"/><circle cx="69.5" cy="44.3" r="0.45" fill="#8090ea"/><circle cx="34.5" cy="6.6" r="0.85" fill="#5868e0"/><circle cx="17.5" cy="43.8" r="0.90" fill="#7484e8"/><circle cx="24.1" cy="38.2" r="0.55" fill="#6a78e6"/><circle cx="14.4" cy="13.6" r="0.80" fill="#4858d8"/><circle cx="43.4" cy="27.1" r="0.84" fill="#6a78e6"/><circle cx="18.5" cy="69.7" r="0.70" fill="#5868e0"/><circle cx="27.9" cy="35.0" r="0.49" fill="#4858d8"/><circle cx="44.9" cy="26.0" r="0.71" fill="#5868e0"/><circle cx="7.1" cy="15.5" r="0.89" fill="#7484e8"/><circle cx="36.5" cy="42.8" r="0.58" fill="#4858d8"/><circle cx="32.0" cy="71.5" r="0.83" fill="#7484e8"/><circle cx="72.4" cy="19.2" r="0.47" fill="#6a78e6"/><circle cx="74.7" cy="28.6" r="0.46" fill="#5868e0"/><circle cx="41.9" cy="65.7" r="0.68" fill="#5868e0"/><circle cx="64.8" cy="48.3" r="0.91" fill="#5868e0"/><circle cx="19.3" cy="42.6" r="0.77" fill="#7484e8"/><circle cx="29.5" cy="33.8" r="0.53" fill="#6a78e6"/><circle cx="74.5" cy="16.7" r="0.47" fill="#4858d8"/><circle cx="70.7" cy="4.5" r="0.73" fill="#5868e0"/><circle cx="62.9" cy="3.6" r="0.84" fill="#8090ea"/><circle cx="4.2" cy="10.9" r="0.83" fill="#6a78e6"/><circle cx="50.8" cy="22.6" r="0.75" fill="#5868e0"/><circle cx="35.4" cy="28.1" r="0.65" fill="#4858d8"/><circle cx="36.1" cy="12.7" r="0.57" fill="#6a78e6"/><circle cx="68.7" cy="67.4" r="0.68" fill="#6a78e6"/><circle cx="60.0" cy="11.9" r="0.87" fill="#5868e0"/><circle cx="70.1" cy="65.4" r="0.89" fill="#6a78e6"/><circle cx="58.5" cy="72.3" r="0.91" fill="#8090ea"/><circle cx="63.3" cy="47.4" r="0.68" fill="#4858d8"/><circle cx="24.2" cy="17.7" r="0.51" fill="#4858d8"/><circle cx="10.7" cy="16.7" r="0.48" fill="#8090ea"/><circle cx="41.6" cy="10.9" r="0.89" fill="#4858d8"/><circle cx="31.4" cy="18.6" r="0.46" fill="#7484e8"/><circle cx="63.1" cy="25.3" r="0.53" fill="#8090ea"/><circle cx="8.2" cy="34.4" r="0.69" fill="#6a78e6"/><circle cx="73.5" cy="4.3" r="0.90" fill="#6a78e6"/><circle cx="42.1" cy="63.1" r="0.51" fill="#6a78e6"/><circle cx="72.9" cy="32.6" r="0.58" fill="#6a78e6"/><circle cx="69.5" cy="7.4" r="0.59" fill="#6a78e6"/><circle cx="4.3" cy="54.8" r="0.60" fill="#5868e0"/><circle cx="33.2" cy="38.3" r="0.71" fill="#8090ea"/><circle cx="0.1" cy="62.8" r="0.71" fill="#6a78e6"/><circle cx="27.0" cy="3.1" r="0.65" fill="#4858d8"/><circle cx="42.9" cy="10.4" r="0.54" fill="#6a78e6"/><circle cx="53.4" cy="14.9" r="0.49" fill="#5868e0"/><circle cx="66.8" cy="55.2" r="0.83" fill="#6a78e6"/><circle cx="15.5" cy="46.2" r="0.80" fill="#6a78e6"/><circle cx="43.8" cy="15.3" r="0.48" fill="#7484e8"/><circle cx="30.7" cy="54.5" r="0.48" fill="#4858d8"/><circle cx="25.2" cy="63.6" r="0.88" fill="#8090ea"/><circle cx="6.8" cy="30.9" r="0.83" fill="#6a78e6"/><circle cx="65.5" cy="20.1" r="0.54" fill="#4858d8"/><circle cx="2.8" cy="53.0" r="0.74" fill="#5868e0"/><circle cx="26.7" cy="70.4" r="0.93" fill="#5868e0"/><circle cx="9.1" cy="54.0" r="0.86" fill="#4858d8"/><circle cx="58.5" cy="65.5" r="0.74" fill="#5868e0"/><circle cx="21.9" cy="8.1" r="0.82" fill="#8090ea"/><circle cx="38.5" cy="40.1" r="0.72" fill="#5868e0"/><circle cx="18.3" cy="6.7" r="0.76" fill="#6a78e6"/><circle cx="7.7" cy="18.9" r="0.86" fill="#5868e0"/><circle cx="1.5" cy="69.9" r="0.82" fill="#4858d8"/><circle cx="1.3" cy="45.3" r="0.74" fill="#7484e8"/><circle cx="17.9" cy="33.5" r="0.63" fill="#5868e0"/><circle cx="53.9" cy="3.4" r="0.51" fill="#8090ea"/><circle cx="44.0" cy="57.5" r="0.51" fill="#5868e0"/><circle cx="30.5" cy="10.3" r="0.75" fill="#6a78e6"/><circle cx="11.1" cy="43.2" r="0.82" fill="#6a78e6"/><circle cx="71.2" cy="1.4" r="0.77" fill="#8090ea"/><circle cx="44.8" cy="45.5" r="0.47" fill="#5868e0"/><circle cx="58.3" cy="25.6" r="0.57" fill="#4858d8"/><circle cx="53.7" cy="63.6" r="0.73" fill="#4858d8"/><circle cx="61.2" cy="64.0" r="0.48" fill="#7484e8"/><circle cx="11.0" cy="51.4" r="0.63" fill="#8090ea"/><circle cx="49.8" cy="0.9" r="0.50" fill="#6a78e6"/><circle cx="5.2" cy="32.7" r="0.70" fill="#5868e0"/><circle cx="16.9" cy="31.8" r="0.65" fill="#8090ea"/><circle cx="47.6" cy="61.1" r="0.89" fill="#5868e0"/><circle cx="2.6" cy="48.4" r="0.58" fill="#7484e8"/><circle cx="20.5" cy="40.9" r="0.91" fill="#7484e8"/><circle cx="7.5" cy="9.2" r="0.46" fill="#6a78e6"/><circle cx="71.4" cy="21.7" r="0.60" fill="#6a78e6"/><circle cx="9.0" cy="44.9" r="0.93" fill="#7484e8"/><circle cx="67.7" cy="6.4" r="0.75" fill="#6a78e6"/><circle cx="33.0" cy="38.6" r="0.89" fill="#8090ea"/><circle cx="43.4" cy="20.7" r="0.82" fill="#7484e8"/><circle cx="21.6" cy="34.3" r="0.80" fill="#6a78e6"/><circle cx="48.8" cy="15.2" r="0.81" fill="#8090ea"/><circle cx="67.0" cy="22.9" r="0.69" fill="#4858d8"/><circle cx="2.3" cy="25.2" r="0.54" fill="#7484e8"/><circle cx="28.8" cy="44.2" r="0.46" fill="#4858d8"/><circle cx="12.2" cy="71.9" r="0.61" fill="#4858d8"/><circle cx="36.9" cy="21.5" r="0.94" fill="#4858d8"/><circle cx="4.3" cy="1.6" r="0.73" fill="#7484e8"/><circle cx="65.4" cy="33.2" r="0.48" fill="#8090ea"/><circle cx="62.7" cy="26.7" r="0.83" fill="#7484e8"/><circle cx="16.9" cy="72.4" r="0.82" fill="#6a78e6"/><circle cx="31.3" cy="50.5" r="0.52" fill="#6a78e6"/><circle cx="46.3" cy="64.2" r="0.86" fill="#7484e8"/><circle cx="7.1" cy="64.6" r="0.91" fill="#8090ea"/><circle cx="20.2" cy="47.6" r="0.77" fill="#6a78e6"/><circle cx="31.0" cy="7.8" r="0.66" fill="#7484e8"/><circle cx="44.0" cy="37.6" r="0.93" fill="#7484e8"/><circle cx="11.2" cy="64.2" r="0.59" fill="#7484e8"/><circle cx="45.6" cy="28.7" r="0.68" fill="#8090ea"/><circle cx="21.6" cy="26.6" r="0.63" fill="#7484e8"/><circle cx="41.7" cy="29.0" r="0.61" fill="#8090ea"/><circle cx="28.6" cy="22.7" r="0.72" fill="#6a78e6"/><circle cx="32.7" cy="28.5" r="0.57" fill="#4858d8"/><circle cx="24.3" cy="63.7" r="0.87" fill="#4858d8"/><circle cx="15.3" cy="32.2" r="0.91" fill="#5868e0"/><circle cx="1.9" cy="19.4" r="0.90" fill="#4858d8"/><circle cx="69.1" cy="58.4" r="0.72" fill="#8090ea"/><circle cx="38.9" cy="39.1" r="0.79" fill="#8090ea"/><circle cx="34.9" cy="3.1" r="0.79" fill="#8090ea"/><circle cx="71.2" cy="51.1" r="0.71" fill="#5868e0"/><circle cx="30.8" cy="37.8" r="0.77" fill="#7484e8"/><circle cx="11.6" cy="14.2" r="0.66" fill="#8090ea"/><circle cx="33.1" cy="47.2" r="0.95" fill="#4858d8"/><circle cx="51.9" cy="56.4" r="0.50" fill="#4858d8"/><circle cx="23.9" cy="73.9" r="0.86" fill="#7484e8"/><circle cx="13.2" cy="49.5" r="0.60" fill="#4858d8"/><circle cx="61.6" cy="74.8" r="0.89" fill="#8090ea"/><circle cx="47.4" cy="39.6" r="0.86" fill="#6a78e6"/><circle cx="37.9" cy="14.2" r="0.54" fill="#7484e8"/><circle cx="45.3" cy="26.7" r="0.95" fill="#5868e0"/><circle cx="51.9" cy="0.8" r="0.45" fill="#7484e8"/><circle cx="0.3" cy="23.0" r="0.87" fill="#7484e8"/><circle cx="1.2" cy="2.2" r="0.54" fill="#7484e8"/><circle cx="42.6" cy="65.8" r="0.90" fill="#7484e8"/><circle cx="74.9" cy="43.4" r="0.66" fill="#5868e0"/><circle cx="10.9" cy="39.1" r="0.70" fill="#5868e0"/><circle cx="7.5" cy="12.9" r="0.71" fill="#8090ea"/><circle cx="46.0" cy="60.9" r="0.48" fill="#5868e0"/><circle cx="51.4" cy="43.7" r="0.52" fill="#6a78e6"/><circle cx="26.6" cy="12.8" r="0.58" fill="#5868e0"/><circle cx="64.5" cy="71.6" r="0.48" fill="#6a78e6"/><circle cx="33.8" cy="29.1" r="0.48" fill="#8090ea"/><circle cx="43.8" cy="72.5" r="0.67" fill="#7484e8"/><circle cx="17.9" cy="16.8" r="0.53" fill="#7484e8"/><circle cx="64.2" cy="23.8" r="0.90" fill="#8090ea"/><circle cx="22.8" cy="45.5" r="0.93" fill="#8090ea"/><circle cx="73.6" cy="5.1" r="0.79" fill="#7484e8"/><circle cx="16.6" cy="23.3" r="0.89" fill="#8090ea"/><circle cx="1.7" cy="65.6" r="0.49" fill="#6a78e6"/><circle cx="26.9" cy="14.1" r="0.94" fill="#4858d8"/><circle cx="29.7" cy="27.4" r="0.62" fill="#8090ea"/><circle cx="25.2" cy="49.2" r="0.93" fill="#8090ea"/><circle cx="62.0" cy="26.5" r="0.57" fill="#6a78e6"/><circle cx="35.1" cy="26.0" r="0.67" fill="#4858d8"/><circle cx="49.9" cy="25.8" r="0.53" fill="#6a78e6"/><circle cx="7.0" cy="20.4" r="0.87" fill="#6a78e6"/><circle cx="41.7" cy="35.3" r="0.85" fill="#6a78e6"/><circle cx="12.0" cy="26.6" r="0.81" fill="#8090ea"/><circle cx="47.3" cy="43.8" r="0.60" fill="#8090ea"/><circle cx="37.9" cy="17.2" r="0.68" fill="#6a78e6"/><circle cx="70.8" cy="75.3" r="0.75" fill="#8090ea"/><circle cx="44.1" cy="27.8" r="0.57" fill="#7484e8"/><circle cx="38.3" cy="9.5" r="0.83" fill="#7484e8"/><circle cx="6.9" cy="64.3" r="0.82" fill="#8090ea"/><circle cx="2.2" cy="54.2" r="0.52" fill="#5868e0"/><circle cx="29.3" cy="6.5" r="0.54" fill="#6a78e6"/><circle cx="24.1" cy="50.0" r="0.50" fill="#7484e8"/><circle cx="68.6" cy="60.8" r="0.83" fill="#6a78e6"/><circle cx="4.9" cy="23.5" r="0.56" fill="#6a78e6"/><circle cx="61.3" cy="30.1" r="0.63" fill="#8090ea"/><circle cx="58.2" cy="66.6" r="0.88" fill="#6a78e6"/><circle cx="70.3" cy="13.3" r="0.63" fill="#4858d8"/><circle cx="67.4" cy="1.9" r="0.80" fill="#8090ea"/><circle cx="18.7" cy="63.9" r="0.63" fill="#5868e0"/><circle cx="13.6" cy="8.7" r="0.91" fill="#6a78e6"/><circle cx="53.5" cy="3.1" r="0.47" fill="#6a78e6"/><circle cx="32.3" cy="57.2" r="0.53" fill="#5868e0"/><circle cx="41.5" cy="47.5" r="0.92" fill="#7484e8"/><circle cx="63.0" cy="43.0" r="0.81" fill="#4858d8"/><circle cx="69.5" cy="50.6" r="0.74" fill="#5868e0"/><circle cx="8.4" cy="57.7" r="0.78" fill="#5868e0"/><circle cx="65.7" cy="44.2" r="0.80" fill="#6a78e6"/><circle cx="51.1" cy="2.8" r="0.61" fill="#4858d8"/><circle cx="56.3" cy="6.5" r="0.80" fill="#8090ea"/><circle cx="75.0" cy="46.5" r="0.56" fill="#7484e8"/><circle cx="6.8" cy="71.5" r="0.66" fill="#4858d8"/><circle cx="51.9" cy="55.8" r="0.86" fill="#8090ea"/><circle cx="38.2" cy="51.1" r="0.55" fill="#7484e8"/><circle cx="63.6" cy="58.8" r="0.69" fill="#6a78e6"/><circle cx="3.3" cy="53.1" r="0.85" fill="#4858d8"/><circle cx="13.1" cy="12.4" r="0.84" fill="#6a78e6"/><circle cx="40.8" cy="18.9" r="0.48" fill="#4858d8"/><circle cx="26.1" cy="7.0" r="0.77" fill="#6a78e6"/><circle cx="10.3" cy="53.4" r="0.79" fill="#6a78e6"/><circle cx="53.0" cy="0.4" r="0.80" fill="#6a78e6"/><circle cx="70.3" cy="26.5" r="0.60" fill="#6a78e6"/><circle cx="44.1" cy="18.2" r="0.76" fill="#5868e0"/><circle cx="41.2" cy="57.4" r="0.53" fill="#6a78e6"/><circle cx="45.0" cy="34.8" r="0.83" fill="#6a78e6"/><circle cx="8.6" cy="21.8" r="0.63" fill="#6a78e6"/><circle cx="3.3" cy="67.6" r="0.60" fill="#5868e0"/><circle cx="52.7" cy="33.8" r="0.51" fill="#4858d8"/><circle cx="33.4" cy="43.0" r="0.59" fill="#7484e8"/><circle cx="5.4" cy="0.8" r="0.95" fill="#8090ea"/><circle cx="6.3" cy="54.1" r="0.94" fill="#7484e8"/><circle cx="19.9" cy="48.7" r="0.93" fill="#8090ea"/><circle cx="14.3" cy="41.0" r="0.45" fill="#5868e0"/><circle cx="48.4" cy="47.4" r="0.92" fill="#4858d8"/><circle cx="49.0" cy="5.9" r="0.82" fill="#5868e0"/><circle cx="58.2" cy="63.4" r="0.60" fill="#6a78e6"/><circle cx="72.2" cy="39.7" r="0.90" fill="#6a78e6"/><circle cx="7.7" cy="54.3" r="0.61" fill="#7484e8"/><circle cx="24.5" cy="13.9" r="0.86" fill="#4858d8"/><circle cx="17.3" cy="10.3" r="0.91" fill="#4858d8"/><circle cx="18.0" cy="3.1" r="0.73" fill="#8090ea"/><circle cx="68.0" cy="71.3" r="0.70" fill="#8090ea"/><circle cx="54.9" cy="75.2" r="0.75" fill="#5868e0"/><circle cx="10.7" cy="17.2" r="0.52" fill="#8090ea"/><circle cx="6.7" cy="3.0" r="0.67" fill="#6a78e6"/><circle cx="16.4" cy="28.1" r="0.47" fill="#7484e8"/><circle cx="64.2" cy="59.4" r="0.66" fill="#4858d8"/><circle cx="5.4" cy="4.2" r="0.81" fill="#4858d8"/><circle cx="4.7" cy="0.7" r="0.93" fill="#6a78e6"/><circle cx="67.9" cy="12.4" r="0.60" fill="#8090ea"/><circle cx="60.4" cy="51.0" r="0.73" fill="#8090ea"/><circle cx="6.4" cy="24.4" r="0.68" fill="#7484e8"/><circle cx="68.2" cy="65.3" r="0.94" fill="#7484e8"/><circle cx="46.6" cy="61.2" r="0.48" fill="#4858d8"/><circle cx="45.7" cy="22.4" r="0.74" fill="#4858d8"/><circle cx="36.1" cy="48.9" r="0.60" fill="#4858d8"/><circle cx="39.8" cy="47.8" r="0.87" fill="#6a78e6"/><circle cx="51.0" cy="33.8" r="0.49" fill="#7484e8"/><circle cx="27.9" cy="43.8" r="0.66" fill="#7484e8"/><circle cx="18.0" cy="33.3" r="0.58" fill="#6a78e6"/><circle cx="13.6" cy="67.2" r="0.72" fill="#5868e0"/><circle cx="16.6" cy="63.2" r="0.77" fill="#6a78e6"/><circle cx="39.9" cy="19.0" r="0.69" fill="#7484e8"/><circle cx="34.4" cy="40.9" r="0.80" fill="#7484e8"/><circle cx="68.3" cy="42.8" r="0.88" fill="#5868e0"/><circle cx="60.1" cy="10.1" r="0.70" fill="#7484e8"/><circle cx="53.7" cy="57.1" r="0.51" fill="#7484e8"/><circle cx="7.7" cy="62.7" r="0.65" fill="#6a78e6"/><circle cx="72.7" cy="14.5" r="0.69" fill="#5868e0"/><circle cx="10.3" cy="58.6" r="0.48" fill="#6a78e6"/><circle cx="3.5" cy="3.2" r="0.80" fill="#6a78e6"/><circle cx="34.5" cy="9.1" r="0.52" fill="#5868e0"/><circle cx="46.6" cy="65.8" r="0.73" fill="#4858d8"/><circle cx="12.6" cy="56.3" r="0.62" fill="#5868e0"/><circle cx="62.0" cy="9.3" r="0.64" fill="#7484e8"/><circle cx="71.2" cy="54.5" r="0.47" fill="#7484e8"/><circle cx="26.5" cy="26.9" r="0.61" fill="#7484e8"/><circle cx="8.5" cy="69.9" r="0.79" fill="#4858d8"/><circle cx="26.6" cy="52.4" r="0.46" fill="#7484e8"/><circle cx="33.0" cy="59.7" r="0.69" fill="#5868e0"/><circle cx="60.1" cy="14.0" r="0.73" fill="#4858d8"/><circle cx="65.6" cy="50.6" r="0.87" fill="#7484e8"/><circle cx="65.7" cy="40.7" r="0.79" fill="#4858d8"/><circle cx="71.3" cy="1.0" r="0.62" fill="#6a78e6"/><circle cx="36.6" cy="36.5" r="0.47" fill="#5868e0"/><circle cx="5.6" cy="46.8" r="0.77" fill="#7484e8"/><circle cx="29.5" cy="35.9" r="0.53" fill="#8090ea"/><circle cx="29.5" cy="65.9" r="0.76" fill="#5868e0"/><circle cx="27.1" cy="39.9" r="0.61" fill="#6a78e6"/><circle cx="44.3" cy="3.3" r="0.53" fill="#4858d8"/><circle cx="54.6" cy="25.0" r="0.68" fill="#4858d8"/><circle cx="23.6" cy="25.3" r="0.69" fill="#6a78e6"/><circle cx="1.5" cy="34.7" r="0.94" fill="#5868e0"/><circle cx="47.4" cy="54.9" r="0.52" fill="#8090ea"/><circle cx="20.5" cy="37.8" r="0.58" fill="#7484e8"/><circle cx="43.1" cy="44.1" r="0.52" fill="#5868e0"/><circle cx="68.7" cy="68.1" r="0.50" fill="#6a78e6"/><circle cx="58.1" cy="47.8" r="0.77" fill="#4858d8"/><circle cx="59.5" cy="59.9" r="0.57" fill="#6a78e6"/><circle cx="51.2" cy="23.0" r="0.83" fill="#4858d8"/><circle cx="38.2" cy="48.0" r="0.63" fill="#7484e8"/><circle cx="53.7" cy="25.2" r="0.80" fill="#4858d8"/><circle cx="66.4" cy="59.1" r="0.70" fill="#6a78e6"/><circle cx="60.8" cy="75.2" r="0.53" fill="#6a78e6"/><circle cx="0.5" cy="65.8" r="0.68" fill="#8090ea"/><circle cx="29.7" cy="58.3" r="0.91" fill="#7484e8"/><circle cx="5.0" cy="22.8" r="0.60" fill="#7484e8"/><circle cx="41.4" cy="70.8" r="0.62" fill="#6a78e6"/><circle cx="43.8" cy="6.0" r="0.54" fill="#7484e8"/><circle cx="26.5" cy="35.3" r="0.94" fill="#8090ea"/><circle cx="54.2" cy="69.6" r="0.87" fill="#4858d8"/><circle cx="67.5" cy="20.8" r="0.58" fill="#5868e0"/><circle cx="57.0" cy="47.3" r="0.57" fill="#5868e0"/><circle cx="16.4" cy="30.2" r="0.55" fill="#7484e8"/><circle cx="21.2" cy="37.9" r="0.50" fill="#6a78e6"/><circle cx="55.1" cy="72.7" r="0.75" fill="#5868e0"/><circle cx="5.5" cy="61.6" r="0.74" fill="#6a78e6"/><circle cx="0.4" cy="20.4" r="0.77" fill="#5868e0"/><circle cx="48.1" cy="69.7" r="0.56" fill="#4858d8"/><circle cx="65.2" cy="2.0" r="0.69" fill="#7484e8"/><circle cx="51.0" cy="25.5" r="0.48" fill="#8090ea"/><circle cx="59.8" cy="6.6" r="0.76" fill="#8090ea"/><circle cx="74.2" cy="30.2" r="0.92" fill="#5868e0"/><circle cx="1.9" cy="23.9" r="0.78" fill="#4858d8"/><circle cx="4.2" cy="46.4" r="0.81" fill="#4858d8"/><circle cx="11.8" cy="1.4" r="0.56" fill="#7484e8"/><circle cx="57.6" cy="6.8" r="0.86" fill="#8090ea"/><circle cx="25.8" cy="51.4" r="0.88" fill="#6a78e6"/><circle cx="49.4" cy="45.4" r="0.62" fill="#7484e8"/><circle cx="19.4" cy="53.7" r="0.83" fill="#4858d8"/><circle cx="48.9" cy="41.5" r="0.80" fill="#7484e8"/><circle cx="20.9" cy="39.5" r="0.92" fill="#6a78e6"/></g>
</svg>
<svg x="257.5" y="439.6" width="75.30" height="75.50" viewBox="0 0 75.30 75.50" overflow="hidden">
<rect width="75.30" height="75.50" fill="#e7e7eb"/>
<g opacity="0.5" filter="url(#b08)"><ellipse cx="19.0" cy="42.1" rx="1.55" ry="2.61" fill="#4c5ce0" transform="rotate(27 19.0 42.1)"/><ellipse cx="30.2" cy="73.9" rx="2.81" ry="2.34" fill="#6474e6" transform="rotate(11 30.2 73.9)"/><ellipse cx="41.8" cy="13.7" rx="2.81" ry="1.95" fill="#7a88ea" transform="rotate(163 41.8 13.7)"/><ellipse cx="64.4" cy="58.8" rx="2.19" ry="1.93" fill="#3040d8" transform="rotate(44 64.4 58.8)"/><ellipse cx="37.6" cy="48.0" rx="1.92" ry="2.60" fill="#8c98ee" transform="rotate(38 37.6 48.0)"/><ellipse cx="2.0" cy="49.8" rx="1.42" ry="2.61" fill="#8c98ee" transform="rotate(121 2.0 49.8)"/><ellipse cx="68.3" cy="28.4" rx="2.39" ry="2.69" fill="#6474e6" transform="rotate(45 68.3 28.4)"/><ellipse cx="15.3" cy="57.3" rx="2.36" ry="1.85" fill="#8c98ee" transform="rotate(39 15.3 57.3)"/><ellipse cx="11.8" cy="65.2" rx="2.70" ry="1.80" fill="#7a88ea" transform="rotate(148 11.8 65.2)"/><ellipse cx="67.1" cy="12.2" rx="2.42" ry="2.30" fill="#8c98ee" transform="rotate(38 67.1 12.2)"/><ellipse cx="55.4" cy="3.5" rx="2.56" ry="2.06" fill="#8c98ee" transform="rotate(156 55.4 3.5)"/><ellipse cx="22.4" cy="1.8" rx="1.57" ry="2.86" fill="#6474e6" transform="rotate(24 22.4 1.8)"/><ellipse cx="56.6" cy="35.1" rx="2.00" ry="2.02" fill="#3040d8" transform="rotate(165 56.6 35.1)"/><ellipse cx="66.4" cy="74.0" rx="1.45" ry="1.75" fill="#3040d8" transform="rotate(124 66.4 74.0)"/><ellipse cx="32.4" cy="7.9" rx="1.43" ry="2.89" fill="#4c5ce0" transform="rotate(12 32.4 7.9)"/><ellipse cx="39.6" cy="0.2" rx="1.74" ry="2.21" fill="#3040d8" transform="rotate(133 39.6 0.2)"/><ellipse cx="8.5" cy="26.7" rx="2.14" ry="2.78" fill="#4c5ce0" transform="rotate(175 8.5 26.7)"/><ellipse cx="73.2" cy="16.9" rx="1.51" ry="2.46" fill="#6474e6" transform="rotate(48 73.2 16.9)"/><ellipse cx="30.7" cy="42.0" rx="1.94" ry="1.42" fill="#3040d8" transform="rotate(7 30.7 42.0)"/><ellipse cx="21.2" cy="25.0" rx="2.02" ry="2.89" fill="#3040d8" transform="rotate(129 21.2 25.0)"/><ellipse cx="24.0" cy="31.6" rx="2.86" ry="1.98" fill="#8c98ee" transform="rotate(159 24.0 31.6)"/><ellipse cx="67.6" cy="47.9" rx="1.76" ry="2.15" fill="#4c5ce0" transform="rotate(125 67.6 47.9)"/><ellipse cx="74.6" cy="62.3" rx="2.40" ry="1.53" fill="#5566e4" transform="rotate(141 74.6 62.3)"/><ellipse cx="3.7" cy="52.4" rx="1.89" ry="2.37" fill="#5566e4" transform="rotate(120 3.7 52.4)"/><ellipse cx="43.5" cy="35.7" rx="2.37" ry="2.11" fill="#4c5ce0" transform="rotate(107 43.5 35.7)"/><ellipse cx="17.7" cy="47.5" rx="2.51" ry="1.97" fill="#3040d8" transform="rotate(12 17.7 47.5)"/><ellipse cx="20.1" cy="49.8" rx="2.64" ry="1.51" fill="#5566e4" transform="rotate(120 20.1 49.8)"/><ellipse cx="57.6" cy="19.8" rx="2.66" ry="2.69" fill="#4c5ce0" transform="rotate(94 57.6 19.8)"/><ellipse cx="16.7" cy="10.7" rx="2.79" ry="2.19" fill="#5566e4" transform="rotate(37 16.7 10.7)"/><ellipse cx="11.5" cy="50.0" rx="1.67" ry="2.82" fill="#3040d8" transform="rotate(156 11.5 50.0)"/><ellipse cx="61.6" cy="9.3" rx="1.63" ry="1.78" fill="#6474e6" transform="rotate(66 61.6 9.3)"/><ellipse cx="39.4" cy="22.8" rx="2.39" ry="1.81" fill="#4c5ce0" transform="rotate(179 39.4 22.8)"/><ellipse cx="33.8" cy="36.1" rx="2.60" ry="2.54" fill="#7a88ea" transform="rotate(1 33.8 36.1)"/><ellipse cx="46.9" cy="39.5" rx="2.60" ry="1.78" fill="#5566e4" transform="rotate(36 46.9 39.5)"/><ellipse cx="4.3" cy="13.5" rx="2.48" ry="1.81" fill="#4c5ce0" transform="rotate(46 4.3 13.5)"/><ellipse cx="37.2" cy="6.7" rx="1.59" ry="2.84" fill="#4c5ce0" transform="rotate(111 37.2 6.7)"/><ellipse cx="27.6" cy="53.8" rx="1.84" ry="2.01" fill="#3040d8" transform="rotate(109 27.6 53.8)"/><ellipse cx="9.7" cy="46.7" rx="2.87" ry="2.68" fill="#5566e4" transform="rotate(67 9.7 46.7)"/><ellipse cx="24.8" cy="5.3" rx="2.53" ry="1.97" fill="#5566e4" transform="rotate(75 24.8 5.3)"/><ellipse cx="48.4" cy="59.8" rx="1.56" ry="2.25" fill="#8c98ee" transform="rotate(126 48.4 59.8)"/><ellipse cx="74.9" cy="13.3" rx="1.50" ry="2.00" fill="#7a88ea" transform="rotate(92 74.9 13.3)"/><ellipse cx="50.5" cy="55.9" rx="2.00" ry="1.46" fill="#3040d8" transform="rotate(53 50.5 55.9)"/><ellipse cx="6.8" cy="64.0" rx="2.26" ry="1.42" fill="#8c98ee" transform="rotate(16 6.8 64.0)"/><ellipse cx="42.5" cy="4.2" rx="2.42" ry="2.47" fill="#8c98ee" transform="rotate(155 42.5 4.2)"/><ellipse cx="56.3" cy="63.7" rx="1.61" ry="2.01" fill="#6474e6" transform="rotate(157 56.3 63.7)"/><ellipse cx="0.5" cy="74.6" rx="1.81" ry="1.79" fill="#4c5ce0" transform="rotate(69 0.5 74.6)"/></g>
<g opacity="0.6" filter="url(#b05)"><ellipse cx="1.7" cy="49.7" rx="0.71" ry="1.62" fill="#3a4ade" transform="rotate(121 2.0 49.8)"/><ellipse cx="68.2" cy="28.0" rx="1.19" ry="1.67" fill="#3a4ade" transform="rotate(45 68.3 28.4)"/><ellipse cx="11.6" cy="65.1" rx="1.35" ry="1.12" fill="#3a4ade" transform="rotate(148 11.8 65.2)"/><ellipse cx="67.4" cy="12.6" rx="1.21" ry="1.42" fill="#3a4ade" transform="rotate(38 67.1 12.2)"/><ellipse cx="22.4" cy="1.7" rx="0.78" ry="1.77" fill="#3a4ade" transform="rotate(24 22.4 1.8)"/><ellipse cx="66.4" cy="73.6" rx="0.72" ry="1.09" fill="#3a4ade" transform="rotate(124 66.4 74.0)"/><ellipse cx="33.0" cy="8.5" rx="0.71" ry="1.79" fill="#3a4ade" transform="rotate(12 32.4 7.9)"/><ellipse cx="72.6" cy="16.9" rx="0.75" ry="1.52" fill="#3a4ade" transform="rotate(48 73.2 16.9)"/><ellipse cx="16.5" cy="10.9" rx="1.40" ry="1.36" fill="#3a4ade" transform="rotate(37 16.7 10.7)"/><ellipse cx="11.3" cy="50.4" rx="0.83" ry="1.75" fill="#3a4ade" transform="rotate(156 11.5 50.0)"/><ellipse cx="33.8" cy="36.3" rx="1.30" ry="1.57" fill="#3a4ade" transform="rotate(1 33.8 36.1)"/><ellipse cx="4.3" cy="13.5" rx="1.24" ry="1.12" fill="#3a4ade" transform="rotate(46 4.3 13.5)"/><ellipse cx="36.6" cy="6.6" rx="0.80" ry="1.76" fill="#3a4ade" transform="rotate(111 37.2 6.7)"/><ellipse cx="27.3" cy="54.2" rx="0.92" ry="1.25" fill="#3a4ade" transform="rotate(109 27.6 53.8)"/><ellipse cx="50.3" cy="55.9" rx="1.00" ry="0.91" fill="#3a4ade" transform="rotate(53 50.5 55.9)"/><ellipse cx="56.1" cy="63.7" rx="0.81" ry="1.25" fill="#3a4ade" transform="rotate(157 56.3 63.7)"/></g>
</svg>
<svg x="28.4" y="516.5" width="74.90" height="75.10" viewBox="0 0 74.90 75.10" overflow="hidden">
<rect width="74.90" height="75.10" fill="#e7e7eb"/>
<g opacity="0.72" filter="url(#b03)"><circle cx="22.4" cy="29.6" r="0.89" fill="#5868e0"/><circle cx="23.0" cy="18.7" r="0.64" fill="#8090ea"/><circle cx="64.2" cy="19.3" r="0.55" fill="#5868e0"/><circle cx="15.5" cy="49.0" r="0.92" fill="#8090ea"/><circle cx="53.2" cy="10.6" r="0.92" fill="#4858d8"/><circle cx="15.0" cy="69.0" r="0.73" fill="#5868e0"/><circle cx="54.6" cy="0.6" r="0.48" fill="#7484e8"/><circle cx="61.7" cy="2.7" r="0.56" fill="#8090ea"/><circle cx="21.8" cy="53.4" r="0.85" fill="#7484e8"/><circle cx="45.7" cy="30.5" r="0.81" fill="#6a78e6"/><circle cx="65.8" cy="4.3" r="0.67" fill="#5868e0"/><circle cx="3.7" cy="64.8" r="0.49" fill="#7484e8"/><circle cx="37.2" cy="1.1" r="0.81" fill="#6a78e6"/><circle cx="37.3" cy="50.6" r="0.79" fill="#4858d8"/><circle cx="60.1" cy="40.1" r="0.53" fill="#6a78e6"/><circle cx="38.7" cy="35.0" r="0.55" fill="#5868e0"/><circle cx="71.2" cy="31.1" r="0.78" fill="#4858d8"/><circle cx="52.9" cy="33.2" r="0.66" fill="#5868e0"/><circle cx="69.2" cy="10.0" r="0.53" fill="#8090ea"/><circle cx="22.0" cy="17.5" r="0.74" fill="#4858d8"/><circle cx="52.9" cy="54.0" r="0.60" fill="#4858d8"/><circle cx="24.3" cy="63.2" r="0.53" fill="#6a78e6"/><circle cx="29.3" cy="2.5" r="0.64" fill="#4858d8"/><circle cx="16.7" cy="41.0" r="0.50" fill="#8090ea"/><circle cx="11.2" cy="13.8" r="0.62" fill="#8090ea"/><circle cx="8.6" cy="62.2" r="0.51" fill="#6a78e6"/><circle cx="74.6" cy="70.6" r="0.71" fill="#4858d8"/><circle cx="36.7" cy="1.3" r="0.84" fill="#5868e0"/><circle cx="15.0" cy="21.0" r="0.60" fill="#7484e8"/><circle cx="40.5" cy="6.6" r="0.52" fill="#4858d8"/><circle cx="57.5" cy="57.5" r="0.90" fill="#7484e8"/><circle cx="69.3" cy="2.4" r="0.75" fill="#5868e0"/><circle cx="25.8" cy="70.9" r="0.78" fill="#5868e0"/><circle cx="12.9" cy="26.3" r="0.69" fill="#4858d8"/><circle cx="55.6" cy="13.4" r="0.84" fill="#4858d8"/><circle cx="60.6" cy="54.3" r="0.68" fill="#7484e8"/><circle cx="8.5" cy="12.1" r="0.65" fill="#5868e0"/><circle cx="2.5" cy="38.6" r="0.50" fill="#6a78e6"/><circle cx="31.1" cy="62.9" r="0.49" fill="#6a78e6"/><circle cx="26.9" cy="49.8" r="0.50" fill="#5868e0"/><circle cx="63.1" cy="65.6" r="0.69" fill="#6a78e6"/><circle cx="19.6" cy="8.0" r="0.57" fill="#6a78e6"/><circle cx="37.2" cy="40.3" r="0.51" fill="#8090ea"/><circle cx="18.4" cy="42.7" r="0.47" fill="#4858d8"/><circle cx="27.5" cy="14.8" r="0.65" fill="#6a78e6"/><circle cx="74.0" cy="68.2" r="0.81" fill="#7484e8"/><circle cx="37.6" cy="66.9" r="0.46" fill="#5868e0"/><circle cx="36.6" cy="59.4" r="0.74" fill="#6a78e6"/><circle cx="6.5" cy="12.9" r="0.87" fill="#5868e0"/><circle cx="31.8" cy="46.9" r="0.50" fill="#7484e8"/><circle cx="66.7" cy="6.3" r="0.74" fill="#6a78e6"/><circle cx="18.2" cy="58.2" r="0.71" fill="#5868e0"/><circle cx="61.5" cy="5.5" r="0.62" fill="#5868e0"/><circle cx="3.1" cy="46.4" r="0.80" fill="#4858d8"/><circle cx="25.6" cy="60.9" r="0.68" fill="#6a78e6"/><circle cx="0.8" cy="70.6" r="0.66" fill="#8090ea"/><circle cx="2.4" cy="59.2" r="0.52" fill="#7484e8"/><circle cx="50.8" cy="11.4" r="0.62" fill="#6a78e6"/><circle cx="15.3" cy="69.5" r="0.79" fill="#5868e0"/><circle cx="74.7" cy="59.4" r="0.69" fill="#8090ea"/><circle cx="39.4" cy="24.8" r="0.48" fill="#7484e8"/><circle cx="47.7" cy="14.9" r="0.76" fill="#4858d8"/><circle cx="58.9" cy="6.9" r="0.81" fill="#4858d8"/><circle cx="43.7" cy="60.3" r="0.70" fill="#8090ea"/><circle cx="10.1" cy="62.2" r="0.92" fill="#5868e0"/><circle cx="55.8" cy="62.5" r="0.85" fill="#7484e8"/><circle cx="12.3" cy="29.0" r="0.77" fill="#7484e8"/><circle cx="22.4" cy="72.2" r="0.72" fill="#5868e0"/><circle cx="5.1" cy="58.8" r="0.85" fill="#6a78e6"/><circle cx="18.0" cy="44.1" r="0.73" fill="#8090ea"/><circle cx="43.1" cy="70.1" r="0.89" fill="#5868e0"/><circle cx="29.4" cy="58.9" r="0.85" fill="#4858d8"/><circle cx="61.9" cy="30.5" r="0.49" fill="#4858d8"/><circle cx="49.7" cy="67.9" r="0.66" fill="#4858d8"/><circle cx="0.3" cy="36.7" r="0.46" fill="#5868e0"/><circle cx="65.8" cy="35.7" r="0.66" fill="#4858d8"/><circle cx="34.3" cy="25.2" r="0.56" fill="#4858d8"/><circle cx="29.5" cy="35.0" r="0.47" fill="#4858d8"/><circle cx="6.6" cy="20.4" r="0.80" fill="#8090ea"/><circle cx="30.5" cy="40.4" r="0.57" fill="#6a78e6"/><circle cx="51.2" cy="3.1" r="0.86" fill="#6a78e6"/><circle cx="29.2" cy="25.0" r="0.53" fill="#6a78e6"/><circle cx="16.8" cy="66.8" r="0.76" fill="#8090ea"/><circle cx="23.1" cy="23.9" r="0.89" fill="#7484e8"/><circle cx="14.2" cy="62.4" r="0.53" fill="#7484e8"/><circle cx="0.7" cy="64.1" r="0.50" fill="#6a78e6"/><circle cx="34.0" cy="60.8" r="0.58" fill="#4858d8"/><circle cx="50.7" cy="73.9" r="0.82" fill="#7484e8"/><circle cx="49.9" cy="10.1" r="0.83" fill="#4858d8"/><circle cx="49.9" cy="5.7" r="0.76" fill="#8090ea"/><circle cx="19.9" cy="22.2" r="0.60" fill="#8090ea"/><circle cx="70.2" cy="60.7" r="0.48" fill="#8090ea"/><circle cx="37.0" cy="51.9" r="0.46" fill="#5868e0"/><circle cx="41.8" cy="33.6" r="0.83" fill="#6a78e6"/><circle cx="54.6" cy="56.3" r="0.47" fill="#4858d8"/><circle cx="36.1" cy="0.5" r="0.92" fill="#4858d8"/><circle cx="10.8" cy="44.1" r="0.74" fill="#5868e0"/><circle cx="74.7" cy="13.0" r="0.74" fill="#4858d8"/><circle cx="47.0" cy="18.2" r="0.84" fill="#5868e0"/><circle cx="31.5" cy="73.5" r="0.77" fill="#8090ea"/><circle cx="36.9" cy="73.2" r="0.63" fill="#4858d8"/><circle cx="24.3" cy="62.6" r="0.70" fill="#5868e0"/><circle cx="59.4" cy="26.1" r="0.52" fill="#7484e8"/><circle cx="60.5" cy="4.6" r="0.60" fill="#7484e8"/><circle cx="12.8" cy="23.4" r="0.48" fill="#4858d8"/><circle cx="72.8" cy="58.4" r="0.63" fill="#6a78e6"/><circle cx="20.4" cy="66.9" r="0.69" fill="#7484e8"/><circle cx="24.0" cy="32.9" r="0.50" fill="#4858d8"/><circle cx="27.1" cy="24.0" r="0.85" fill="#8090ea"/><circle cx="20.0" cy="15.3" r="0.90" fill="#8090ea"/><circle cx="37.5" cy="30.7" r="0.53" fill="#4858d8"/><circle cx="3.3" cy="20.9" r="0.72" fill="#7484e8"/><circle cx="63.5" cy="30.9" r="0.49" fill="#8090ea"/><circle cx="27.2" cy="68.9" r="0.71" fill="#4858d8"/><circle cx="63.8" cy="9.1" r="0.67" fill="#5868e0"/><circle cx="3.1" cy="62.1" r="0.73" fill="#4858d8"/><circle cx="45.1" cy="27.0" r="0.94" fill="#5868e0"/><circle cx="65.6" cy="7.2" r="0.75" fill="#8090ea"/><circle cx="62.5" cy="53.5" r="0.92" fill="#6a78e6"/><circle cx="48.3" cy="72.6" r="0.77" fill="#5868e0"/><circle cx="58.0" cy="29.6" r="0.92" fill="#4858d8"/><circle cx="30.0" cy="37.5" r="0.62" fill="#6a78e6"/><circle cx="53.3" cy="10.8" r="0.82" fill="#8090ea"/><circle cx="50.1" cy="67.7" r="0.52" fill="#4858d8"/><circle cx="51.1" cy="69.4" r="0.48" fill="#5868e0"/><circle cx="63.8" cy="50.2" r="0.74" fill="#8090ea"/><circle cx="16.0" cy="54.7" r="0.84" fill="#6a78e6"/><circle cx="11.3" cy="50.4" r="0.83" fill="#7484e8"/><circle cx="9.4" cy="21.2" r="0.47" fill="#8090ea"/><circle cx="65.8" cy="9.9" r="0.80" fill="#8090ea"/><circle cx="45.9" cy="20.7" r="0.48" fill="#7484e8"/><circle cx="45.3" cy="38.2" r="0.75" fill="#6a78e6"/><circle cx="23.2" cy="27.0" r="0.73" fill="#5868e0"/><circle cx="26.9" cy="52.5" r="0.49" fill="#4858d8"/><circle cx="16.4" cy="34.4" r="0.83" fill="#8090ea"/><circle cx="20.6" cy="4.4" r="0.67" fill="#7484e8"/><circle cx="44.6" cy="2.4" r="0.72" fill="#8090ea"/><circle cx="8.3" cy="16.9" r="0.76" fill="#4858d8"/><circle cx="72.3" cy="39.9" r="0.57" fill="#7484e8"/><circle cx="59.4" cy="15.7" r="0.87" fill="#7484e8"/><circle cx="40.2" cy="2.3" r="0.84" fill="#5868e0"/><circle cx="60.7" cy="20.1" r="0.64" fill="#4858d8"/><circle cx="54.3" cy="43.9" r="0.65" fill="#7484e8"/><circle cx="71.5" cy="30.7" r="0.78" fill="#5868e0"/><circle cx="60.2" cy="72.2" r="0.61" fill="#4858d8"/><circle cx="5.3" cy="35.9" r="0.52" fill="#8090ea"/><circle cx="72.6" cy="66.1" r="0.76" fill="#6a78e6"/><circle cx="25.6" cy="14.3" r="0.65" fill="#4858d8"/><circle cx="56.9" cy="5.7" r="0.90" fill="#5868e0"/><circle cx="32.9" cy="14.8" r="0.80" fill="#6a78e6"/><circle cx="57.9" cy="15.1" r="0.83" fill="#4858d8"/><circle cx="56.0" cy="71.2" r="0.91" fill="#7484e8"/><circle cx="53.9" cy="4.7" r="0.55" fill="#5868e0"/><circle cx="62.6" cy="48.2" r="0.82" fill="#7484e8"/><circle cx="19.8" cy="26.7" r="0.53" fill="#4858d8"/><circle cx="74.3" cy="23.0" r="0.47" fill="#6a78e6"/><circle cx="51.8" cy="31.6" r="0.46" fill="#8090ea"/><circle cx="57.9" cy="25.8" r="0.88" fill="#4858d8"/><circle cx="58.2" cy="35.4" r="0.95" fill="#4858d8"/><circle cx="59.5" cy="35.8" r="0.86" fill="#6a78e6"/><circle cx="63.7" cy="39.7" r="0.58" fill="#8090ea"/><circle cx="15.7" cy="18.9" r="0.46" fill="#6a78e6"/><circle cx="53.2" cy="71.0" r="0.94" fill="#8090ea"/><circle cx="58.0" cy="54.5" r="0.53" fill="#8090ea"/><circle cx="10.0" cy="1.0" r="0.56" fill="#7484e8"/><circle cx="39.8" cy="2.1" r="0.86" fill="#5868e0"/><circle cx="34.7" cy="3.2" r="0.89" fill="#7484e8"/><circle cx="68.4" cy="64.5" r="0.62" fill="#7484e8"/><circle cx="66.3" cy="36.4" r="0.77" fill="#6a78e6"/><circle cx="0.5" cy="15.4" r="0.63" fill="#5868e0"/><circle cx="7.3" cy="65.9" r="0.92" fill="#8090ea"/><circle cx="34.2" cy="44.0" r="0.77" fill="#8090ea"/><circle cx="57.1" cy="42.8" r="0.81" fill="#8090ea"/><circle cx="12.7" cy="49.0" r="0.88" fill="#6a78e6"/><circle cx="53.7" cy="35.3" r="0.89" fill="#7484e8"/><circle cx="10.6" cy="68.3" r="0.75" fill="#5868e0"/><circle cx="52.4" cy="60.1" r="0.89" fill="#5868e0"/><circle cx="29.4" cy="59.2" r="0.86" fill="#5868e0"/><circle cx="18.2" cy="68.2" r="0.55" fill="#5868e0"/><circle cx="2.9" cy="3.7" r="0.57" fill="#6a78e6"/><circle cx="58.1" cy="3.3" r="0.73" fill="#7484e8"/><circle cx="68.9" cy="19.7" r="0.53" fill="#5868e0"/><circle cx="35.9" cy="71.8" r="0.83" fill="#5868e0"/><circle cx="14.0" cy="60.6" r="0.53" fill="#7484e8"/><circle cx="24.2" cy="38.3" r="0.93" fill="#8090ea"/><circle cx="68.6" cy="0.2" r="0.88" fill="#7484e8"/><circle cx="48.6" cy="6.4" r="0.73" fill="#7484e8"/><circle cx="44.5" cy="60.0" r="0.49" fill="#5868e0"/><circle cx="49.5" cy="46.2" r="0.68" fill="#5868e0"/><circle cx="41.9" cy="15.7" r="0.54" fill="#7484e8"/><circle cx="60.8" cy="34.4" r="0.51" fill="#6a78e6"/><circle cx="50.3" cy="73.8" r="0.76" fill="#5868e0"/><circle cx="40.9" cy="26.5" r="0.50" fill="#6a78e6"/><circle cx="63.6" cy="63.7" r="0.50" fill="#4858d8"/><circle cx="20.5" cy="23.2" r="0.60" fill="#8090ea"/><circle cx="45.4" cy="73.5" r="0.83" fill="#5868e0"/><circle cx="5.9" cy="3.3" r="0.79" fill="#7484e8"/><circle cx="16.0" cy="28.9" r="0.94" fill="#7484e8"/><circle cx="43.0" cy="15.8" r="0.83" fill="#5868e0"/><circle cx="68.4" cy="62.9" r="0.81" fill="#5868e0"/><circle cx="50.2" cy="10.1" r="0.91" fill="#5868e0"/><circle cx="13.5" cy="70.8" r="0.67" fill="#6a78e6"/><circle cx="18.9" cy="22.6" r="0.62" fill="#4858d8"/><circle cx="28.6" cy="12.2" r="0.53" fill="#8090ea"/><circle cx="57.1" cy="62.8" r="0.95" fill="#4858d8"/><circle cx="20.5" cy="18.8" r="0.66" fill="#5868e0"/><circle cx="25.5" cy="40.9" r="0.63" fill="#4858d8"/><circle cx="0.1" cy="57.9" r="0.57" fill="#4858d8"/><circle cx="59.5" cy="40.0" r="0.50" fill="#4858d8"/><circle cx="31.8" cy="25.3" r="0.48" fill="#5868e0"/><circle cx="72.3" cy="12.1" r="0.72" fill="#7484e8"/><circle cx="18.3" cy="68.9" r="0.92" fill="#7484e8"/><circle cx="51.7" cy="72.7" r="0.49" fill="#6a78e6"/><circle cx="16.3" cy="56.7" r="0.89" fill="#4858d8"/><circle cx="32.3" cy="8.9" r="0.92" fill="#7484e8"/><circle cx="32.8" cy="51.6" r="0.80" fill="#4858d8"/><circle cx="56.4" cy="18.7" r="0.58" fill="#5868e0"/><circle cx="6.9" cy="65.1" r="0.77" fill="#7484e8"/><circle cx="72.2" cy="48.3" r="0.75" fill="#5868e0"/><circle cx="44.8" cy="52.2" r="0.60" fill="#5868e0"/><circle cx="54.6" cy="40.2" r="0.49" fill="#5868e0"/><circle cx="10.7" cy="8.5" r="0.70" fill="#7484e8"/><circle cx="51.5" cy="20.5" r="0.83" fill="#6a78e6"/><circle cx="67.4" cy="19.1" r="0.65" fill="#6a78e6"/><circle cx="33.3" cy="54.7" r="0.50" fill="#8090ea"/><circle cx="25.6" cy="62.5" r="0.47" fill="#6a78e6"/><circle cx="8.0" cy="15.7" r="0.63" fill="#4858d8"/><circle cx="20.8" cy="0.7" r="0.54" fill="#5868e0"/><circle cx="11.8" cy="49.5" r="0.74" fill="#4858d8"/><circle cx="13.5" cy="10.8" r="0.50" fill="#5868e0"/><circle cx="28.7" cy="49.0" r="0.73" fill="#6a78e6"/><circle cx="4.6" cy="22.2" r="0.58" fill="#6a78e6"/><circle cx="70.1" cy="26.7" r="0.72" fill="#6a78e6"/><circle cx="10.4" cy="59.2" r="0.58" fill="#4858d8"/><circle cx="12.5" cy="49.8" r="0.89" fill="#6a78e6"/><circle cx="21.4" cy="28.6" r="0.83" fill="#6a78e6"/><circle cx="48.6" cy="66.6" r="0.83" fill="#4858d8"/><circle cx="18.0" cy="67.1" r="0.58" fill="#5868e0"/><circle cx="3.8" cy="49.8" r="0.87" fill="#6a78e6"/><circle cx="21.1" cy="35.5" r="0.69" fill="#5868e0"/><circle cx="34.5" cy="53.4" r="0.50" fill="#5868e0"/><circle cx="36.3" cy="69.3" r="0.90" fill="#8090ea"/><circle cx="33.0" cy="8.9" r="0.48" fill="#4858d8"/><circle cx="33.2" cy="18.0" r="0.62" fill="#5868e0"/><circle cx="5.4" cy="16.7" r="0.82" fill="#7484e8"/><circle cx="45.8" cy="75.1" r="0.91" fill="#8090ea"/><circle cx="8.2" cy="70.9" r="0.71" fill="#6a78e6"/><circle cx="39.1" cy="38.3" r="0.61" fill="#5868e0"/><circle cx="6.2" cy="19.9" r="0.91" fill="#8090ea"/><circle cx="58.8" cy="9.9" r="0.85" fill="#4858d8"/><circle cx="7.3" cy="21.1" r="0.84" fill="#5868e0"/><circle cx="9.0" cy="73.9" r="0.69" fill="#6a78e6"/><circle cx="38.2" cy="47.1" r="0.86" fill="#5868e0"/><circle cx="48.2" cy="51.6" r="0.47" fill="#6a78e6"/><circle cx="57.9" cy="49.9" r="0.52" fill="#4858d8"/><circle cx="10.9" cy="60.4" r="0.92" fill="#5868e0"/><circle cx="64.2" cy="27.6" r="0.90" fill="#6a78e6"/><circle cx="52.4" cy="1.2" r="0.68" fill="#5868e0"/><circle cx="33.7" cy="63.8" r="0.59" fill="#6a78e6"/><circle cx="62.9" cy="22.9" r="0.61" fill="#6a78e6"/><circle cx="70.4" cy="30.2" r="0.79" fill="#5868e0"/><circle cx="27.0" cy="36.4" r="0.48" fill="#4858d8"/><circle cx="38.3" cy="71.2" r="0.70" fill="#6a78e6"/><circle cx="46.5" cy="16.3" r="0.87" fill="#6a78e6"/><circle cx="23.2" cy="58.9" r="0.59" fill="#4858d8"/><circle cx="2.4" cy="13.3" r="0.66" fill="#5868e0"/><circle cx="42.6" cy="57.8" r="0.57" fill="#5868e0"/><circle cx="11.6" cy="61.0" r="0.75" fill="#8090ea"/><circle cx="42.1" cy="53.5" r="0.52" fill="#6a78e6"/><circle cx="42.1" cy="20.6" r="0.66" fill="#6a78e6"/><circle cx="74.8" cy="10.2" r="0.61" fill="#5868e0"/><circle cx="12.6" cy="31.8" r="0.49" fill="#8090ea"/><circle cx="59.2" cy="19.0" r="0.74" fill="#6a78e6"/><circle cx="64.4" cy="71.9" r="0.58" fill="#8090ea"/><circle cx="7.1" cy="32.7" r="0.86" fill="#5868e0"/><circle cx="67.7" cy="5.3" r="0.83" fill="#6a78e6"/><circle cx="65.2" cy="31.5" r="0.71" fill="#4858d8"/><circle cx="60.4" cy="49.1" r="0.71" fill="#5868e0"/><circle cx="33.4" cy="37.5" r="0.72" fill="#4858d8"/><circle cx="67.3" cy="72.3" r="0.55" fill="#5868e0"/><circle cx="44.4" cy="19.0" r="0.64" fill="#4858d8"/><circle cx="48.2" cy="30.9" r="0.93" fill="#4858d8"/><circle cx="50.7" cy="5.5" r="0.82" fill="#7484e8"/><circle cx="51.1" cy="15.9" r="0.61" fill="#5868e0"/><circle cx="33.3" cy="25.5" r="0.83" fill="#6a78e6"/><circle cx="34.9" cy="24.4" r="0.94" fill="#8090ea"/><circle cx="6.7" cy="72.9" r="0.72" fill="#8090ea"/><circle cx="72.0" cy="67.6" r="0.57" fill="#4858d8"/><circle cx="28.5" cy="37.1" r="0.63" fill="#6a78e6"/><circle cx="47.9" cy="66.0" r="0.51" fill="#7484e8"/><circle cx="10.2" cy="30.5" r="0.66" fill="#5868e0"/><circle cx="35.2" cy="34.1" r="0.62" fill="#7484e8"/><circle cx="26.6" cy="52.9" r="0.67" fill="#6a78e6"/><circle cx="60.8" cy="52.1" r="0.79" fill="#6a78e6"/><circle cx="29.5" cy="8.8" r="0.76" fill="#4858d8"/><circle cx="62.6" cy="48.2" r="0.77" fill="#7484e8"/><circle cx="72.4" cy="14.7" r="0.83" fill="#4858d8"/><circle cx="48.6" cy="12.3" r="0.48" fill="#8090ea"/><circle cx="63.6" cy="65.7" r="0.74" fill="#6a78e6"/><circle cx="67.2" cy="44.7" r="0.66" fill="#7484e8"/><circle cx="20.4" cy="5.3" r="0.45" fill="#6a78e6"/><circle cx="6.4" cy="18.7" r="0.54" fill="#6a78e6"/><circle cx="19.9" cy="53.4" r="0.94" fill="#5868e0"/><circle cx="1.8" cy="6.2" r="0.49" fill="#6a78e6"/><circle cx="11.1" cy="25.2" r="0.71" fill="#4858d8"/><circle cx="21.9" cy="56.1" r="0.89" fill="#4858d8"/><circle cx="4.1" cy="6.3" r="0.53" fill="#5868e0"/><circle cx="4.7" cy="3.9" r="0.94" fill="#6a78e6"/><circle cx="59.3" cy="54.7" r="0.62" fill="#8090ea"/><circle cx="10.6" cy="45.4" r="0.94" fill="#5868e0"/><circle cx="56.3" cy="63.0" r="0.66" fill="#4858d8"/><circle cx="53.7" cy="17.2" r="0.85" fill="#8090ea"/><circle cx="7.1" cy="44.0" r="0.55" fill="#8090ea"/><circle cx="60.2" cy="59.4" r="0.57" fill="#5868e0"/><circle cx="61.8" cy="35.4" r="0.67" fill="#5868e0"/><circle cx="14.4" cy="43.7" r="0.50" fill="#8090ea"/><circle cx="18.0" cy="19.4" r="0.66" fill="#7484e8"/><circle cx="24.9" cy="4.3" r="0.56" fill="#5868e0"/><circle cx="16.6" cy="21.8" r="0.77" fill="#8090ea"/><circle cx="46.0" cy="67.7" r="0.55" fill="#4858d8"/><circle cx="74.6" cy="67.5" r="0.52" fill="#5868e0"/><circle cx="17.0" cy="57.9" r="0.86" fill="#4858d8"/><circle cx="29.7" cy="39.3" r="0.60" fill="#7484e8"/><circle cx="23.6" cy="22.0" r="0.61" fill="#6a78e6"/><circle cx="11.3" cy="70.0" r="0.89" fill="#8090ea"/><circle cx="2.3" cy="24.1" r="0.84" fill="#7484e8"/><circle cx="65.2" cy="51.5" r="0.69" fill="#4858d8"/><circle cx="58.1" cy="8.0" r="0.49" fill="#8090ea"/><circle cx="32.8" cy="5.0" r="0.85" fill="#7484e8"/><circle cx="16.6" cy="23.9" r="0.69" fill="#8090ea"/></g>
</svg>
<svg x="104.6" y="516.5" width="74.40" height="75.10" viewBox="0 0 74.40 75.10" overflow="hidden">
<rect width="74.40" height="75.10" fill="#e7e7eb"/>
<g opacity="0.5" filter="url(#b08)"><ellipse cx="57.3" cy="27.9" rx="2.07" ry="2.79" fill="#4c5ce0" transform="rotate(111 57.3 27.9)"/><ellipse cx="20.7" cy="2.8" rx="2.87" ry="2.76" fill="#7a88ea" transform="rotate(11 20.7 2.8)"/><ellipse cx="2.6" cy="49.4" rx="2.68" ry="2.39" fill="#4c5ce0" transform="rotate(79 2.6 49.4)"/><ellipse cx="71.7" cy="3.8" rx="1.83" ry="2.55" fill="#7a88ea" transform="rotate(95 71.7 3.8)"/><ellipse cx="23.5" cy="61.5" rx="2.31" ry="2.01" fill="#7a88ea" transform="rotate(31 23.5 61.5)"/><ellipse cx="31.7" cy="25.4" rx="1.58" ry="1.76" fill="#5566e4" transform="rotate(21 31.7 25.4)"/><ellipse cx="67.3" cy="35.5" rx="2.83" ry="2.31" fill="#4c5ce0" transform="rotate(137 67.3 35.5)"/><ellipse cx="15.0" cy="59.1" rx="2.52" ry="2.77" fill="#8c98ee" transform="rotate(19 15.0 59.1)"/><ellipse cx="25.2" cy="18.6" rx="1.78" ry="2.10" fill="#3040d8" transform="rotate(27 25.2 18.6)"/><ellipse cx="23.9" cy="13.0" rx="2.52" ry="1.91" fill="#7a88ea" transform="rotate(119 23.9 13.0)"/><ellipse cx="25.6" cy="59.1" rx="1.78" ry="1.46" fill="#6474e6" transform="rotate(171 25.6 59.1)"/><ellipse cx="19.8" cy="27.5" rx="1.96" ry="1.93" fill="#8c98ee" transform="rotate(51 19.8 27.5)"/><ellipse cx="0.9" cy="50.8" rx="2.53" ry="2.55" fill="#5566e4" transform="rotate(136 0.9 50.8)"/><ellipse cx="73.7" cy="54.7" rx="2.53" ry="2.62" fill="#4c5ce0" transform="rotate(91 73.7 54.7)"/><ellipse cx="17.8" cy="53.6" rx="2.41" ry="1.48" fill="#7a88ea" transform="rotate(153 17.8 53.6)"/><ellipse cx="10.3" cy="70.5" rx="2.52" ry="2.42" fill="#3040d8" transform="rotate(164 10.3 70.5)"/><ellipse cx="62.7" cy="73.5" rx="2.82" ry="2.11" fill="#8c98ee" transform="rotate(141 62.7 73.5)"/><ellipse cx="15.9" cy="25.6" rx="1.77" ry="1.55" fill="#4c5ce0" transform="rotate(160 15.9 25.6)"/><ellipse cx="1.9" cy="27.8" rx="2.32" ry="2.15" fill="#6474e6" transform="rotate(36 1.9 27.8)"/><ellipse cx="29.9" cy="60.3" rx="2.83" ry="1.86" fill="#3040d8" transform="rotate(160 29.9 60.3)"/><ellipse cx="23.7" cy="25.9" rx="2.66" ry="2.51" fill="#4c5ce0" transform="rotate(103 23.7 25.9)"/><ellipse cx="38.6" cy="36.4" rx="2.02" ry="2.72" fill="#3040d8" transform="rotate(41 38.6 36.4)"/><ellipse cx="49.0" cy="64.8" rx="2.38" ry="2.25" fill="#8c98ee" transform="rotate(106 49.0 64.8)"/><ellipse cx="53.4" cy="32.2" rx="1.54" ry="2.19" fill="#5566e4" transform="rotate(142 53.4 32.2)"/><ellipse cx="59.6" cy="16.4" rx="2.72" ry="2.89" fill="#8c98ee" transform="rotate(28 59.6 16.4)"/><ellipse cx="5.7" cy="31.3" rx="1.89" ry="2.89" fill="#5566e4" transform="rotate(132 5.7 31.3)"/><ellipse cx="49.7" cy="10.8" rx="2.83" ry="2.90" fill="#5566e4" transform="rotate(162 49.7 10.8)"/><ellipse cx="65.4" cy="8.5" rx="2.25" ry="1.48" fill="#6474e6" transform="rotate(37 65.4 8.5)"/><ellipse cx="67.0" cy="71.7" rx="2.17" ry="2.80" fill="#5566e4" transform="rotate(38 67.0 71.7)"/><ellipse cx="10.1" cy="51.6" rx="2.31" ry="1.75" fill="#7a88ea" transform="rotate(92 10.1 51.6)"/><ellipse cx="6.9" cy="0.4" rx="1.91" ry="2.48" fill="#3040d8" transform="rotate(141 6.9 0.4)"/><ellipse cx="17.3" cy="61.7" rx="1.75" ry="1.66" fill="#7a88ea" transform="rotate(176 17.3 61.7)"/><ellipse cx="8.2" cy="34.7" rx="2.29" ry="1.72" fill="#8c98ee" transform="rotate(167 8.2 34.7)"/><ellipse cx="6.4" cy="5.2" rx="2.60" ry="2.42" fill="#7a88ea" transform="rotate(58 6.4 5.2)"/><ellipse cx="30.4" cy="54.2" rx="2.89" ry="1.74" fill="#8c98ee" transform="rotate(64 30.4 54.2)"/><ellipse cx="23.1" cy="47.7" rx="2.07" ry="1.61" fill="#5566e4" transform="rotate(57 23.1 47.7)"/><ellipse cx="13.7" cy="36.0" rx="2.06" ry="2.86" fill="#8c98ee" transform="rotate(85 13.7 36.0)"/><ellipse cx="37.9" cy="37.6" rx="1.75" ry="1.93" fill="#8c98ee" transform="rotate(174 37.9 37.6)"/><ellipse cx="26.3" cy="31.9" rx="1.93" ry="2.44" fill="#8c98ee" transform="rotate(116 26.3 31.9)"/><ellipse cx="62.1" cy="41.1" rx="1.46" ry="2.58" fill="#8c98ee" transform="rotate(64 62.1 41.1)"/><ellipse cx="68.5" cy="30.2" rx="2.05" ry="1.85" fill="#5566e4" transform="rotate(117 68.5 30.2)"/><ellipse cx="0.3" cy="51.6" rx="2.34" ry="2.42" fill="#8c98ee" transform="rotate(142 0.3 51.6)"/><ellipse cx="50.4" cy="25.5" rx="2.82" ry="2.22" fill="#8c98ee" transform="rotate(117 50.4 25.5)"/><ellipse cx="72.6" cy="46.3" rx="2.61" ry="2.06" fill="#4c5ce0" transform="rotate(65 72.6 46.3)"/><ellipse cx="26.0" cy="40.0" rx="2.79" ry="2.36" fill="#8c98ee" transform="rotate(21 26.0 40.0)"/><ellipse cx="63.8" cy="1.3" rx="2.60" ry="1.50" fill="#3040d8" transform="rotate(97 63.8 1.3)"/></g>
<g opacity="0.6" filter="url(#b05)"><ellipse cx="57.3" cy="28.1" rx="1.04" ry="1.73" fill="#3a4ade" transform="rotate(111 57.3 27.9)"/><ellipse cx="2.5" cy="48.9" rx="1.34" ry="1.48" fill="#3a4ade" transform="rotate(79 2.6 49.4)"/><ellipse cx="32.0" cy="25.9" rx="0.79" ry="1.09" fill="#3a4ade" transform="rotate(21 31.7 25.4)"/><ellipse cx="23.3" cy="12.7" rx="1.26" ry="1.19" fill="#3a4ade" transform="rotate(119 23.9 13.0)"/><ellipse cx="26.0" cy="59.5" rx="0.89" ry="0.90" fill="#3a4ade" transform="rotate(171 25.6 59.1)"/><ellipse cx="1.4" cy="51.1" rx="1.27" ry="1.58" fill="#3a4ade" transform="rotate(136 0.9 50.8)"/><ellipse cx="73.6" cy="54.4" rx="1.27" ry="1.62" fill="#3a4ade" transform="rotate(91 73.7 54.7)"/><ellipse cx="23.8" cy="26.3" rx="1.33" ry="1.56" fill="#3a4ade" transform="rotate(103 23.7 25.9)"/><ellipse cx="38.6" cy="36.9" rx="1.01" ry="1.69" fill="#3a4ade" transform="rotate(41 38.6 36.4)"/><ellipse cx="53.0" cy="32.5" rx="0.77" ry="1.36" fill="#3a4ade" transform="rotate(142 53.4 32.2)"/><ellipse cx="5.8" cy="31.3" rx="0.95" ry="1.79" fill="#3a4ade" transform="rotate(132 5.7 31.3)"/><ellipse cx="49.2" cy="10.9" rx="1.42" ry="1.80" fill="#3a4ade" transform="rotate(162 49.7 10.8)"/><ellipse cx="65.4" cy="8.9" rx="1.13" ry="0.92" fill="#3a4ade" transform="rotate(37 65.4 8.5)"/><ellipse cx="66.9" cy="71.2" rx="1.08" ry="1.74" fill="#3a4ade" transform="rotate(38 67.0 71.7)"/><ellipse cx="8.7" cy="34.7" rx="1.15" ry="1.07" fill="#3a4ade" transform="rotate(167 8.2 34.7)"/><ellipse cx="6.1" cy="5.3" rx="1.30" ry="1.50" fill="#3a4ade" transform="rotate(58 6.4 5.2)"/><ellipse cx="13.7" cy="36.0" rx="1.03" ry="1.77" fill="#3a4ade" transform="rotate(85 13.7 36.0)"/><ellipse cx="50.0" cy="26.0" rx="1.41" ry="1.38" fill="#3a4ade" transform="rotate(117 50.4 25.5)"/><ellipse cx="26.2" cy="40.0" rx="1.40" ry="1.46" fill="#3a4ade" transform="rotate(21 26.0 40.0)"/><ellipse cx="63.6" cy="1.6" rx="1.30" ry="0.93" fill="#3a4ade" transform="rotate(97 63.8 1.3)"/></g>
</svg>
<svg x="181" y="516.5" width="75.10" height="75.10" viewBox="0 0 75.10 75.10" overflow="hidden">
<rect width="75.10" height="75.10" fill="#e7e7eb"/>
<g opacity="0.72" filter="url(#b03)"><circle cx="12.0" cy="51.8" r="0.46" fill="#6a78e6"/><circle cx="15.7" cy="55.3" r="0.52" fill="#4858d8"/><circle cx="17.1" cy="4.3" r="0.58" fill="#5868e0"/><circle cx="71.1" cy="41.4" r="0.91" fill="#5868e0"/><circle cx="58.0" cy="11.2" r="0.87" fill="#5868e0"/><circle cx="56.2" cy="64.5" r="0.64" fill="#5868e0"/><circle cx="47.3" cy="53.2" r="0.54" fill="#6a78e6"/><circle cx="73.4" cy="2.9" r="0.48" fill="#5868e0"/><circle cx="2.9" cy="24.6" r="0.80" fill="#6a78e6"/><circle cx="8.4" cy="12.2" r="0.54" fill="#7484e8"/><circle cx="26.9" cy="70.7" r="0.55" fill="#5868e0"/><circle cx="73.5" cy="32.6" r="0.65" fill="#4858d8"/><circle cx="33.5" cy="36.3" r="0.46" fill="#6a78e6"/><circle cx="12.4" cy="67.1" r="0.85" fill="#5868e0"/><circle cx="33.5" cy="46.7" r="0.90" fill="#8090ea"/><circle cx="41.1" cy="66.4" r="0.46" fill="#8090ea"/><circle cx="66.2" cy="45.1" r="0.62" fill="#8090ea"/><circle cx="38.4" cy="11.1" r="0.47" fill="#7484e8"/><circle cx="38.8" cy="37.3" r="0.79" fill="#6a78e6"/><circle cx="51.9" cy="0.3" r="0.85" fill="#7484e8"/><circle cx="70.5" cy="63.4" r="0.63" fill="#6a78e6"/><circle cx="42.8" cy="54.7" r="0.65" fill="#8090ea"/><circle cx="71.8" cy="69.8" r="0.76" fill="#4858d8"/><circle cx="67.2" cy="14.3" r="0.95" fill="#6a78e6"/><circle cx="59.5" cy="59.2" r="0.86" fill="#7484e8"/><circle cx="51.7" cy="23.9" r="0.83" fill="#4858d8"/><circle cx="60.2" cy="25.3" r="0.74" fill="#7484e8"/><circle cx="36.7" cy="20.7" r="0.91" fill="#5868e0"/><circle cx="37.0" cy="62.2" r="0.47" fill="#8090ea"/><circle cx="57.2" cy="43.1" r="0.90" fill="#7484e8"/><circle cx="38.1" cy="52.9" r="0.45" fill="#7484e8"/><circle cx="58.4" cy="7.7" r="0.59" fill="#5868e0"/><circle cx="45.5" cy="32.7" r="0.89" fill="#4858d8"/><circle cx="6.1" cy="33.7" r="0.63" fill="#5868e0"/><circle cx="37.1" cy="54.2" r="0.56" fill="#4858d8"/><circle cx="20.9" cy="27.8" r="0.91" fill="#7484e8"/><circle cx="74.9" cy="32.0" r="0.74" fill="#4858d8"/><circle cx="34.3" cy="64.9" r="0.65" fill="#8090ea"/><circle cx="72.0" cy="3.5" r="0.87" fill="#4858d8"/><circle cx="4.0" cy="74.2" r="0.72" fill="#6a78e6"/><circle cx="26.4" cy="63.9" r="0.88" fill="#4858d8"/><circle cx="61.2" cy="2.5" r="0.69" fill="#5868e0"/><circle cx="6.1" cy="59.4" r="0.89" fill="#6a78e6"/><circle cx="34.9" cy="35.2" r="0.81" fill="#4858d8"/><circle cx="25.8" cy="70.1" r="0.54" fill="#6a78e6"/><circle cx="48.5" cy="56.9" r="0.77" fill="#7484e8"/><circle cx="19.5" cy="12.3" r="0.90" fill="#6a78e6"/><circle cx="35.6" cy="59.0" r="0.58" fill="#5868e0"/><circle cx="16.6" cy="68.1" r="0.76" fill="#5868e0"/><circle cx="47.4" cy="40.0" r="0.88" fill="#8090ea"/><circle cx="15.9" cy="31.3" r="0.68" fill="#4858d8"/><circle cx="51.2" cy="55.9" r="0.57" fill="#8090ea"/><circle cx="36.1" cy="39.8" r="0.55" fill="#4858d8"/><circle cx="12.1" cy="51.4" r="0.73" fill="#8090ea"/><circle cx="66.8" cy="68.7" r="0.90" fill="#8090ea"/><circle cx="37.0" cy="20.1" r="0.63" fill="#7484e8"/><circle cx="37.4" cy="73.2" r="0.61" fill="#4858d8"/><circle cx="66.5" cy="27.6" r="0.93" fill="#6a78e6"/><circle cx="37.5" cy="21.2" r="0.62" fill="#7484e8"/><circle cx="41.1" cy="23.6" r="0.46" fill="#6a78e6"/><circle cx="34.4" cy="71.9" r="0.68" fill="#4858d8"/><circle cx="42.3" cy="71.2" r="0.79" fill="#4858d8"/><circle cx="36.1" cy="69.8" r="0.55" fill="#6a78e6"/><circle cx="27.1" cy="45.4" r="0.60" fill="#6a78e6"/><circle cx="53.3" cy="44.1" r="0.66" fill="#6a78e6"/><circle cx="41.5" cy="15.5" r="0.70" fill="#5868e0"/><circle cx="56.6" cy="17.8" r="0.51" fill="#4858d8"/><circle cx="69.6" cy="74.5" r="0.79" fill="#5868e0"/><circle cx="20.0" cy="73.2" r="0.49" fill="#4858d8"/><circle cx="23.5" cy="42.7" r="0.45" fill="#8090ea"/><circle cx="26.3" cy="53.3" r="0.72" fill="#6a78e6"/><circle cx="1.0" cy="15.2" r="0.54" fill="#6a78e6"/><circle cx="7.6" cy="70.0" r="0.58" fill="#7484e8"/><circle cx="71.8" cy="50.7" r="0.64" fill="#5868e0"/><circle cx="5.1" cy="62.4" r="0.94" fill="#5868e0"/><circle cx="62.3" cy="67.0" r="0.71" fill="#8090ea"/><circle cx="27.4" cy="49.7" r="0.93" fill="#5868e0"/><circle cx="74.6" cy="46.8" r="0.78" fill="#6a78e6"/><circle cx="27.9" cy="27.4" r="0.52" fill="#4858d8"/><circle cx="19.2" cy="10.6" r="0.53" fill="#6a78e6"/><circle cx="8.3" cy="59.8" r="0.51" fill="#4858d8"/><circle cx="37.8" cy="43.1" r="0.73" fill="#8090ea"/><circle cx="34.8" cy="56.3" r="0.81" fill="#6a78e6"/><circle cx="31.7" cy="17.8" r="0.83" fill="#6a78e6"/><circle cx="67.2" cy="26.8" r="0.84" fill="#8090ea"/><circle cx="44.2" cy="32.2" r="0.69" fill="#5868e0"/><circle cx="16.7" cy="50.3" r="0.87" fill="#8090ea"/><circle cx="74.2" cy="17.9" r="0.47" fill="#6a78e6"/><circle cx="14.9" cy="19.5" r="0.84" fill="#5868e0"/><circle cx="25.4" cy="5.9" r="0.83" fill="#5868e0"/><circle cx="38.5" cy="70.3" r="0.57" fill="#6a78e6"/><circle cx="12.9" cy="32.4" r="0.92" fill="#5868e0"/><circle cx="53.0" cy="32.2" r="0.53" fill="#5868e0"/><circle cx="37.4" cy="74.3" r="0.82" fill="#6a78e6"/><circle cx="61.5" cy="59.3" r="0.59" fill="#5868e0"/><circle cx="25.2" cy="7.7" r="0.82" fill="#6a78e6"/><circle cx="38.3" cy="12.6" r="0.78" fill="#8090ea"/><circle cx="19.4" cy="34.1" r="0.57" fill="#8090ea"/><circle cx="0.3" cy="16.7" r="0.65" fill="#6a78e6"/><circle cx="30.6" cy="40.3" r="0.59" fill="#4858d8"/><circle cx="25.2" cy="20.0" r="0.79" fill="#6a78e6"/><circle cx="2.8" cy="31.3" r="0.87" fill="#5868e0"/><circle cx="11.7" cy="5.3" r="0.72" fill="#4858d8"/><circle cx="69.1" cy="7.5" r="0.70" fill="#8090ea"/><circle cx="19.0" cy="7.4" r="0.91" fill="#7484e8"/><circle cx="60.7" cy="21.9" r="0.92" fill="#8090ea"/><circle cx="9.5" cy="5.0" r="0.67" fill="#5868e0"/><circle cx="52.4" cy="43.4" r="0.94" fill="#5868e0"/><circle cx="59.3" cy="59.4" r="0.49" fill="#4858d8"/><circle cx="18.0" cy="16.6" r="0.92" fill="#4858d8"/><circle cx="26.1" cy="52.2" r="0.63" fill="#4858d8"/><circle cx="12.2" cy="32.9" r="0.54" fill="#6a78e6"/><circle cx="6.9" cy="54.5" r="0.88" fill="#6a78e6"/><circle cx="49.5" cy="19.6" r="0.51" fill="#8090ea"/><circle cx="6.9" cy="16.6" r="0.53" fill="#4858d8"/><circle cx="6.3" cy="23.0" r="0.75" fill="#7484e8"/><circle cx="65.0" cy="44.2" r="0.93" fill="#7484e8"/><circle cx="40.0" cy="23.4" r="0.55" fill="#4858d8"/><circle cx="9.5" cy="26.6" r="0.73" fill="#6a78e6"/><circle cx="46.5" cy="49.5" r="0.51" fill="#5868e0"/><circle cx="31.5" cy="49.9" r="0.54" fill="#7484e8"/><circle cx="22.0" cy="8.9" r="0.76" fill="#8090ea"/><circle cx="58.7" cy="38.9" r="0.57" fill="#7484e8"/><circle cx="40.7" cy="40.9" r="0.60" fill="#5868e0"/><circle cx="61.5" cy="36.2" r="0.82" fill="#6a78e6"/><circle cx="54.8" cy="64.7" r="0.80" fill="#8090ea"/><circle cx="27.0" cy="56.7" r="0.82" fill="#6a78e6"/><circle cx="62.0" cy="73.8" r="0.67" fill="#4858d8"/><circle cx="47.7" cy="52.1" r="0.59" fill="#5868e0"/><circle cx="25.7" cy="30.8" r="0.67" fill="#7484e8"/><circle cx="39.4" cy="50.3" r="0.93" fill="#6a78e6"/><circle cx="25.6" cy="35.5" r="0.81" fill="#6a78e6"/><circle cx="36.6" cy="27.7" r="0.58" fill="#8090ea"/><circle cx="3.2" cy="9.8" r="0.62" fill="#8090ea"/><circle cx="65.2" cy="33.0" r="0.66" fill="#4858d8"/><circle cx="11.6" cy="48.2" r="0.81" fill="#4858d8"/><circle cx="21.1" cy="69.2" r="0.88" fill="#4858d8"/><circle cx="2.8" cy="13.0" r="0.48" fill="#8090ea"/><circle cx="14.4" cy="58.0" r="0.64" fill="#5868e0"/><circle cx="8.4" cy="20.4" r="0.71" fill="#7484e8"/><circle cx="74.2" cy="74.1" r="0.65" fill="#6a78e6"/><circle cx="28.5" cy="0.8" r="0.64" fill="#4858d8"/><circle cx="25.0" cy="51.0" r="0.76" fill="#6a78e6"/><circle cx="15.5" cy="43.5" r="0.74" fill="#6a78e6"/><circle cx="22.1" cy="15.0" r="0.88" fill="#6a78e6"/><circle cx="17.5" cy="44.0" r="0.74" fill="#4858d8"/><circle cx="9.1" cy="42.9" r="0.71" fill="#7484e8"/><circle cx="6.8" cy="34.6" r="0.57" fill="#8090ea"/><circle cx="23.4" cy="31.3" r="0.63" fill="#6a78e6"/><circle cx="8.7" cy="74.1" r="0.57" fill="#8090ea"/><circle cx="18.3" cy="44.1" r="0.64" fill="#5868e0"/><circle cx="39.0" cy="41.3" r="0.60" fill="#8090ea"/><circle cx="58.3" cy="36.0" r="0.94" fill="#5868e0"/><circle cx="49.8" cy="34.7" r="0.75" fill="#6a78e6"/><circle cx="58.4" cy="63.2" r="0.72" fill="#8090ea"/><circle cx="12.0" cy="71.8" r="0.94" fill="#8090ea"/><circle cx="70.5" cy="65.9" r="0.61" fill="#6a78e6"/><circle cx="52.1" cy="5.1" r="0.90" fill="#6a78e6"/><circle cx="27.7" cy="32.5" r="0.70" fill="#4858d8"/><circle cx="69.0" cy="26.1" r="0.63" fill="#6a78e6"/><circle cx="7.5" cy="39.6" r="0.51" fill="#4858d8"/><circle cx="64.7" cy="15.7" r="0.89" fill="#4858d8"/><circle cx="63.7" cy="45.2" r="0.73" fill="#4858d8"/><circle cx="21.3" cy="6.3" r="0.93" fill="#4858d8"/><circle cx="63.3" cy="27.5" r="0.94" fill="#4858d8"/><circle cx="10.3" cy="50.6" r="0.51" fill="#6a78e6"/><circle cx="31.3" cy="71.9" r="0.63" fill="#8090ea"/><circle cx="0.3" cy="75.0" r="0.55" fill="#7484e8"/><circle cx="33.5" cy="30.5" r="0.57" fill="#8090ea"/><circle cx="12.4" cy="68.9" r="0.86" fill="#5868e0"/><circle cx="2.2" cy="16.5" r="0.93" fill="#8090ea"/><circle cx="50.7" cy="37.3" r="0.69" fill="#6a78e6"/><circle cx="40.7" cy="5.1" r="0.54" fill="#6a78e6"/><circle cx="19.4" cy="48.4" r="0.52" fill="#7484e8"/><circle cx="57.9" cy="49.5" r="0.88" fill="#4858d8"/><circle cx="41.4" cy="10.1" r="0.69" fill="#7484e8"/><circle cx="8.4" cy="20.6" r="0.60" fill="#6a78e6"/><circle cx="41.0" cy="46.3" r="0.84" fill="#7484e8"/><circle cx="62.6" cy="50.5" r="0.82" fill="#4858d8"/><circle cx="42.6" cy="56.6" r="0.63" fill="#8090ea"/><circle cx="41.3" cy="12.3" r="0.48" fill="#5868e0"/><circle cx="6.1" cy="46.9" r="0.75" fill="#7484e8"/><circle cx="54.7" cy="20.1" r="0.87" fill="#6a78e6"/><circle cx="68.0" cy="71.3" r="0.46" fill="#7484e8"/><circle cx="66.9" cy="33.0" r="0.87" fill="#8090ea"/><circle cx="40.0" cy="64.8" r="0.55" fill="#4858d8"/><circle cx="45.3" cy="9.9" r="0.64" fill="#5868e0"/><circle cx="1.7" cy="54.0" r="0.48" fill="#4858d8"/><circle cx="50.4" cy="22.6" r="0.82" fill="#5868e0"/><circle cx="65.3" cy="74.3" r="0.67" fill="#4858d8"/><circle cx="41.5" cy="0.4" r="0.48" fill="#4858d8"/><circle cx="17.1" cy="6.9" r="0.91" fill="#7484e8"/><circle cx="36.3" cy="45.1" r="0.89" fill="#8090ea"/><circle cx="52.5" cy="34.8" r="0.84" fill="#8090ea"/><circle cx="62.3" cy="70.5" r="0.56" fill="#4858d8"/><circle cx="55.9" cy="62.4" r="0.57" fill="#4858d8"/><circle cx="29.7" cy="16.8" r="0.56" fill="#4858d8"/><circle cx="34.7" cy="26.1" r="0.69" fill="#7484e8"/><circle cx="56.6" cy="56.0" r="0.89" fill="#4858d8"/><circle cx="30.1" cy="12.0" r="0.70" fill="#8090ea"/><circle cx="11.7" cy="57.4" r="0.66" fill="#6a78e6"/><circle cx="35.4" cy="38.1" r="0.84" fill="#6a78e6"/><circle cx="49.1" cy="18.7" r="0.74" fill="#5868e0"/><circle cx="19.8" cy="26.2" r="0.51" fill="#4858d8"/><circle cx="28.3" cy="43.5" r="0.56" fill="#8090ea"/><circle cx="60.6" cy="65.5" r="0.60" fill="#6a78e6"/><circle cx="41.5" cy="45.2" r="0.76" fill="#6a78e6"/><circle cx="52.6" cy="12.8" r="0.79" fill="#5868e0"/><circle cx="59.1" cy="50.9" r="0.86" fill="#8090ea"/><circle cx="62.7" cy="53.6" r="0.67" fill="#5868e0"/><circle cx="11.7" cy="12.9" r="0.90" fill="#4858d8"/><circle cx="16.6" cy="65.1" r="0.64" fill="#6a78e6"/><circle cx="7.5" cy="54.2" r="0.87" fill="#6a78e6"/><circle cx="35.7" cy="40.4" r="0.67" fill="#7484e8"/><circle cx="36.5" cy="7.4" r="0.94" fill="#6a78e6"/><circle cx="33.4" cy="66.8" r="0.77" fill="#5868e0"/><circle cx="40.4" cy="16.3" r="0.84" fill="#4858d8"/><circle cx="47.3" cy="44.6" r="0.92" fill="#6a78e6"/><circle cx="48.7" cy="27.9" r="0.69" fill="#5868e0"/><circle cx="73.7" cy="11.8" r="0.60" fill="#4858d8"/><circle cx="41.4" cy="55.1" r="0.50" fill="#7484e8"/><circle cx="65.4" cy="3.8" r="0.57" fill="#5868e0"/><circle cx="19.2" cy="62.6" r="0.58" fill="#6a78e6"/><circle cx="18.8" cy="22.5" r="0.68" fill="#4858d8"/><circle cx="18.2" cy="66.0" r="0.66" fill="#6a78e6"/><circle cx="64.8" cy="8.6" r="0.82" fill="#8090ea"/><circle cx="52.4" cy="58.6" r="0.95" fill="#6a78e6"/><circle cx="26.3" cy="23.5" r="0.64" fill="#7484e8"/><circle cx="29.5" cy="23.5" r="0.49" fill="#7484e8"/><circle cx="56.2" cy="50.8" r="0.74" fill="#7484e8"/><circle cx="62.4" cy="35.7" r="0.54" fill="#8090ea"/><circle cx="68.0" cy="61.6" r="0.56" fill="#5868e0"/><circle cx="42.0" cy="34.6" r="0.74" fill="#6a78e6"/><circle cx="74.7" cy="38.2" r="0.51" fill="#4858d8"/><circle cx="67.5" cy="32.4" r="0.45" fill="#4858d8"/><circle cx="47.1" cy="47.5" r="0.87" fill="#8090ea"/><circle cx="61.4" cy="65.7" r="0.67" fill="#6a78e6"/><circle cx="10.7" cy="29.5" r="0.45" fill="#4858d8"/><circle cx="1.6" cy="33.2" r="0.61" fill="#7484e8"/><circle cx="17.4" cy="5.1" r="0.47" fill="#5868e0"/><circle cx="21.5" cy="59.4" r="0.60" fill="#7484e8"/><circle cx="51.7" cy="12.2" r="0.50" fill="#5868e0"/><circle cx="74.8" cy="22.5" r="0.84" fill="#4858d8"/><circle cx="52.9" cy="46.3" r="0.77" fill="#8090ea"/><circle cx="67.2" cy="8.8" r="0.68" fill="#8090ea"/><circle cx="72.6" cy="28.8" r="0.67" fill="#6a78e6"/><circle cx="28.5" cy="15.0" r="0.69" fill="#8090ea"/><circle cx="29.5" cy="56.7" r="0.59" fill="#5868e0"/><circle cx="44.0" cy="48.9" r="0.58" fill="#6a78e6"/><circle cx="11.5" cy="29.3" r="0.75" fill="#4858d8"/><circle cx="11.5" cy="39.0" r="0.66" fill="#4858d8"/><circle cx="67.4" cy="17.9" r="0.73" fill="#8090ea"/><circle cx="6.1" cy="46.1" r="0.78" fill="#4858d8"/><circle cx="68.4" cy="33.0" r="0.83" fill="#5868e0"/><circle cx="69.4" cy="8.2" r="0.60" fill="#5868e0"/><circle cx="60.9" cy="27.3" r="0.85" fill="#5868e0"/><circle cx="1.2" cy="11.3" r="0.56" fill="#5868e0"/><circle cx="61.2" cy="41.5" r="0.75" fill="#5868e0"/><circle cx="10.3" cy="61.7" r="0.66" fill="#4858d8"/><circle cx="44.0" cy="23.5" r="0.93" fill="#7484e8"/><circle cx="55.7" cy="7.3" r="0.92" fill="#8090ea"/><circle cx="22.9" cy="4.4" r="0.51" fill="#8090ea"/><circle cx="4.8" cy="52.1" r="0.74" fill="#4858d8"/><circle cx="50.9" cy="21.7" r="0.74" fill="#5868e0"/><circle cx="21.2" cy="44.0" r="0.60" fill="#4858d8"/><circle cx="47.9" cy="38.2" r="0.50" fill="#7484e8"/><circle cx="37.2" cy="17.2" r="0.51" fill="#7484e8"/><circle cx="62.5" cy="21.9" r="0.60" fill="#6a78e6"/><circle cx="31.0" cy="67.0" r="0.59" fill="#7484e8"/><circle cx="67.0" cy="74.4" r="0.92" fill="#4858d8"/><circle cx="71.1" cy="64.3" r="0.85" fill="#6a78e6"/><circle cx="74.9" cy="48.6" r="0.85" fill="#7484e8"/><circle cx="1.1" cy="19.3" r="0.80" fill="#4858d8"/><circle cx="19.5" cy="46.3" r="0.55" fill="#8090ea"/><circle cx="13.1" cy="48.9" r="0.60" fill="#5868e0"/><circle cx="13.9" cy="48.2" r="0.71" fill="#8090ea"/><circle cx="3.2" cy="14.4" r="0.93" fill="#8090ea"/><circle cx="51.5" cy="14.7" r="0.78" fill="#7484e8"/><circle cx="55.6" cy="48.8" r="0.65" fill="#7484e8"/><circle cx="30.0" cy="29.7" r="0.65" fill="#6a78e6"/><circle cx="72.5" cy="58.4" r="0.95" fill="#8090ea"/><circle cx="2.8" cy="6.1" r="0.79" fill="#5868e0"/><circle cx="53.7" cy="70.5" r="0.87" fill="#4858d8"/><circle cx="67.0" cy="34.5" r="0.62" fill="#7484e8"/><circle cx="27.7" cy="60.0" r="0.87" fill="#7484e8"/><circle cx="50.3" cy="12.8" r="0.53" fill="#7484e8"/><circle cx="39.8" cy="35.9" r="0.88" fill="#7484e8"/><circle cx="11.6" cy="53.8" r="0.56" fill="#4858d8"/><circle cx="72.9" cy="21.7" r="0.49" fill="#6a78e6"/><circle cx="29.7" cy="0.9" r="0.67" fill="#8090ea"/><circle cx="35.0" cy="33.1" r="0.77" fill="#5868e0"/><circle cx="7.1" cy="71.0" r="0.65" fill="#6a78e6"/><circle cx="1.8" cy="7.5" r="0.80" fill="#7484e8"/><circle cx="50.1" cy="6.8" r="0.67" fill="#6a78e6"/><circle cx="72.9" cy="28.0" r="0.94" fill="#5868e0"/><circle cx="57.4" cy="44.4" r="0.76" fill="#7484e8"/><circle cx="60.8" cy="52.2" r="0.72" fill="#8090ea"/><circle cx="11.6" cy="40.5" r="0.58" fill="#8090ea"/><circle cx="12.1" cy="6.8" r="0.94" fill="#4858d8"/><circle cx="45.0" cy="69.2" r="0.86" fill="#7484e8"/><circle cx="51.3" cy="3.6" r="0.70" fill="#7484e8"/><circle cx="7.7" cy="25.0" r="0.80" fill="#4858d8"/><circle cx="49.8" cy="70.4" r="0.84" fill="#8090ea"/><circle cx="33.8" cy="35.1" r="0.73" fill="#5868e0"/><circle cx="51.7" cy="13.2" r="0.51" fill="#6a78e6"/><circle cx="15.7" cy="15.7" r="0.78" fill="#6a78e6"/><circle cx="71.3" cy="74.9" r="0.67" fill="#5868e0"/><circle cx="47.4" cy="13.0" r="0.94" fill="#6a78e6"/><circle cx="33.5" cy="5.1" r="0.47" fill="#8090ea"/><circle cx="55.8" cy="37.9" r="0.49" fill="#6a78e6"/><circle cx="63.8" cy="58.6" r="0.74" fill="#6a78e6"/><circle cx="25.5" cy="47.3" r="0.66" fill="#5868e0"/><circle cx="48.5" cy="38.0" r="0.61" fill="#7484e8"/><circle cx="59.2" cy="32.4" r="0.56" fill="#5868e0"/><circle cx="2.0" cy="63.3" r="0.88" fill="#8090ea"/><circle cx="52.4" cy="72.6" r="0.87" fill="#7484e8"/><circle cx="28.4" cy="23.7" r="0.93" fill="#4858d8"/><circle cx="30.7" cy="72.0" r="0.70" fill="#7484e8"/><circle cx="28.2" cy="36.9" r="0.65" fill="#5868e0"/><circle cx="37.4" cy="32.5" r="0.70" fill="#5868e0"/><circle cx="8.7" cy="45.0" r="0.89" fill="#4858d8"/><circle cx="3.4" cy="66.0" r="0.78" fill="#4858d8"/><circle cx="50.2" cy="0.2" r="0.69" fill="#6a78e6"/><circle cx="26.4" cy="35.2" r="0.50" fill="#7484e8"/><circle cx="46.3" cy="24.9" r="0.72" fill="#7484e8"/><circle cx="30.0" cy="66.6" r="0.85" fill="#5868e0"/><circle cx="32.3" cy="66.3" r="0.77" fill="#7484e8"/><circle cx="72.8" cy="46.8" r="0.69" fill="#7484e8"/><circle cx="3.4" cy="21.7" r="0.78" fill="#6a78e6"/><circle cx="24.1" cy="65.8" r="0.48" fill="#6a78e6"/></g>
</svg>
<svg x="257.5" y="516.5" width="75.30" height="75.10" viewBox="0 0 75.30 75.10" overflow="hidden">
<rect width="75.30" height="75.10" fill="#e7e7eb"/>
<g opacity="0.5" filter="url(#b08)"><ellipse cx="2.3" cy="48.7" rx="2.60" ry="1.76" fill="#8c98ee" transform="rotate(151 2.3 48.7)"/><ellipse cx="54.1" cy="73.6" rx="2.55" ry="2.32" fill="#7a88ea" transform="rotate(172 54.1 73.6)"/><ellipse cx="71.7" cy="18.6" rx="2.17" ry="1.98" fill="#4c5ce0" transform="rotate(28 71.7 18.6)"/><ellipse cx="63.6" cy="72.3" rx="1.83" ry="1.96" fill="#5566e4" transform="rotate(49 63.6 72.3)"/><ellipse cx="70.5" cy="12.3" rx="2.66" ry="2.00" fill="#5566e4" transform="rotate(123 70.5 12.3)"/><ellipse cx="24.6" cy="5.3" rx="1.97" ry="2.80" fill="#5566e4" transform="rotate(126 24.6 5.3)"/><ellipse cx="9.2" cy="60.2" rx="2.16" ry="1.61" fill="#6474e6" transform="rotate(39 9.2 60.2)"/><ellipse cx="61.0" cy="17.2" rx="1.40" ry="2.70" fill="#4c5ce0" transform="rotate(18 61.0 17.2)"/><ellipse cx="58.2" cy="47.6" rx="2.65" ry="2.88" fill="#4c5ce0" transform="rotate(176 58.2 47.6)"/><ellipse cx="29.6" cy="10.9" rx="2.41" ry="2.07" fill="#4c5ce0" transform="rotate(109 29.6 10.9)"/><ellipse cx="11.4" cy="52.2" rx="1.43" ry="2.71" fill="#7a88ea" transform="rotate(140 11.4 52.2)"/><ellipse cx="23.1" cy="7.4" rx="1.82" ry="2.56" fill="#8c98ee" transform="rotate(145 23.1 7.4)"/><ellipse cx="33.3" cy="7.0" rx="2.00" ry="1.67" fill="#7a88ea" transform="rotate(13 33.3 7.0)"/><ellipse cx="6.9" cy="50.1" rx="1.53" ry="1.77" fill="#3040d8" transform="rotate(9 6.9 50.1)"/><ellipse cx="47.1" cy="8.8" rx="2.00" ry="1.70" fill="#5566e4" transform="rotate(142 47.1 8.8)"/><ellipse cx="59.1" cy="39.9" rx="2.45" ry="1.59" fill="#8c98ee" transform="rotate(12 59.1 39.9)"/><ellipse cx="22.0" cy="8.8" rx="2.06" ry="2.07" fill="#7a88ea" transform="rotate(156 22.0 8.8)"/><ellipse cx="36.2" cy="28.5" rx="2.78" ry="2.81" fill="#8c98ee" transform="rotate(11 36.2 28.5)"/><ellipse cx="32.2" cy="37.1" rx="1.99" ry="1.75" fill="#3040d8" transform="rotate(138 32.2 37.1)"/><ellipse cx="36.2" cy="28.7" rx="2.66" ry="2.74" fill="#8c98ee" transform="rotate(115 36.2 28.7)"/><ellipse cx="54.5" cy="6.3" rx="1.99" ry="1.63" fill="#8c98ee" transform="rotate(93 54.5 6.3)"/><ellipse cx="68.7" cy="68.0" rx="2.79" ry="2.12" fill="#5566e4" transform="rotate(25 68.7 68.0)"/><ellipse cx="48.2" cy="65.5" rx="2.02" ry="2.89" fill="#6474e6" transform="rotate(49 48.2 65.5)"/><ellipse cx="37.4" cy="65.8" rx="2.71" ry="2.04" fill="#6474e6" transform="rotate(84 37.4 65.8)"/><ellipse cx="14.8" cy="60.1" rx="2.50" ry="1.53" fill="#7a88ea" transform="rotate(56 14.8 60.1)"/><ellipse cx="51.7" cy="34.1" rx="2.05" ry="1.98" fill="#7a88ea" transform="rotate(12 51.7 34.1)"/><ellipse cx="43.9" cy="33.6" rx="2.87" ry="2.02" fill="#4c5ce0" transform="rotate(103 43.9 33.6)"/><ellipse cx="18.1" cy="47.1" rx="2.16" ry="2.89" fill="#4c5ce0" transform="rotate(45 18.1 47.1)"/><ellipse cx="73.7" cy="42.3" rx="1.71" ry="1.48" fill="#7a88ea" transform="rotate(10 73.7 42.3)"/><ellipse cx="37.5" cy="22.4" rx="2.75" ry="2.01" fill="#6474e6" transform="rotate(8 37.5 22.4)"/><ellipse cx="28.6" cy="69.0" rx="2.63" ry="1.85" fill="#6474e6" transform="rotate(25 28.6 69.0)"/><ellipse cx="5.9" cy="24.4" rx="2.69" ry="2.00" fill="#3040d8" transform="rotate(50 5.9 24.4)"/><ellipse cx="17.5" cy="14.0" rx="1.67" ry="2.62" fill="#8c98ee" transform="rotate(170 17.5 14.0)"/><ellipse cx="57.2" cy="10.1" rx="2.47" ry="2.62" fill="#5566e4" transform="rotate(12 57.2 10.1)"/><ellipse cx="17.8" cy="60.8" rx="2.23" ry="1.98" fill="#5566e4" transform="rotate(152 17.8 60.8)"/><ellipse cx="58.9" cy="54.0" rx="1.85" ry="1.75" fill="#3040d8" transform="rotate(40 58.9 54.0)"/><ellipse cx="36.0" cy="26.7" rx="2.45" ry="2.78" fill="#6474e6" transform="rotate(178 36.0 26.7)"/><ellipse cx="41.1" cy="29.2" rx="2.55" ry="1.87" fill="#7a88ea" transform="rotate(78 41.1 29.2)"/><ellipse cx="45.0" cy="15.7" rx="2.87" ry="2.10" fill="#7a88ea" transform="rotate(59 45.0 15.7)"/><ellipse cx="52.3" cy="21.9" rx="2.43" ry="1.61" fill="#8c98ee" transform="rotate(144 52.3 21.9)"/><ellipse cx="63.7" cy="21.4" rx="2.14" ry="1.68" fill="#7a88ea" transform="rotate(178 63.7 21.4)"/><ellipse cx="1.7" cy="22.3" rx="2.77" ry="1.69" fill="#7a88ea" transform="rotate(31 1.7 22.3)"/><ellipse cx="8.8" cy="56.4" rx="1.62" ry="1.54" fill="#4c5ce0" transform="rotate(137 8.8 56.4)"/><ellipse cx="48.4" cy="34.2" rx="2.74" ry="2.55" fill="#3040d8" transform="rotate(125 48.4 34.2)"/><ellipse cx="19.2" cy="71.3" rx="2.83" ry="1.42" fill="#4c5ce0" transform="rotate(41 19.2 71.3)"/><ellipse cx="60.1" cy="19.7" rx="1.91" ry="2.49" fill="#3040d8" transform="rotate(56 60.1 19.7)"/></g>
<g opacity="0.6" filter="url(#b05)"><ellipse cx="57.8" cy="47.8" rx="1.32" ry="1.78" fill="#3a4ade" transform="rotate(176 58.2 47.6)"/><ellipse cx="29.7" cy="10.8" rx="1.21" ry="1.28" fill="#3a4ade" transform="rotate(109 29.6 10.9)"/><ellipse cx="32.1" cy="37.7" rx="1.00" ry="1.08" fill="#3a4ade" transform="rotate(138 32.2 37.1)"/><ellipse cx="54.4" cy="6.3" rx="0.99" ry="1.01" fill="#3a4ade" transform="rotate(93 54.5 6.3)"/><ellipse cx="14.6" cy="60.3" rx="1.25" ry="0.95" fill="#3a4ade" transform="rotate(56 14.8 60.1)"/><ellipse cx="18.1" cy="47.0" rx="1.08" ry="1.79" fill="#3a4ade" transform="rotate(45 18.1 47.1)"/><ellipse cx="73.2" cy="41.9" rx="0.86" ry="0.92" fill="#3a4ade" transform="rotate(10 73.7 42.3)"/><ellipse cx="37.7" cy="22.7" rx="1.38" ry="1.25" fill="#3a4ade" transform="rotate(8 37.5 22.4)"/><ellipse cx="28.6" cy="68.6" rx="1.31" ry="1.15" fill="#3a4ade" transform="rotate(25 28.6 69.0)"/><ellipse cx="57.0" cy="9.8" rx="1.24" ry="1.62" fill="#3a4ade" transform="rotate(12 57.2 10.1)"/><ellipse cx="17.7" cy="61.2" rx="1.12" ry="1.22" fill="#3a4ade" transform="rotate(152 17.8 60.8)"/><ellipse cx="59.1" cy="54.1" rx="0.93" ry="1.08" fill="#3a4ade" transform="rotate(40 58.9 54.0)"/><ellipse cx="36.4" cy="26.2" rx="1.22" ry="1.72" fill="#3a4ade" transform="rotate(178 36.0 26.7)"/><ellipse cx="60.5" cy="19.5" rx="0.96" ry="1.55" fill="#3a4ade" transform="rotate(56 60.1 19.7)"/></g>
</svg>
<rect x="50.3" y="462.7" width="25.6" height="25.9" stroke="#111" stroke-width="0.75" fill="none" stroke-dasharray="1.7 1.0"/>
<path d="M69.1 440 Q80 470 103 496" stroke="#111" stroke-width="0.75" fill="none" stroke-dasharray="1.7 1.0"/>
<rect x="204.7" y="463.2" width="26.8" height="25.4" stroke="#111" stroke-width="0.75" fill="none" stroke-dasharray="1.7 1.0"/>
<path d="M221 440 L255 491.6" stroke="#111" stroke-width="0.75" fill="none" stroke-dasharray="1.7 1.0"/>
<rect x="50.3" y="538.2" width="25.6" height="25.4" stroke="#111" stroke-width="0.75" fill="none" stroke-dasharray="1.7 1.0"/>
<path d="M71.6 516.8 Q84 545 102.5 569.8" stroke="#111" stroke-width="0.75" fill="none" stroke-dasharray="1.7 1.0"/>
<rect x="207.5" y="537.5" width="25" height="26" stroke="#111" stroke-width="0.75" fill="none" stroke-dasharray="1.7 1.0"/>
<path d="M220 517.5 L255 567.5" stroke="#111" stroke-width="0.75" fill="none" stroke-dasharray="1.7 1.0"/>
<text x="36.00" y="451.00" font-size="5.4" font-weight="bold" text-anchor="start" fill="#222">Peri-infarct</text>
<text x="80.40" y="451.00" font-size="5.4" font-weight="bold" text-anchor="start" fill="#222">Infarct</text>
<ellipse cx="84.5" cy="530" rx="2" ry="3" fill="#d8b868" opacity="0.55" filter="url(#b08)"/>
<ellipse cx="95.5" cy="524.8" rx="2.6" ry="1.8" fill="#d8b868" opacity="0.55" filter="url(#b08)"/>
<path d="M248.6 586.6h3" stroke="#111" stroke-width="0.8"/>
<path d="M318.5 587.6h10" stroke="#111" stroke-width="0.9"/>
<text x="369.50" y="428.50" font-size="14.5" font-weight="bold" text-anchor="start" fill="#000">K</text>
<rect x="407.50" y="424.20" width="82.30" height="14.80" fill="#fff" stroke="#382e2a" stroke-width="1.4"/>
<rect x="492.60" y="424.20" width="81.60" height="14.80" fill="#fff" stroke="#382e2a" stroke-width="1.4"/>
<rect x="576.70" y="424.20" width="82.30" height="14.80" fill="#fff" stroke="#382e2a" stroke-width="1.4"/>
<text x="448.7" y="434.2" font-size="6.8" font-weight="bold" text-anchor="middle"><tspan fill="#18e018">c-caspase-3</tspan><tspan fill="#222">/</tspan><tspan fill="#f01010">NeuN</tspan><tspan fill="#222">/</tspan><tspan fill="#1818f0">DAPI</tspan></text>
<text x="533.40" y="434.20" font-size="6.8" font-weight="bold" text-anchor="middle" fill="#18e018">c-caspase-3</text>
<text x="617.80" y="434.20" font-size="6.8" font-weight="bold" text-anchor="middle" fill="#f01010">NeuN</text>
<rect x="390.20" y="441.20" width="14.60" height="82.10" fill="#fff" stroke="#382e2a" stroke-width="1.4"/>
<text x="400.00" y="485.75" font-size="6.8" font-weight="bold" text-anchor="middle" fill="#222" transform="rotate(-90 400.00 485.75)">Control</text>
<rect x="390.20" y="526.20" width="14.60" height="81.60" fill="#fff" stroke="#382e2a" stroke-width="1.4"/>
<text x="400.00" y="571.80" font-size="6.8" font-weight="bold" text-anchor="middle" fill="#222" transform="rotate(-90 400.00 571.80)">LDN-212320</text>
<rect x="390.20" y="610.70" width="14.60" height="81.80" fill="#fff" stroke="#382e2a" stroke-width="1.4"/>
<text x="400.00" y="655.10" font-size="6.8" font-weight="bold" text-anchor="middle" fill="#222" transform="rotate(-90 400.00 655.10)">Control</text>
<rect x="390.20" y="695.20" width="14.60" height="82.10" fill="#fff" stroke="#382e2a" stroke-width="1.4"/>
<text x="400.00" y="741.05" font-size="6.8" font-weight="bold" text-anchor="middle" fill="#222" transform="rotate(-90 400.00 741.05)">LDN-212320</text>
<svg x="407.3" y="441" width="82.70" height="82.50" viewBox="0 0 82.70 82.50" overflow="hidden">
<rect width="82.70" height="82.50" fill="#020216"/>
<g filter="url(#b05)"><ellipse cx="37.5" cy="46.1" rx="2.22" ry="1.71" fill="#1428ff" opacity="0.83" transform="rotate(150 37.5 46.1)"/><ellipse cx="16.3" cy="65.7" rx="1.72" ry="1.88" fill="#1428ff" opacity="0.72" transform="rotate(114 16.3 65.7)"/><ellipse cx="25.5" cy="8.3" rx="2.09" ry="1.96" fill="#1428ff" opacity="0.66" transform="rotate(101 25.5 8.3)"/><ellipse cx="78.9" cy="53.6" rx="1.88" ry="1.37" fill="#1428ff" opacity="0.66" transform="rotate(135 78.9 53.6)"/><ellipse cx="6.1" cy="3.9" rx="2.17" ry="1.86" fill="#1428ff" opacity="0.92" transform="rotate(83 6.1 3.9)"/><ellipse cx="36.6" cy="68.8" rx="1.77" ry="1.9" fill="#1428ff" opacity="0.82" transform="rotate(169 36.6 68.8)"/><ellipse cx="7.9" cy="53.7" rx="1.65" ry="1.81" fill="#1428ff" opacity="0.98" transform="rotate(21 7.9 53.7)"/><ellipse cx="58.1" cy="26.4" rx="1.45" ry="1.52" fill="#1428ff" opacity="0.67" transform="rotate(27 58.1 26.4)"/><ellipse cx="33.3" cy="69.1" rx="1.63" ry="2.25" fill="#1428ff" opacity="0.95" transform="rotate(0 33.3 69.1)"/><ellipse cx="18.2" cy="75.6" rx="1.26" ry="1.61" fill="#1428ff" opacity="0.9" transform="rotate(107 18.2 75.6)"/><ellipse cx="6.9" cy="51.7" rx="2.06" ry="1.5" fill="#1428ff" opacity="0.68" transform="rotate(85 6.9 51.7)"/><ellipse cx="2.2" cy="34.0" rx="2.22" ry="1.35" fill="#1428ff" opacity="0.9" transform="rotate(2 2.2 34.0)"/><ellipse cx="5.8" cy="65.2" rx="1.4" ry="1.82" fill="#1428ff" opacity="0.81" transform="rotate(48 5.8 65.2)"/><ellipse cx="80.5" cy="62.9" rx="1.66" ry="1.62" fill="#1428ff" opacity="0.79" transform="rotate(54 80.5 62.9)"/><ellipse cx="1.0" cy="70.6" rx="2.27" ry="1.85" fill="#1428ff" opacity="1.0" transform="rotate(5 1.0 70.6)"/><ellipse cx="18.0" cy="32.7" rx="2.14" ry="1.91" fill="#1428ff" opacity="0.69" transform="rotate(37 18.0 32.7)"/><ellipse cx="18.2" cy="21.8" rx="2.05" ry="1.56" fill="#1428ff" opacity="0.75" transform="rotate(18 18.2 21.8)"/><ellipse cx="7.0" cy="17.8" rx="1.9" ry="1.22" fill="#1428ff" opacity="0.78" transform="rotate(159 7.0 17.8)"/><ellipse cx="37.6" cy="78.2" rx="1.73" ry="1.83" fill="#1428ff" opacity="0.95" transform="rotate(46 37.6 78.2)"/><ellipse cx="51.6" cy="26.0" rx="1.45" ry="1.87" fill="#1428ff" opacity="0.9" transform="rotate(40 51.6 26.0)"/><ellipse cx="60.7" cy="76.7" rx="1.42" ry="2.25" fill="#1428ff" opacity="0.96" transform="rotate(154 60.7 76.7)"/><ellipse cx="7.3" cy="4.8" rx="1.32" ry="1.76" fill="#1428ff" opacity="0.74" transform="rotate(180 7.3 4.8)"/><ellipse cx="32.6" cy="34.9" rx="2.2" ry="1.74" fill="#1428ff" opacity="0.83" transform="rotate(17 32.6 34.9)"/><ellipse cx="11.2" cy="39.6" rx="1.92" ry="1.88" fill="#1428ff" opacity="0.68" transform="rotate(54 11.2 39.6)"/><ellipse cx="75.0" cy="17.4" rx="1.22" ry="1.5" fill="#1428ff" opacity="0.81" transform="rotate(15 75.0 17.4)"/><ellipse cx="4.8" cy="23.7" rx="1.78" ry="2.27" fill="#1428ff" opacity="0.68" transform="rotate(35 4.8 23.7)"/><ellipse cx="72.9" cy="79.9" rx="1.92" ry="1.96" fill="#1428ff" opacity="0.85" transform="rotate(35 72.9 79.9)"/><ellipse cx="48.6" cy="75.3" rx="1.72" ry="1.59" fill="#1428ff" opacity="0.76" transform="rotate(8 48.6 75.3)"/><ellipse cx="2.7" cy="52.2" rx="1.73" ry="2.0" fill="#1428ff" opacity="0.76" transform="rotate(18 2.7 52.2)"/><ellipse cx="7.1" cy="45.0" rx="2.01" ry="2.19" fill="#1428ff" opacity="0.91" transform="rotate(180 7.1 45.0)"/><ellipse cx="11.5" cy="78.6" rx="1.58" ry="1.29" fill="#1428ff" opacity="0.82" transform="rotate(19 11.5 78.6)"/><ellipse cx="71.3" cy="34.6" rx="2.07" ry="2.15" fill="#1428ff" opacity="0.85" transform="rotate(159 71.3 34.6)"/><ellipse cx="54.4" cy="31.5" rx="1.21" ry="1.28" fill="#1428ff" opacity="0.68" transform="rotate(29 54.4 31.5)"/><ellipse cx="81.2" cy="71.8" rx="2.0" ry="1.63" fill="#1428ff" opacity="0.91" transform="rotate(148 81.2 71.8)"/><ellipse cx="37.9" cy="38.2" rx="1.8" ry="1.77" fill="#1428ff" opacity="0.83" transform="rotate(79 37.9 38.2)"/><ellipse cx="49.5" cy="39.7" rx="1.45" ry="1.97" fill="#1428ff" opacity="0.82" transform="rotate(157 49.5 39.7)"/><ellipse cx="54.3" cy="40.1" rx="2.19" ry="1.6" fill="#1428ff" opacity="0.7" transform="rotate(156 54.3 40.1)"/><ellipse cx="17.3" cy="14.7" rx="2.2" ry="1.93" fill="#1428ff" opacity="0.8" transform="rotate(61 17.3 14.7)"/></g>
<g style="mix-blend-mode:screen"><g filter="url(#cellf)"><ellipse cx="28.4" cy="11.3" rx="3.3" ry="3.3" fill="#ff1010" opacity="1" transform="rotate(0 28.4 11.3)"/><ellipse cx="7.5" cy="26.4" rx="3.3" ry="3.3" fill="#ff1010" opacity="1" transform="rotate(0 7.5 26.4)"/><ellipse cx="59.8" cy="46.5" rx="3.6" ry="3.2" fill="#ff1010" opacity="1" transform="rotate(0 59.8 46.5)"/><ellipse cx="42.2" cy="45.2" rx="2" ry="3.6" fill="#ff1010" opacity="1" transform="rotate(-20 42.2 45.2)"/><ellipse cx="22" cy="55.5" rx="2.8" ry="2.2" fill="#ff1010" opacity="0.9" transform="rotate(0 22 55.5)"/><ellipse cx="4.5" cy="65.3" rx="2.4" ry="2" fill="#ff1010" opacity="0.9" transform="rotate(0 4.5 65.3)"/><ellipse cx="38.4" cy="70.4" rx="3" ry="2.6" fill="#ff1010" opacity="1" transform="rotate(0 38.4 70.4)"/><ellipse cx="57.3" cy="21" rx="2.4" ry="4.5" fill="#ff1010" opacity="0.8" transform="rotate(-10 57.3 21)"/><ellipse cx="72.4" cy="7.5" rx="3" ry="1.5" fill="#ff1010" opacity="0.8" transform="rotate(-20 72.4 7.5)"/><ellipse cx="67.3" cy="21.4" rx="2.5" ry="4" fill="#ff1010" opacity="0.6" transform="rotate(0 67.3 21.4)"/><ellipse cx="57.3" cy="75.4" rx="1.6" ry="3" fill="#ff1010" opacity="0.8" transform="rotate(20 57.3 75.4)"/><ellipse cx="28.4" cy="3.3" rx="1.2" ry="2" fill="#ff1010" opacity="0.8" transform="rotate(0 28.4 3.3)"/><ellipse cx="49" cy="20" rx="2" ry="1.5" fill="#ff1010" opacity="0.5" transform="rotate(0 49 20)"/><ellipse cx="30" cy="78" rx="1.5" ry="2.5" fill="#ff1010" opacity="0.6" transform="rotate(0 30 78)"/><ellipse cx="8" cy="80" rx="1.5" ry="2" fill="#ff1010" opacity="0.6" transform="rotate(0 8 80)"/><ellipse cx="77" cy="72" rx="1.5" ry="2.5" fill="#ff1010" opacity="0.6" transform="rotate(0 77 72)"/></g></g>
<g style="mix-blend-mode:screen"><g filter="url(#cellf)"><ellipse cx="29.5" cy="11.3" rx="3.3" ry="3.3" fill="#10f010" opacity="1" transform="rotate(0 29.5 11.3)"/><ellipse cx="7.2" cy="26.4" rx="3.2" ry="3.2" fill="#10f010" opacity="1" transform="rotate(0 7.2 26.4)"/><ellipse cx="59.5" cy="46.5" rx="3.6" ry="3.2" fill="#10f010" opacity="1" transform="rotate(0 59.5 46.5)"/><ellipse cx="42.2" cy="45.2" rx="1.8" ry="3.6" fill="#10f010" opacity="1" transform="rotate(-20 42.2 45.2)"/><ellipse cx="20.5" cy="57" rx="2.6" ry="2" fill="#10f010" opacity="1" transform="rotate(0 20.5 57)"/><ellipse cx="4.7" cy="65.3" rx="2.2" ry="2.2" fill="#10f010" opacity="1" transform="rotate(0 4.7 65.3)"/><ellipse cx="39.3" cy="70.6" rx="3" ry="2.6" fill="#10f010" opacity="1" transform="rotate(0 39.3 70.6)"/><ellipse cx="57" cy="19.5" rx="1.4" ry="4" fill="#10f010" opacity="0.9" transform="rotate(-10 57 19.5)"/><ellipse cx="72" cy="7" rx="1.5" ry="1" fill="#10f010" opacity="0.8" transform="rotate(0 72 7)"/><ellipse cx="28" cy="3.5" rx="1.2" ry="1.8" fill="#10f010" opacity="0.7" transform="rotate(0 28 3.5)"/></g></g>
<g filter="url(#b05)"><ellipse cx="30.7" cy="12.5" rx="1.3" ry="1.3" fill="#2a50ff" opacity="0.9" transform="rotate(0 30.7 12.5)"/><ellipse cx="8.4" cy="27.599999999999998" rx="1.3" ry="1.3" fill="#2a50ff" opacity="0.9" transform="rotate(0 8.4 27.599999999999998)"/><ellipse cx="60.7" cy="47.7" rx="1.3" ry="1.3" fill="#2a50ff" opacity="0.9" transform="rotate(0 60.7 47.7)"/><ellipse cx="43.400000000000006" cy="46.400000000000006" rx="1.3" ry="1.3" fill="#2a50ff" opacity="0.9" transform="rotate(0 43.400000000000006 46.400000000000006)"/><ellipse cx="21.7" cy="58.2" rx="1.3" ry="1.3" fill="#2a50ff" opacity="0.9" transform="rotate(0 21.7 58.2)"/><ellipse cx="5.9" cy="66.5" rx="1.3" ry="1.3" fill="#2a50ff" opacity="0.9" transform="rotate(0 5.9 66.5)"/></g>
<path d="M0.3 0 L-5.2 -2.6 L-3.5 0 L-5.2 2.6Z" fill="#fff" transform="translate(35.1 6.2) rotate(135)"/>
<path d="M0.3 0 L-5.2 -2.6 L-3.5 0 L-5.2 2.6Z" fill="#fff" transform="translate(10.4 22.8) rotate(135)"/>
<path d="M0.3 0 L-5.2 -2.6 L-3.5 0 L-5.2 2.6Z" fill="#fff" transform="translate(45.6 40.3) rotate(135)"/>
<path d="M0.3 0 L-5.2 -2.6 L-3.5 0 L-5.2 2.6Z" fill="#fff" transform="translate(64.4 42.9) rotate(135)"/>
<path d="M0.3 0 L-5.2 -2.6 L-3.5 0 L-5.2 2.6Z" fill="#fff" transform="translate(28.0 50.1) rotate(135)"/>
<path d="M0.3 0 L-5.2 -2.6 L-3.5 0 L-5.2 2.6Z" fill="#fff" transform="translate(8.1 62.2) rotate(135)"/>
<path d="M0.3 0 L-5.2 -2.6 L-3.5 0 L-5.2 2.6Z" fill="#fff" transform="translate(43.3 66.5) rotate(135)"/>
<text x="1.80" y="7.60" font-size="6.8" font-weight="bold" text-anchor="start" fill="#fff">YAP<tspan font-size="4" dy="-2.2">f/f</tspan></text>
</svg>
<svg x="492.4" y="441" width="82.00" height="82.50" viewBox="0 0 82.00 82.50" overflow="hidden">
<rect width="82.00" height="82.50" fill="#000"/>
<g filter="url(#cellf)"><ellipse cx="29.5" cy="11.3" rx="3.3" ry="3.3" fill="#12e612" opacity="1" transform="rotate(0 29.5 11.3)"/><ellipse cx="7.2" cy="26.4" rx="3.2" ry="3.2" fill="#12e612" opacity="1" transform="rotate(0 7.2 26.4)"/><ellipse cx="59.5" cy="46.5" rx="3.6" ry="3.2" fill="#12e612" opacity="1" transform="rotate(0 59.5 46.5)"/><ellipse cx="42.2" cy="45.2" rx="1.8" ry="3.6" fill="#12e612" opacity="1" transform="rotate(-20 42.2 45.2)"/><ellipse cx="20.5" cy="57" rx="2.6" ry="2" fill="#12e612" opacity="1" transform="rotate(0 20.5 57)"/><ellipse cx="4.7" cy="65.3" rx="2.2" ry="2.2" fill="#12e612" opacity="1" transform="rotate(0 4.7 65.3)"/><ellipse cx="39.3" cy="70.6" rx="3" ry="2.6" fill="#12e612" opacity="1" transform="rotate(0 39.3 70.6)"/><ellipse cx="57" cy="19.5" rx="1.4" ry="4" fill="#12e612" opacity="0.9" transform="rotate(-10 57 19.5)"/><ellipse cx="72" cy="7" rx="1.5" ry="1" fill="#12e612" opacity="0.8" transform="rotate(0 72 7)"/><ellipse cx="28" cy="3.5" rx="1.2" ry="1.8" fill="#12e612" opacity="0.7" transform="rotate(0 28 3.5)"/></g>
</svg>
<svg x="576.5" y="441" width="82.70" height="82.50" viewBox="0 0 82.70 82.50" overflow="hidden">
<rect width="82.70" height="82.50" fill="#000"/>
<g filter="url(#cellf)"><ellipse cx="28.4" cy="11.3" rx="3.3" ry="3.3" fill="#f01010" opacity="1" transform="rotate(0 28.4 11.3)"/><ellipse cx="7.5" cy="26.4" rx="3.3" ry="3.3" fill="#f01010" opacity="1" transform="rotate(0 7.5 26.4)"/><ellipse cx="59.8" cy="46.5" rx="3.6" ry="3.2" fill="#f01010" opacity="1" transform="rotate(0 59.8 46.5)"/><ellipse cx="42.2" cy="45.2" rx="2" ry="3.6" fill="#f01010" opacity="1" transform="rotate(-20 42.2 45.2)"/><ellipse cx="22" cy="55.5" rx="2.8" ry="2.2" fill="#f01010" opacity="0.9" transform="rotate(0 22 55.5)"/><ellipse cx="4.5" cy="65.3" rx="2.4" ry="2" fill="#f01010" opacity="0.9" transform="rotate(0 4.5 65.3)"/><ellipse cx="38.4" cy="70.4" rx="3" ry="2.6" fill="#f01010" opacity="1" transform="rotate(0 38.4 70.4)"/><ellipse cx="57.3" cy="21" rx="2.4" ry="4.5" fill="#f01010" opacity="0.8" transform="rotate(-10 57.3 21)"/><ellipse cx="72.4" cy="7.5" rx="3" ry="1.5" fill="#f01010" opacity="0.8" transform="rotate(-20 72.4 7.5)"/><ellipse cx="67.3" cy="21.4" rx="2.5" ry="4" fill="#f01010" opacity="0.6" transform="rotate(0 67.3 21.4)"/><ellipse cx="57.3" cy="75.4" rx="1.6" ry="3" fill="#f01010" opacity="0.8" transform="rotate(20 57.3 75.4)"/><ellipse cx="28.4" cy="3.3" rx="1.2" ry="2" fill="#f01010" opacity="0.8" transform="rotate(0 28.4 3.3)"/><ellipse cx="49" cy="20" rx="2" ry="1.5" fill="#f01010" opacity="0.5" transform="rotate(0 49 20)"/><ellipse cx="30" cy="78" rx="1.5" ry="2.5" fill="#f01010" opacity="0.6" transform="rotate(0 30 78)"/><ellipse cx="8" cy="80" rx="1.5" ry="2" fill="#f01010" opacity="0.6" transform="rotate(0 8 80)"/><ellipse cx="77" cy="72" rx="1.5" ry="2.5" fill="#f01010" opacity="0.6" transform="rotate(0 77 72)"/></g>
</svg>
<svg x="407.3" y="526" width="82.70" height="82.00" viewBox="0 0 82.70 82.00" overflow="hidden">
<rect width="82.70" height="82.00" fill="#020216"/>
<g filter="url(#b05)"><ellipse cx="27.4" cy="54.3" rx="1.42" ry="1.67" fill="#1428ff" opacity="0.93" transform="rotate(51 27.4 54.3)"/><ellipse cx="72.0" cy="31.8" rx="1.84" ry="1.55" fill="#1428ff" opacity="0.7" transform="rotate(127 72.0 31.8)"/><ellipse cx="29.3" cy="72.7" rx="1.24" ry="1.27" fill="#1428ff" opacity="0.99" transform="rotate(43 29.3 72.7)"/><ellipse cx="10.1" cy="38.7" rx="2.22" ry="2.11" fill="#1428ff" opacity="0.78" transform="rotate(133 10.1 38.7)"/><ellipse cx="40.9" cy="26.2" rx="2.12" ry="2.28" fill="#1428ff" opacity="0.81" transform="rotate(19 40.9 26.2)"/><ellipse cx="67.9" cy="23.2" rx="1.87" ry="1.95" fill="#1428ff" opacity="0.75" transform="rotate(90 67.9 23.2)"/><ellipse cx="25.9" cy="64.3" rx="1.22" ry="1.35" fill="#1428ff" opacity="0.81" transform="rotate(6 25.9 64.3)"/><ellipse cx="63.1" cy="22.3" rx="2.06" ry="2.08" fill="#1428ff" opacity="0.99" transform="rotate(29 63.1 22.3)"/><ellipse cx="37.0" cy="51.4" rx="1.92" ry="2.09" fill="#1428ff" opacity="0.99" transform="rotate(175 37.0 51.4)"/><ellipse cx="17.0" cy="66.9" rx="1.48" ry="1.99" fill="#1428ff" opacity="0.91" transform="rotate(136 17.0 66.9)"/><ellipse cx="58.6" cy="15.3" rx="1.5" ry="1.58" fill="#1428ff" opacity="0.89" transform="rotate(133 58.6 15.3)"/><ellipse cx="41.4" cy="80.7" rx="1.38" ry="2.13" fill="#1428ff" opacity="0.89" transform="rotate(57 41.4 80.7)"/><ellipse cx="8.0" cy="75.6" rx="1.99" ry="1.34" fill="#1428ff" opacity="0.81" transform="rotate(160 8.0 75.6)"/><ellipse cx="72.6" cy="1.5" rx="1.81" ry="1.92" fill="#1428ff" opacity="0.83" transform="rotate(87 72.6 1.5)"/><ellipse cx="38.4" cy="53.1" rx="1.43" ry="1.99" fill="#1428ff" opacity="0.94" transform="rotate(164 38.4 53.1)"/><ellipse cx="75.6" cy="10.9" rx="1.47" ry="1.63" fill="#1428ff" opacity="0.68" transform="rotate(79 75.6 10.9)"/><ellipse cx="44.3" cy="64.3" rx="1.55" ry="2.2" fill="#1428ff" opacity="0.95" transform="rotate(89 44.3 64.3)"/><ellipse cx="41.7" cy="4.0" rx="1.58" ry="1.66" fill="#1428ff" opacity="0.75" transform="rotate(7 41.7 4.0)"/><ellipse cx="18.6" cy="70.4" rx="1.67" ry="1.24" fill="#1428ff" opacity="0.84" transform="rotate(175 18.6 70.4)"/><ellipse cx="64.6" cy="12.2" rx="1.36" ry="1.77" fill="#1428ff" opacity="0.9" transform="rotate(173 64.6 12.2)"/><ellipse cx="56.6" cy="76.7" rx="1.74" ry="2.24" fill="#1428ff" opacity="0.68" transform="rotate(56 56.6 76.7)"/><ellipse cx="36.5" cy="45.7" rx="2.11" ry="1.82" fill="#1428ff" opacity="0.71" transform="rotate(131 36.5 45.7)"/><ellipse cx="69.1" cy="45.8" rx="1.54" ry="1.62" fill="#1428ff" opacity="0.95" transform="rotate(156 69.1 45.8)"/><ellipse cx="17.8" cy="69.1" rx="2.27" ry="1.78" fill="#1428ff" opacity="0.85" transform="rotate(51 17.8 69.1)"/><ellipse cx="34.2" cy="10.1" rx="1.21" ry="1.61" fill="#1428ff" opacity="0.84" transform="rotate(11 34.2 10.1)"/><ellipse cx="42.6" cy="33.0" rx="2.08" ry="1.82" fill="#1428ff" opacity="0.82" transform="rotate(176 42.6 33.0)"/><ellipse cx="14.5" cy="75.5" rx="1.7" ry="2.21" fill="#1428ff" opacity="0.93" transform="rotate(103 14.5 75.5)"/><ellipse cx="22.7" cy="38.9" rx="1.34" ry="1.68" fill="#1428ff" opacity="0.94" transform="rotate(121 22.7 38.9)"/><ellipse cx="43.4" cy="9.7" rx="1.66" ry="1.23" fill="#1428ff" opacity="0.74" transform="rotate(179 43.4 9.7)"/><ellipse cx="63.9" cy="2.8" rx="1.41" ry="1.45" fill="#1428ff" opacity="0.89" transform="rotate(82 63.9 2.8)"/><ellipse cx="59.4" cy="20.6" rx="1.75" ry="1.75" fill="#1428ff" opacity="0.85" transform="rotate(130 59.4 20.6)"/><ellipse cx="51.3" cy="58.4" rx="1.97" ry="2.17" fill="#1428ff" opacity="0.66" transform="rotate(162 51.3 58.4)"/><ellipse cx="34.4" cy="43.3" rx="1.38" ry="1.42" fill="#1428ff" opacity="0.87" transform="rotate(163 34.4 43.3)"/><ellipse cx="18.6" cy="18.3" rx="1.8" ry="1.85" fill="#1428ff" opacity="0.7" transform="rotate(160 18.6 18.3)"/><ellipse cx="66.4" cy="73.2" rx="1.55" ry="1.55" fill="#1428ff" opacity="0.97" transform="rotate(55 66.4 73.2)"/><ellipse cx="63.8" cy="16.6" rx="1.31" ry="2.18" fill="#1428ff" opacity="0.7" transform="rotate(22 63.8 16.6)"/><ellipse cx="21.9" cy="8.8" rx="2.12" ry="1.66" fill="#1428ff" opacity="0.93" transform="rotate(32 21.9 8.8)"/><ellipse cx="17.2" cy="51.2" rx="2.08" ry="1.31" fill="#1428ff" opacity="0.85" transform="rotate(91 17.2 51.2)"/><ellipse cx="74.5" cy="78.5" rx="1.33" ry="1.76" fill="#1428ff" opacity="0.92" transform="rotate(128 74.5 78.5)"/><ellipse cx="81.6" cy="67.6" rx="2.08" ry="1.73" fill="#1428ff" opacity="0.66" transform="rotate(141 81.6 67.6)"/><ellipse cx="50.5" cy="73.4" rx="1.73" ry="1.41" fill="#1428ff" opacity="0.69" transform="rotate(44 50.5 73.4)"/><ellipse cx="68.8" cy="80.2" rx="2.22" ry="1.3" fill="#1428ff" opacity="0.67" transform="rotate(174 68.8 80.2)"/><ellipse cx="38.3" cy="62.2" rx="1.56" ry="1.71" fill="#1428ff" opacity="0.83" transform="rotate(110 38.3 62.2)"/><ellipse cx="18.0" cy="30.9" rx="1.9" ry="1.24" fill="#1428ff" opacity="0.72" transform="rotate(104 18.0 30.9)"/><ellipse cx="37.6" cy="60.1" rx="1.65" ry="1.41" fill="#1428ff" opacity="0.71" transform="rotate(131 37.6 60.1)"/><ellipse cx="64.9" cy="26.9" rx="1.29" ry="2.13" fill="#1428ff" opacity="0.96" transform="rotate(161 64.9 26.9)"/><ellipse cx="76.8" cy="46.6" rx="1.41" ry="1.84" fill="#1428ff" opacity="0.77" transform="rotate(66 76.8 46.6)"/><ellipse cx="23.6" cy="10.3" rx="2.02" ry="1.38" fill="#1428ff" opacity="0.98" transform="rotate(34 23.6 10.3)"/></g>
<g style="mix-blend-mode:screen"><g filter="url(#cellf)"><ellipse cx="7" cy="23.4" rx="3.4" ry="3.8" fill="#ff1010" opacity="1" transform="rotate(0 7 23.4)"/><ellipse cx="61" cy="6.8" rx="3.2" ry="3.2" fill="#ff1010" opacity="1" transform="rotate(0 61 6.8)"/><ellipse cx="8.3" cy="55.3" rx="2.6" ry="2" fill="#ff1010" opacity="0.8" transform="rotate(0 8.3 55.3)"/><ellipse cx="13.3" cy="68.6" rx="2.4" ry="2.2" fill="#ff1010" opacity="0.8" transform="rotate(0 13.3 68.6)"/><ellipse cx="64.8" cy="77" rx="3" ry="2.8" fill="#ff1010" opacity="0.6" transform="rotate(0 64.8 77)"/><ellipse cx="41" cy="56.5" rx="1.4" ry="2" fill="#ff1010" opacity="0.5" transform="rotate(0 41 56.5)"/><ellipse cx="77.4" cy="24" rx="2.5" ry="3.5" fill="#ff1010" opacity="0.35" transform="rotate(0 77.4 24)"/><ellipse cx="72" cy="10" rx="2" ry="6" fill="#ff1010" opacity="0.35" transform="rotate(-15 72 10)"/><ellipse cx="4" cy="72" rx="1.2" ry="2" fill="#ff1010" opacity="0.4" transform="rotate(0 4 72)"/></g></g>
<g style="mix-blend-mode:screen"><g filter="url(#cellf)"><ellipse cx="7" cy="23.4" rx="3.4" ry="3.4" fill="#10f010" opacity="1" transform="rotate(0 7 23.4)"/><ellipse cx="60.5" cy="6.8" rx="3.5" ry="3.5" fill="#10f010" opacity="1" transform="rotate(0 60.5 6.8)"/><ellipse cx="7.8" cy="55.3" rx="2.6" ry="2.2" fill="#10f010" opacity="0.45" transform="rotate(0 7.8 55.3)"/><ellipse cx="11.8" cy="69" rx="2.4" ry="2.4" fill="#10f010" opacity="0.4" transform="rotate(0 11.8 69)"/><ellipse cx="41.5" cy="55.3" rx="1.5" ry="2.2" fill="#10f010" opacity="0.5" transform="rotate(0 41.5 55.3)"/><ellipse cx="64.7" cy="77" rx="3" ry="3" fill="#10f010" opacity="0.7" transform="rotate(0 64.7 77)"/><ellipse cx="70" cy="12" rx="5" ry="9" fill="#10f010" opacity="0.18" transform="rotate(-20 70 12)"/></g></g>
<g filter="url(#b05)"><ellipse cx="8.2" cy="24.599999999999998" rx="1.3" ry="1.3" fill="#2a50ff" opacity="0.9" transform="rotate(0 8.2 24.599999999999998)"/><ellipse cx="61.7" cy="8.0" rx="1.3" ry="1.3" fill="#2a50ff" opacity="0.9" transform="rotate(0 61.7 8.0)"/><ellipse cx="9.0" cy="56.5" rx="1.3" ry="1.3" fill="#2a50ff" opacity="0.9" transform="rotate(0 9.0 56.5)"/><ellipse cx="13.0" cy="70.2" rx="1.3" ry="1.3" fill="#2a50ff" opacity="0.9" transform="rotate(0 13.0 70.2)"/><ellipse cx="42.7" cy="56.5" rx="1.3" ry="1.3" fill="#2a50ff" opacity="0.9" transform="rotate(0 42.7 56.5)"/><ellipse cx="65.9" cy="78.2" rx="1.3" ry="1.3" fill="#2a50ff" opacity="0.9" transform="rotate(0 65.9 78.2)"/></g>
<path d="M0.3 0 L-5.2 -2.6 L-3.5 0 L-5.2 2.6Z" fill="#fff" transform="translate(65.9 4.9) rotate(135)"/>
<path d="M0.3 0 L-5.2 -2.6 L-3.5 0 L-5.2 2.6Z" fill="#fff" transform="translate(10.4 19.5) rotate(135)"/>
<path d="M0.3 0 L-5.2 -2.6 L-3.5 0 L-5.2 2.6Z" fill="#fff" transform="translate(11.1 52.9) rotate(135)"/>
<path d="M0.3 0 L-5.2 -2.6 L-3.5 0 L-5.2 2.6Z" fill="#fff" transform="translate(17.9 66.5) rotate(135)"/>
<path d="M0.3 0 L-5.2 -2.6 L-3.5 0 L-5.2 2.6Z" fill="#fff" transform="translate(8.1 72.9) rotate(135)"/>
<path d="M0.3 0 L-5.2 -2.6 L-3.5 0 L-5.2 2.6Z" fill="#fff" transform="translate(70.1 72.9) rotate(135)"/>
</svg>
<svg x="492.4" y="526" width="82.00" height="82.00" viewBox="0 0 82.00 82.00" overflow="hidden">
<rect width="82.00" height="82.00" fill="#000"/>
<g filter="url(#cellf)"><ellipse cx="7" cy="23.4" rx="3.4" ry="3.4" fill="#12e612" opacity="1" transform="rotate(0 7 23.4)"/><ellipse cx="60.5" cy="6.8" rx="3.5" ry="3.5" fill="#12e612" opacity="1" transform="rotate(0 60.5 6.8)"/><ellipse cx="7.8" cy="55.3" rx="2.6" ry="2.2" fill="#12e612" opacity="0.45" transform="rotate(0 7.8 55.3)"/><ellipse cx="11.8" cy="69" rx="2.4" ry="2.4" fill="#12e612" opacity="0.4" transform="rotate(0 11.8 69)"/><ellipse cx="41.5" cy="55.3" rx="1.5" ry="2.2" fill="#12e612" opacity="0.5" transform="rotate(0 41.5 55.3)"/><ellipse cx="64.7" cy="77" rx="3" ry="3" fill="#12e612" opacity="0.7" transform="rotate(0 64.7 77)"/><ellipse cx="70" cy="12" rx="5" ry="9" fill="#12e612" opacity="0.18" transform="rotate(-20 70 12)"/></g>
</svg>
<svg x="576.5" y="526" width="82.70" height="82.00" viewBox="0 0 82.70 82.00" overflow="hidden">
<rect width="82.70" height="82.00" fill="#000"/>
<g filter="url(#cellf)"><ellipse cx="7" cy="23.4" rx="3.4" ry="3.8" fill="#f01010" opacity="1" transform="rotate(0 7 23.4)"/><ellipse cx="61" cy="6.8" rx="3.2" ry="3.2" fill="#f01010" opacity="1" transform="rotate(0 61 6.8)"/><ellipse cx="8.3" cy="55.3" rx="2.6" ry="2" fill="#f01010" opacity="0.8" transform="rotate(0 8.3 55.3)"/><ellipse cx="13.3" cy="68.6" rx="2.4" ry="2.2" fill="#f01010" opacity="0.8" transform="rotate(0 13.3 68.6)"/><ellipse cx="64.8" cy="77" rx="3" ry="2.8" fill="#f01010" opacity="0.6" transform="rotate(0 64.8 77)"/><ellipse cx="41" cy="56.5" rx="1.4" ry="2" fill="#f01010" opacity="0.5" transform="rotate(0 41 56.5)"/><ellipse cx="77.4" cy="24" rx="2.5" ry="3.5" fill="#f01010" opacity="0.35" transform="rotate(0 77.4 24)"/><ellipse cx="72" cy="10" rx="2" ry="6" fill="#f01010" opacity="0.35" transform="rotate(-15 72 10)"/><ellipse cx="4" cy="72" rx="1.2" ry="2" fill="#f01010" opacity="0.4" transform="rotate(0 4 72)"/></g>
</svg>
<svg x="407.3" y="610.5" width="82.70" height="82.20" viewBox="0 0 82.70 82.20" overflow="hidden">
<rect width="82.70" height="82.20" fill="#000"/>
<g filter="url(#b05)"><ellipse cx="73.4" cy="71.6" rx="1.96" ry="2.04" fill="#1428ff" opacity="0.92" transform="rotate(103 73.4 71.6)"/><ellipse cx="17.7" cy="15.8" rx="2.08" ry="1.53" fill="#1428ff" opacity="0.69" transform="rotate(91 17.7 15.8)"/><ellipse cx="80.9" cy="73.4" rx="1.25" ry="1.5" fill="#1428ff" opacity="0.99" transform="rotate(76 80.9 73.4)"/><ellipse cx="28.3" cy="53.9" rx="1.83" ry="1.79" fill="#1428ff" opacity="0.79" transform="rotate(127 28.3 53.9)"/><ellipse cx="52.8" cy="57.2" rx="2.04" ry="2.28" fill="#1428ff" opacity="0.66" transform="rotate(157 52.8 57.2)"/><ellipse cx="9.7" cy="20.0" rx="1.69" ry="1.76" fill="#1428ff" opacity="0.92" transform="rotate(165 9.7 20.0)"/><ellipse cx="31.3" cy="8.9" rx="1.48" ry="2.2" fill="#1428ff" opacity="0.84" transform="rotate(130 31.3 8.9)"/><ellipse cx="34.5" cy="42.8" rx="2.13" ry="1.31" fill="#1428ff" opacity="0.81" transform="rotate(165 34.5 42.8)"/><ellipse cx="7.1" cy="48.9" rx="2.04" ry="1.25" fill="#1428ff" opacity="0.98" transform="rotate(40 7.1 48.9)"/><ellipse cx="32.1" cy="78.8" rx="2.14" ry="1.8" fill="#1428ff" opacity="0.86" transform="rotate(109 32.1 78.8)"/><ellipse cx="77.3" cy="34.7" rx="1.78" ry="1.86" fill="#1428ff" opacity="0.78" transform="rotate(73 77.3 34.7)"/><ellipse cx="40.0" cy="22.6" rx="2.22" ry="1.93" fill="#1428ff" opacity="0.91" transform="rotate(6 40.0 22.6)"/><ellipse cx="2.1" cy="20.7" rx="1.25" ry="1.37" fill="#1428ff" opacity="0.91" transform="rotate(99 2.1 20.7)"/><ellipse cx="5.3" cy="26.3" rx="1.64" ry="1.84" fill="#1428ff" opacity="0.9" transform="rotate(81 5.3 26.3)"/><ellipse cx="6.9" cy="73.6" rx="1.67" ry="1.73" fill="#1428ff" opacity="0.99" transform="rotate(62 6.9 73.6)"/><ellipse cx="4.7" cy="8.9" rx="2.09" ry="2.2" fill="#1428ff" opacity="0.7" transform="rotate(62 4.7 8.9)"/><ellipse cx="49.7" cy="10.2" rx="1.89" ry="1.7" fill="#1428ff" opacity="0.72" transform="rotate(13 49.7 10.2)"/><ellipse cx="29.8" cy="13.4" rx="1.6" ry="1.35" fill="#1428ff" opacity="0.8" transform="rotate(153 29.8 13.4)"/><ellipse cx="22.2" cy="47.7" rx="1.66" ry="2.06" fill="#1428ff" opacity="0.84" transform="rotate(35 22.2 47.7)"/><ellipse cx="77.9" cy="59.9" rx="1.46" ry="1.33" fill="#1428ff" opacity="0.96" transform="rotate(129 77.9 59.9)"/><ellipse cx="51.4" cy="29.8" rx="1.5" ry="1.95" fill="#1428ff" opacity="0.85" transform="rotate(151 51.4 29.8)"/><ellipse cx="16.3" cy="23.3" rx="1.46" ry="2.25" fill="#1428ff" opacity="0.83" transform="rotate(167 16.3 23.3)"/><ellipse cx="74.9" cy="71.5" rx="1.24" ry="1.27" fill="#1428ff" opacity="0.74" transform="rotate(108 74.9 71.5)"/><ellipse cx="3.2" cy="4.1" rx="1.44" ry="1.51" fill="#1428ff" opacity="0.91" transform="rotate(173 3.2 4.1)"/><ellipse cx="14.0" cy="19.8" rx="2.28" ry="1.73" fill="#1428ff" opacity="0.77" transform="rotate(86 14.0 19.8)"/><ellipse cx="28.7" cy="60.7" rx="2.12" ry="1.28" fill="#1428ff" opacity="0.69" transform="rotate(159 28.7 60.7)"/></g>
<g style="mix-blend-mode:screen"><g filter="url(#cellf)"><ellipse cx="56.8" cy="10" rx="3.6" ry="3.2" fill="#ff1010" opacity="0.85" transform="rotate(0 56.8 10)"/><ellipse cx="66" cy="8.3" rx="2.4" ry="2" fill="#ff1010" opacity="0.7" transform="rotate(0 66 8.3)"/><ellipse cx="39.7" cy="27" rx="4.6" ry="4" fill="#ff1010" opacity="1" transform="rotate(0 39.7 27)"/><ellipse cx="3.3" cy="31" rx="3.4" ry="3.8" fill="#ff1010" opacity="0.85" transform="rotate(0 3.3 31)"/><ellipse cx="11.3" cy="29.6" rx="2.6" ry="2.4" fill="#ff1010" opacity="0.8" transform="rotate(0 11.3 29.6)"/><ellipse cx="59.8" cy="31" rx="2.4" ry="2.6" fill="#ff1010" opacity="0.9" transform="rotate(0 59.8 31)"/><ellipse cx="71" cy="38.4" rx="4.4" ry="3.2" fill="#ff1010" opacity="1" transform="rotate(0 71 38.4)"/><ellipse cx="46" cy="42.2" rx="2.6" ry="2" fill="#ff1010" opacity="0.4" transform="rotate(0 46 42.2)"/><ellipse cx="25" cy="50.2" rx="1.4" ry="1.4" fill="#ff1010" opacity="1" transform="rotate(0 25 50.2)"/><ellipse cx="44.7" cy="56.8" rx="2" ry="1.6" fill="#ff1010" opacity="0.8" transform="rotate(0 44.7 56.8)"/><ellipse cx="17" cy="56" rx="3" ry="1.5" fill="#ff1010" opacity="0.45" transform="rotate(0 17 56)"/><ellipse cx="59" cy="73" rx="4.6" ry="5" fill="#ff1010" opacity="1" transform="rotate(0 59 73)"/><ellipse cx="78" cy="30" rx="1.5" ry="2" fill="#ff1010" opacity="0.7" transform="rotate(0 78 30)"/><ellipse cx="9" cy="54" rx="1" ry="1" fill="#ff1010" opacity="0.7" transform="rotate(0 9 54)"/></g></g>
<g style="mix-blend-mode:screen"><g filter="url(#cellf)"><ellipse cx="55.3" cy="8.5" rx="4" ry="3.6" fill="#10f010" opacity="1" transform="rotate(0 55.3 8.5)"/><ellipse cx="64" cy="9.5" rx="3.6" ry="3.8" fill="#10f010" opacity="0.8" transform="rotate(0 64 9.5)"/><ellipse cx="39" cy="27" rx="5" ry="4.2" fill="#10f010" opacity="1" transform="rotate(0 39 27)"/><ellipse cx="49" cy="27.6" rx="2.2" ry="2.6" fill="#10f010" opacity="0.8" transform="rotate(0 49 27.6)"/><ellipse cx="59" cy="31" rx="3" ry="2.6" fill="#10f010" opacity="1" transform="rotate(0 59 31)"/><ellipse cx="70.4" cy="38.4" rx="4.4" ry="3.2" fill="#10f010" opacity="1" transform="rotate(0 70.4 38.4)"/><ellipse cx="45.2" cy="42.2" rx="3.6" ry="3.2" fill="#10f010" opacity="0.7" transform="rotate(0 45.2 42.2)"/><ellipse cx="45.2" cy="56" rx="3.4" ry="3.6" fill="#10f010" opacity="0.85" transform="rotate(0 45.2 56)"/><ellipse cx="58.5" cy="73" rx="4.8" ry="5.2" fill="#10f010" opacity="1" transform="rotate(0 58.5 73)"/><ellipse cx="2.8" cy="31" rx="3.6" ry="4" fill="#10f010" opacity="1" transform="rotate(0 2.8 31)"/><ellipse cx="11.6" cy="30" rx="3.4" ry="3.8" fill="#10f010" opacity="0.9" transform="rotate(0 11.6 30)"/><ellipse cx="17.8" cy="56.8" rx="4" ry="3.6" fill="#10f010" opacity="0.6" transform="rotate(0 17.8 56.8)"/><ellipse cx="77" cy="27" rx="2" ry="3" fill="#10f010" opacity="0.7" transform="rotate(0 77 27)"/><ellipse cx="50" cy="68" rx="1.6" ry="2.4" fill="#10f010" opacity="0.45" transform="rotate(0 50 68)"/></g></g>
<g filter="url(#b05)"><ellipse cx="56.5" cy="9.7" rx="1.3" ry="1.3" fill="#2a50ff" opacity="0.9" transform="rotate(0 56.5 9.7)"/><ellipse cx="65.2" cy="10.7" rx="1.3" ry="1.3" fill="#2a50ff" opacity="0.9" transform="rotate(0 65.2 10.7)"/><ellipse cx="40.2" cy="28.2" rx="1.3" ry="1.3" fill="#2a50ff" opacity="0.9" transform="rotate(0 40.2 28.2)"/><ellipse cx="50.2" cy="28.8" rx="1.3" ry="1.3" fill="#2a50ff" opacity="0.9" transform="rotate(0 50.2 28.8)"/><ellipse cx="60.2" cy="32.2" rx="1.3" ry="1.3" fill="#2a50ff" opacity="0.9" transform="rotate(0 60.2 32.2)"/><ellipse cx="71.60000000000001" cy="39.6" rx="1.3" ry="1.3" fill="#2a50ff" opacity="0.9" transform="rotate(0 71.60000000000001 39.6)"/></g>
<path d="M0.3 0 L-5.2 -2.6 L-3.5 0 L-5.2 2.6Z" fill="#fff" transform="translate(59.4 5.2) rotate(135)"/>
<path d="M0.3 0 L-5.2 -2.6 L-3.5 0 L-5.2 2.6Z" fill="#fff" transform="translate(69.5 5.2) rotate(135)"/>
<path d="M0.3 0 L-5.2 -2.6 L-3.5 0 L-5.2 2.6Z" fill="#fff" transform="translate(4.9 23.9) rotate(135)"/>
<path d="M0.3 0 L-5.2 -2.6 L-3.5 0 L-5.2 2.6Z" fill="#fff" transform="translate(15.7 23.9) rotate(135)"/>
<path d="M0.3 0 L-5.2 -2.6 L-3.5 0 L-5.2 2.6Z" fill="#fff" transform="translate(43.1 20.9) rotate(135)"/>
<path d="M0.3 0 L-5.2 -2.6 L-3.5 0 L-5.2 2.6Z" fill="#fff" transform="translate(53.4 23.5) rotate(135)"/>
<path d="M0.3 0 L-5.2 -2.6 L-3.5 0 L-5.2 2.6Z" fill="#fff" transform="translate(64.4 26.5) rotate(135)"/>
<path d="M0.3 0 L-5.2 -2.6 L-3.5 0 L-5.2 2.6Z" fill="#fff" transform="translate(74.0 32.9) rotate(135)"/>
<path d="M0.3 0 L-5.2 -2.6 L-3.5 0 L-5.2 2.6Z" fill="#fff" transform="translate(49.4 37.9) rotate(135)"/>
<path d="M0.3 0 L-5.2 -2.6 L-3.5 0 L-5.2 2.6Z" fill="#fff" transform="translate(22.5 51.6) rotate(135)"/>
<path d="M0.3 0 L-5.2 -2.6 L-3.5 0 L-5.2 2.6Z" fill="#fff" transform="translate(48.9 52.1) rotate(135)"/>
<path d="M0.3 0 L-5.2 -2.6 L-3.5 0 L-5.2 2.6Z" fill="#fff" transform="translate(61.9 65.5) rotate(135)"/>
<text x="1.80" y="7.20" font-size="6.6" font-weight="bold" text-anchor="start" fill="#fff">YAP<tspan font-size="4" dy="-2.2">GFAP</tspan><tspan dy="2.2">-CKO</tspan></text>
</svg>
<svg x="492.4" y="610.5" width="82.00" height="82.20" viewBox="0 0 82.00 82.20" overflow="hidden">
<rect width="82.00" height="82.20" fill="#000"/>
<g filter="url(#cellf)"><ellipse cx="55.3" cy="8.5" rx="4" ry="3.6" fill="#12e612" opacity="1" transform="rotate(0 55.3 8.5)"/><ellipse cx="64" cy="9.5" rx="3.6" ry="3.8" fill="#12e612" opacity="0.8" transform="rotate(0 64 9.5)"/><ellipse cx="39" cy="27" rx="5" ry="4.2" fill="#12e612" opacity="1" transform="rotate(0 39 27)"/><ellipse cx="49" cy="27.6" rx="2.2" ry="2.6" fill="#12e612" opacity="0.8" transform="rotate(0 49 27.6)"/><ellipse cx="59" cy="31" rx="3" ry="2.6" fill="#12e612" opacity="1" transform="rotate(0 59 31)"/><ellipse cx="70.4" cy="38.4" rx="4.4" ry="3.2" fill="#12e612" opacity="1" transform="rotate(0 70.4 38.4)"/><ellipse cx="45.2" cy="42.2" rx="3.6" ry="3.2" fill="#12e612" opacity="0.7" transform="rotate(0 45.2 42.2)"/><ellipse cx="45.2" cy="56" rx="3.4" ry="3.6" fill="#12e612" opacity="0.85" transform="rotate(0 45.2 56)"/><ellipse cx="58.5" cy="73" rx="4.8" ry="5.2" fill="#12e612" opacity="1" transform="rotate(0 58.5 73)"/><ellipse cx="2.8" cy="31" rx="3.6" ry="4" fill="#12e612" opacity="1" transform="rotate(0 2.8 31)"/><ellipse cx="11.6" cy="30" rx="3.4" ry="3.8" fill="#12e612" opacity="0.9" transform="rotate(0 11.6 30)"/><ellipse cx="17.8" cy="56.8" rx="4" ry="3.6" fill="#12e612" opacity="0.6" transform="rotate(0 17.8 56.8)"/><ellipse cx="77" cy="27" rx="2" ry="3" fill="#12e612" opacity="0.7" transform="rotate(0 77 27)"/><ellipse cx="50" cy="68" rx="1.6" ry="2.4" fill="#12e612" opacity="0.45" transform="rotate(0 50 68)"/></g>
</svg>
<svg x="576.5" y="610.5" width="82.70" height="82.20" viewBox="0 0 82.70 82.20" overflow="hidden">
<rect width="82.70" height="82.20" fill="#000"/>
<g filter="url(#cellf)"><ellipse cx="56.8" cy="10" rx="3.6" ry="3.2" fill="#f01010" opacity="0.85" transform="rotate(0 56.8 10)"/><ellipse cx="66" cy="8.3" rx="2.4" ry="2" fill="#f01010" opacity="0.7" transform="rotate(0 66 8.3)"/><ellipse cx="39.7" cy="27" rx="4.6" ry="4" fill="#f01010" opacity="1" transform="rotate(0 39.7 27)"/><ellipse cx="3.3" cy="31" rx="3.4" ry="3.8" fill="#f01010" opacity="0.85" transform="rotate(0 3.3 31)"/><ellipse cx="11.3" cy="29.6" rx="2.6" ry="2.4" fill="#f01010" opacity="0.8" transform="rotate(0 11.3 29.6)"/><ellipse cx="59.8" cy="31" rx="2.4" ry="2.6" fill="#f01010" opacity="0.9" transform="rotate(0 59.8 31)"/><ellipse cx="71" cy="38.4" rx="4.4" ry="3.2" fill="#f01010" opacity="1" transform="rotate(0 71 38.4)"/><ellipse cx="46" cy="42.2" rx="2.6" ry="2" fill="#f01010" opacity="0.4" transform="rotate(0 46 42.2)"/><ellipse cx="25" cy="50.2" rx="1.4" ry="1.4" fill="#f01010" opacity="1" transform="rotate(0 25 50.2)"/><ellipse cx="44.7" cy="56.8" rx="2" ry="1.6" fill="#f01010" opacity="0.8" transform="rotate(0 44.7 56.8)"/><ellipse cx="17" cy="56" rx="3" ry="1.5" fill="#f01010" opacity="0.45" transform="rotate(0 17 56)"/><ellipse cx="59" cy="73" rx="4.6" ry="5" fill="#f01010" opacity="1" transform="rotate(0 59 73)"/><ellipse cx="78" cy="30" rx="1.5" ry="2" fill="#f01010" opacity="0.7" transform="rotate(0 78 30)"/><ellipse cx="9" cy="54" rx="1" ry="1" fill="#f01010" opacity="0.7" transform="rotate(0 9 54)"/></g>
</svg>
<svg x="407.3" y="695" width="82.70" height="82.50" viewBox="0 0 82.70 82.50" overflow="hidden">
<rect width="82.70" height="82.50" fill="#000"/>
<g filter="url(#b05)"><ellipse cx="68.6" cy="62.9" rx="1.69" ry="2.02" fill="#1428ff" opacity="0.79" transform="rotate(38 68.6 62.9)"/><ellipse cx="30.8" cy="53.6" rx="2.29" ry="1.56" fill="#1428ff" opacity="0.84" transform="rotate(47 30.8 53.6)"/><ellipse cx="35.5" cy="30.7" rx="1.31" ry="2.16" fill="#1428ff" opacity="0.68" transform="rotate(21 35.5 30.7)"/><ellipse cx="35.9" cy="46.7" rx="2.1" ry="1.71" fill="#1428ff" opacity="0.94" transform="rotate(2 35.9 46.7)"/><ellipse cx="7.1" cy="18.2" rx="1.93" ry="1.29" fill="#1428ff" opacity="0.76" transform="rotate(177 7.1 18.2)"/><ellipse cx="27.5" cy="72.0" rx="1.44" ry="1.92" fill="#1428ff" opacity="0.76" transform="rotate(30 27.5 72.0)"/><ellipse cx="27.0" cy="36.5" rx="1.85" ry="2.19" fill="#1428ff" opacity="0.89" transform="rotate(71 27.0 36.5)"/><ellipse cx="36.3" cy="65.6" rx="1.54" ry="1.55" fill="#1428ff" opacity="0.79" transform="rotate(132 36.3 65.6)"/></g>
<g style="mix-blend-mode:screen"><g filter="url(#cellf)"><ellipse cx="36" cy="2" rx="2" ry="1.6" fill="#ff1010" opacity="1" transform="rotate(0 36 2)"/><ellipse cx="70" cy="4.5" rx="4" ry="2.6" fill="#ff1010" opacity="0.9" transform="rotate(0 70 4.5)"/><ellipse cx="34.7" cy="11.3" rx="2" ry="1.4" fill="#ff1010" opacity="1" transform="rotate(0 34.7 11.3)"/><ellipse cx="28.4" cy="18.8" rx="2.8" ry="2.2" fill="#ff1010" opacity="1" transform="rotate(0 28.4 18.8)"/><ellipse cx="60.3" cy="16.3" rx="3.4" ry="3.8" fill="#ff1010" opacity="1" transform="rotate(0 60.3 16.3)"/><ellipse cx="61" cy="25" rx="3.4" ry="2.8" fill="#ff1010" opacity="1" transform="rotate(0 61 25)"/><ellipse cx="17" cy="37.7" rx="4.6" ry="3.6" fill="#ff1010" opacity="0.95" transform="rotate(0 17 37.7)"/><ellipse cx="46.5" cy="45.2" rx="2.6" ry="3.8" fill="#ff1010" opacity="1" transform="rotate(0 46.5 45.2)"/><ellipse cx="58" cy="44.5" rx="2.4" ry="2.8" fill="#ff1010" opacity="1" transform="rotate(0 58 44.5)"/><ellipse cx="54.8" cy="52.3" rx="2" ry="2" fill="#ff1010" opacity="1" transform="rotate(0 54.8 52.3)"/><ellipse cx="61" cy="57.8" rx="2" ry="3" fill="#ff1010" opacity="0.9" transform="rotate(0 61 57.8)"/><ellipse cx="16.6" cy="69" rx="2.2" ry="1.3" fill="#ff1010" opacity="1" transform="rotate(0 16.6 69)"/><ellipse cx="25.9" cy="71.6" rx="1.5" ry="1.2" fill="#ff1010" opacity="1" transform="rotate(0 25.9 71.6)"/><ellipse cx="47.2" cy="67.8" rx="3" ry="1.8" fill="#ff1010" opacity="0.7" transform="rotate(0 47.2 67.8)"/><ellipse cx="21" cy="2" rx="2.5" ry="1" fill="#ff1010" opacity="0.8" transform="rotate(0 21 2)"/><ellipse cx="29" cy="2.5" rx="1.5" ry="1" fill="#ff1010" opacity="1" transform="rotate(0 29 2.5)"/><ellipse cx="74" cy="19" rx="0.9" ry="0.9" fill="#ff1010" opacity="1" transform="rotate(0 74 19)"/><ellipse cx="39" cy="58" rx="1.2" ry="1" fill="#ff1010" opacity="1" transform="rotate(0 39 58)"/><ellipse cx="43" cy="55" rx="1.2" ry="1" fill="#ff1010" opacity="1" transform="rotate(0 43 55)"/><ellipse cx="62" cy="33" rx="0.8" ry="1.5" fill="#ff1010" opacity="1" transform="rotate(0 62 33)"/></g></g>
<g style="mix-blend-mode:screen"><g filter="url(#cellf)"><ellipse cx="59.8" cy="16.3" rx="3.8" ry="4.2" fill="#10f010" opacity="1" transform="rotate(0 59.8 16.3)"/><ellipse cx="46.5" cy="45.2" rx="2.6" ry="4" fill="#10f010" opacity="1" transform="rotate(0 46.5 45.2)"/><ellipse cx="17.8" cy="37.7" rx="4.6" ry="4" fill="#10f010" opacity="1" transform="rotate(0 17.8 37.7)"/><ellipse cx="49" cy="66.6" rx="3.2" ry="2" fill="#10f010" opacity="0.6" transform="rotate(0 49 66.6)"/><ellipse cx="61.5" cy="34" rx="1.2" ry="1.2" fill="#10f010" opacity="0.7" transform="rotate(0 61.5 34)"/><ellipse cx="25" cy="3" rx="2.5" ry="0.8" fill="#10f010" opacity="0.6" transform="rotate(0 25 3)"/><ellipse cx="3" cy="38" rx="1.5" ry="2.5" fill="#10f010" opacity="0.4" transform="rotate(0 3 38)"/><ellipse cx="8" cy="70" rx="1.2" ry="1.2" fill="#10f010" opacity="0.6" transform="rotate(0 8 70)"/></g></g>
<g filter="url(#b05)"><ellipse cx="61.0" cy="17.5" rx="1.3" ry="1.3" fill="#2a50ff" opacity="0.9" transform="rotate(0 61.0 17.5)"/><ellipse cx="47.7" cy="46.400000000000006" rx="1.3" ry="1.3" fill="#2a50ff" opacity="0.9" transform="rotate(0 47.7 46.400000000000006)"/><ellipse cx="19.0" cy="38.900000000000006" rx="1.3" ry="1.3" fill="#2a50ff" opacity="0.9" transform="rotate(0 19.0 38.900000000000006)"/><ellipse cx="50.2" cy="67.8" rx="1.3" ry="1.3" fill="#2a50ff" opacity="0.9" transform="rotate(0 50.2 67.8)"/><ellipse cx="62.7" cy="35.2" rx="1.3" ry="1.3" fill="#2a50ff" opacity="0.9" transform="rotate(0 62.7 35.2)"/><ellipse cx="26.2" cy="4.2" rx="1.3" ry="1.3" fill="#2a50ff" opacity="0.9" transform="rotate(0 26.2 4.2)"/></g>
<path d="M0.3 0 L-5.2 -2.6 L-3.5 0 L-5.2 2.6Z" fill="#fff" transform="translate(65.1 11.4) rotate(135)"/>
<path d="M0.3 0 L-5.2 -2.6 L-3.5 0 L-5.2 2.6Z" fill="#fff" transform="translate(22.0 30.8) rotate(135)"/>
<path d="M0.3 0 L-5.2 -2.6 L-3.5 0 L-5.2 2.6Z" fill="#fff" transform="translate(50.6 39.6) rotate(135)"/>
<path d="M0.3 0 L-5.2 -2.6 L-3.5 0 L-5.2 2.6Z" fill="#fff" transform="translate(56.9 63.4) rotate(135)"/>
</svg>
<svg x="492.4" y="695" width="82.00" height="82.50" viewBox="0 0 82.00 82.50" overflow="hidden">
<rect width="82.00" height="82.50" fill="#000"/>
<g filter="url(#cellf)"><ellipse cx="59.8" cy="16.3" rx="3.8" ry="4.2" fill="#12e612" opacity="1" transform="rotate(0 59.8 16.3)"/><ellipse cx="46.5" cy="45.2" rx="2.6" ry="4" fill="#12e612" opacity="1" transform="rotate(0 46.5 45.2)"/><ellipse cx="17.8" cy="37.7" rx="4.6" ry="4" fill="#12e612" opacity="1" transform="rotate(0 17.8 37.7)"/><ellipse cx="49" cy="66.6" rx="3.2" ry="2" fill="#12e612" opacity="0.6" transform="rotate(0 49 66.6)"/><ellipse cx="61.5" cy="34" rx="1.2" ry="1.2" fill="#12e612" opacity="0.7" transform="rotate(0 61.5 34)"/><ellipse cx="25" cy="3" rx="2.5" ry="0.8" fill="#12e612" opacity="0.6" transform="rotate(0 25 3)"/><ellipse cx="3" cy="38" rx="1.5" ry="2.5" fill="#12e612" opacity="0.4" transform="rotate(0 3 38)"/><ellipse cx="8" cy="70" rx="1.2" ry="1.2" fill="#12e612" opacity="0.6" transform="rotate(0 8 70)"/></g>
</svg>
<svg x="576.5" y="695" width="82.70" height="82.50" viewBox="0 0 82.70 82.50" overflow="hidden">
<rect width="82.70" height="82.50" fill="#000"/>
<g filter="url(#cellf)"><ellipse cx="36" cy="2" rx="2" ry="1.6" fill="#f01010" opacity="1" transform="rotate(0 36 2)"/><ellipse cx="70" cy="4.5" rx="4" ry="2.6" fill="#f01010" opacity="0.9" transform="rotate(0 70 4.5)"/><ellipse cx="34.7" cy="11.3" rx="2" ry="1.4" fill="#f01010" opacity="1" transform="rotate(0 34.7 11.3)"/><ellipse cx="28.4" cy="18.8" rx="2.8" ry="2.2" fill="#f01010" opacity="1" transform="rotate(0 28.4 18.8)"/><ellipse cx="60.3" cy="16.3" rx="3.4" ry="3.8" fill="#f01010" opacity="1" transform="rotate(0 60.3 16.3)"/><ellipse cx="61" cy="25" rx="3.4" ry="2.8" fill="#f01010" opacity="1" transform="rotate(0 61 25)"/><ellipse cx="17" cy="37.7" rx="4.6" ry="3.6" fill="#f01010" opacity="0.95" transform="rotate(0 17 37.7)"/><ellipse cx="46.5" cy="45.2" rx="2.6" ry="3.8" fill="#f01010" opacity="1" transform="rotate(0 46.5 45.2)"/><ellipse cx="58" cy="44.5" rx="2.4" ry="2.8" fill="#f01010" opacity="1" transform="rotate(0 58 44.5)"/><ellipse cx="54.8" cy="52.3" rx="2" ry="2" fill="#f01010" opacity="1" transform="rotate(0 54.8 52.3)"/><ellipse cx="61" cy="57.8" rx="2" ry="3" fill="#f01010" opacity="0.9" transform="rotate(0 61 57.8)"/><ellipse cx="16.6" cy="69" rx="2.2" ry="1.3" fill="#f01010" opacity="1" transform="rotate(0 16.6 69)"/><ellipse cx="25.9" cy="71.6" rx="1.5" ry="1.2" fill="#f01010" opacity="1" transform="rotate(0 25.9 71.6)"/><ellipse cx="47.2" cy="67.8" rx="3" ry="1.8" fill="#f01010" opacity="0.7" transform="rotate(0 47.2 67.8)"/><ellipse cx="21" cy="2" rx="2.5" ry="1" fill="#f01010" opacity="0.8" transform="rotate(0 21 2)"/><ellipse cx="29" cy="2.5" rx="1.5" ry="1" fill="#f01010" opacity="1" transform="rotate(0 29 2.5)"/><ellipse cx="74" cy="19" rx="0.9" ry="0.9" fill="#f01010" opacity="1" transform="rotate(0 74 19)"/><ellipse cx="39" cy="58" rx="1.2" ry="1" fill="#f01010" opacity="1" transform="rotate(0 39 58)"/><ellipse cx="43" cy="55" rx="1.2" ry="1" fill="#f01010" opacity="1" transform="rotate(0 43 55)"/><ellipse cx="62" cy="33" rx="0.8" ry="1.5" fill="#f01010" opacity="1" transform="rotate(0 62 33)"/></g>
<path d="M68.6 77.4h7.6" stroke="#fff" stroke-width="0.8"/>
</svg>
<text x="11.00" y="802.00" font-size="14.5" font-weight="bold" text-anchor="start" fill="#000">M</text>
<text x="127.50" y="811.00" font-size="9.4" font-weight="bold" text-anchor="middle" fill="#111">YAP<tspan font-size="5.6" dy="-3.0">f/f</tspan></text>
<text x="180.80" y="811.00" font-size="9.4" font-weight="bold" text-anchor="middle" fill="#111">YAP<tspan font-size="5.6" dy="-3.0">GFAP</tspan><tspan dy="3.0">-CKO</tspan></text>
<path d="M98.1 814.4H149.9M154.6 814.4H206.6" stroke="#222" stroke-width="0.9"/>
<text x="86.30" y="859.60" font-size="9.5" font-weight="bold" text-anchor="start" fill="#111" transform="rotate(-45 86.30 859.60)">Control</text>
<text x="112.40" y="860.40" font-size="9.5" font-weight="bold" text-anchor="start" fill="#111" transform="rotate(-45 112.40 860.40)">LDN-212320</text>
<text x="142.40" y="859.60" font-size="9.5" font-weight="bold" text-anchor="start" fill="#111" transform="rotate(-45 142.40 859.60)">Control</text>
<text x="168.40" y="860.40" font-size="9.5" font-weight="bold" text-anchor="start" fill="#111" transform="rotate(-45 168.40 860.40)">LDN-212320</text>
<svg x="80.1" y="864.1" width="114.90" height="25.20" viewBox="80.1 864.1 114.90 25.20" overflow="hidden">
<rect x="80.1" y="864.1" width="114.90" height="25.20" fill="#e0e0e0"/>
<rect x="84" y="868" width="108" height="18" fill="#bdbdbd" opacity="0.5" filter="url(#b2)"/>
<g filter="url(#b12)"><ellipse cx="95.4" cy="877.6" rx="11" ry="3.6" fill="#666" opacity="0.55"/><ellipse cx="150.6" cy="878.2" rx="10" ry="3.2" fill="#777" opacity="0.38"/><rect x="112.6" y="868.2" width="22.8" height="16" rx="4" fill="url(#eaat)"/><rect x="167.2" y="868.6" width="24" height="16.2" rx="4" fill="url(#eaat)"/></g>
</svg>
<rect x="80.1" y="864.1" width="114.90" height="25.20" fill="none" stroke="#3a302c" stroke-width="1"/>
<svg x="80.1" y="893.7" width="114.90" height="26.00" viewBox="80.1 893.7 114.90 26.00" overflow="hidden">
<rect x="80.1" y="893.7" width="114.90" height="26.00" fill="#f3f3f3"/>
<g filter="url(#b12)"><ellipse cx="95" cy="907.4" rx="11.6" ry="3.5" fill="#000" opacity="1"/><ellipse cx="123.5" cy="906.7" rx="11" ry="2.2" fill="#151515" opacity="0.92"/><ellipse cx="152" cy="906.1" rx="11.5" ry="3.0" fill="#000" opacity="1"/><ellipse cx="180.7" cy="907.6" rx="11" ry="2.0" fill="#333" opacity="0.8"/></g>
</svg>
<rect x="80.1" y="893.7" width="114.90" height="26.00" fill="none" stroke="#3a302c" stroke-width="1"/>
<svg x="80.1" y="924.1" width="114.90" height="25.20" viewBox="80.1 924.1 114.90 25.20" overflow="hidden">
<rect x="80.1" y="924.1" width="114.90" height="25.20" fill="#f3f3f3"/>
<g filter="url(#b12)"><ellipse cx="95" cy="937.8" rx="11.4" ry="2.7" fill="#000" opacity="1"/><ellipse cx="123" cy="937.5" rx="11.3" ry="2.5" fill="#000" opacity="1"/><ellipse cx="150" cy="937.4" rx="10" ry="1.8" fill="#222" opacity="0.85"/><ellipse cx="180" cy="936.9" rx="11.5" ry="2.4" fill="#000" opacity="0.95"/></g>
</svg>
<rect x="80.1" y="924.1" width="114.90" height="25.20" fill="none" stroke="#3a302c" stroke-width="1"/>
<svg x="80.1" y="954.1" width="114.90" height="25.60" viewBox="80.1 954.1 114.90 25.60" overflow="hidden">
<rect x="80.1" y="954.1" width="114.90" height="25.60" fill="#eeeeee"/>
<g filter="url(#b12)"><ellipse cx="95" cy="962.3" rx="12.8" ry="4.0" fill="#000" opacity="1"/><ellipse cx="123.2" cy="962" rx="12.4" ry="3.3" fill="#0c0c0c" opacity="1"/><ellipse cx="150.8" cy="962" rx="12.4" ry="3.3" fill="#0c0c0c" opacity="1"/><ellipse cx="179.2" cy="961.3" rx="13.6" ry="4.0" fill="#000" opacity="1"/></g>
</svg>
<rect x="80.1" y="954.1" width="114.90" height="25.60" fill="none" stroke="#3a302c" stroke-width="1"/>
<text x="75.60" y="881.70" font-size="9.6" font-weight="bold" text-anchor="end" fill="#333">IB: EAAT2</text>
<text x="75.60" y="911.00" font-size="9.6" font-weight="bold" text-anchor="end" fill="#333">IB: Bax</text>
<text x="75.60" y="941.20" font-size="9.6" font-weight="bold" text-anchor="end" fill="#333">IB: Bcl-2</text>
<text x="75.60" y="970.40" font-size="9.6" font-weight="bold" text-anchor="end" fill="#333">IB: &#946;-tubulin</text>
<path d="M195 878.4H206.7" stroke="#333" stroke-width="0.9"/>
<text x="209.80" y="881.80" font-size="9.6" font-weight="bold" text-anchor="start" fill="#333">70 kDa</text>
<path d="M195 908.4H206.7" stroke="#333" stroke-width="0.9"/>
<text x="209.80" y="911.80" font-size="9.6" font-weight="bold" text-anchor="start" fill="#333">21 kDa</text>
<path d="M195 937.4H206.7" stroke="#333" stroke-width="0.9"/>
<text x="209.80" y="940.80" font-size="9.6" font-weight="bold" text-anchor="start" fill="#333">26 kDa</text>
<path d="M195 960.9H206.7" stroke="#333" stroke-width="0.9"/>
<text x="209.80" y="964.30" font-size="9.6" font-weight="bold" text-anchor="start" fill="#333">55 kDa</text>
</svg>
</body></html>
